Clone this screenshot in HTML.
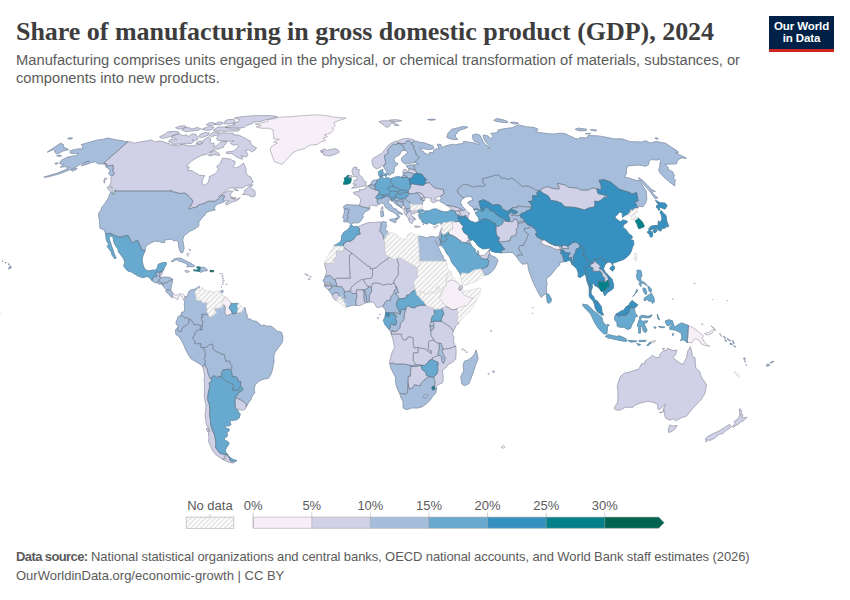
<!DOCTYPE html>
<html><head><meta charset="utf-8">
<style>
html,body{margin:0;padding:0;background:#fff;}
body{width:850px;height:600px;overflow:hidden;position:relative;font-family:"Liberation Sans",sans-serif;}
#title{position:absolute;left:16px;top:15.6px;font-family:"Liberation Serif",serif;font-weight:bold;font-size:26px;color:#3d3d3d;white-space:nowrap;letter-spacing:-0.03px;line-height:32px;}
#sub{position:absolute;left:16px;top:52.3px;font-size:14.73px;line-height:17.8px;color:#5b5b5b;white-space:nowrap;}
#logo{position:absolute;left:769px;top:16px;width:65px;height:36px;background:#002147;border-bottom:3px solid #ce261e;box-sizing:border-box;color:#fff;font-weight:bold;font-size:11.5px;line-height:11.8px;text-align:center;padding-top:5.2px;letter-spacing:-0.09px}
#foot{position:absolute;left:16px;top:546.6px;font-size:13px;line-height:19.8px;color:#5b5b5b;white-space:nowrap;}#foot b{letter-spacing:-0.6px}#foot span{letter-spacing:-0.095px}
svg{position:absolute;left:0;top:0}
.lg{font-size:12.5px;fill:#5b5b5b;font-family:"Liberation Sans",sans-serif}
</style></head><body>
<svg width="850" height="600" viewBox="0 0 850 600">
<defs>
<pattern id="h" width="3.6" height="3.6" patternUnits="userSpaceOnUse" patternTransform="rotate(45)"><rect width="3.6" height="3.6" fill="#fff"/><line x1="1.8" y1="0" x2="1.8" y2="3.6" stroke="#e5e5e5" stroke-width="2"/></pattern>
<pattern id="h2" width="3.4" height="3.4" patternUnits="userSpaceOnUse" patternTransform="rotate(45)"><rect width="3.4" height="3.4" fill="#fff"/><line x1="1.7" y1="0" x2="1.7" y2="3.4" stroke="#dadada" stroke-width="1.1"/></pattern>
</defs>
<g fill="#d0d1e6" stroke="#d0d1e6" stroke-width="0.8" stroke-linejoin="round">
<path d="M127.9,141.8L131.0,142.0L134.4,143.3L139.3,142.0L145.4,141.1L151.6,140.0L154.6,141.8L158.4,141.3L161.7,141.3L166.6,143.1L169.7,143.3L169.8,144.9L176.0,145.5L178.8,146.2L180.4,144.4L185.1,144.9L189.4,145.8L194.5,145.8L197.7,144.0L200.3,144.9L203.1,142.0L203.8,139.8L209.0,136.8L210.6,138.7L210.3,140.9L209.9,142.4L211.5,143.5L213.7,142.9L214.1,144.6L213.4,146.7L216.5,146.0L220.0,142.4L223.3,141.3L226.6,141.3L226.2,143.5L223.8,145.3L223.7,147.1L218.5,149.1L215.2,148.9L210.7,151.6L207.3,154.0L201.9,155.3L196.5,157.9L191.8,160.8L188.4,163.8L186.4,166.7L189.3,167.2L187.8,170.6L191.8,170.6L195.2,172.8L199.5,175.3L204.6,175.5L201.9,181.0L202.5,183.5L203.5,185.5L205.9,184.5L208.4,182.2L209.4,178.5L209.0,176.8L214.5,174.3L217.8,171.1L218.3,168.2L216.6,166.7L220.1,163.8L222.5,158.2L225.9,158.4L230.1,159.1L232.1,160.3L235.1,161.5L234.7,163.8L233.2,166.7L235.6,167.9L239.0,166.7L243.5,163.1L244.4,165.0L245.8,168.2L245.9,172.3L247.5,175.5L250.8,177.0L251.8,179.5L253.3,182.0L250.4,184.7L246.3,185.7L243.0,187.8L237.0,187.8L229.9,188.0L226.0,190.5L221.8,193.6L218.3,196.1L219.8,196.4L224.0,193.1L228.9,190.8L233.2,191.3L230.6,193.6L230.5,196.1L230.9,198.2L234.3,199.2L237.5,199.0L240.1,197.7L238.3,199.7L236.5,200.8L231.3,202.3L226.3,205.1L225.4,203.3L229.1,200.8L225.6,200.8L224.0,201.0L223.3,199.5L224.5,195.9L221.9,195.1L219.5,197.4L218.3,199.0L215.0,201.3L208.4,201.3L204.4,203.3L199.2,204.9L197.7,205.6L197.4,206.9L192.9,207.7L189.0,209.3L188.2,208.5L190.5,206.4L192.9,201.3L191.3,198.7L189.5,197.4L187.8,194.9L184.0,192.8L181.0,193.6L178.4,193.1L174.8,192.1L171.7,191.6L171.5,190.0L171.0,191.0L141.0,191.0L114.4,191.0L115.5,190.3L113.7,188.0L110.9,186.5L109.5,185.5L111.0,182.7L111.2,179.7L110.5,177.7L112.2,176.0L114.5,173.6L112.8,171.1L113.3,167.7L112.9,165.0L107.1,166.2L106.7,163.8L103.7,163.1ZM113.0,192.6L110.4,191.6L108.6,189.8L107.0,187.2L109.0,186.5L111.9,188.0L113.1,190.5ZM104.3,183.2L103.8,181.0L104.7,178.2L107.0,178.5L105.1,180.5ZM242.3,194.4L245.0,192.3L244.3,190.5L247.7,188.0L250.2,185.2L252.8,184.7L250.6,187.8L251.5,188.8L253.3,189.5L254.9,190.8L255.1,193.1L255.2,195.6L253.8,196.9L252.1,196.4L250.1,196.4L249.3,194.9L246.3,194.6ZM231.5,196.9L233.7,197.7L235.8,197.7L234.4,198.7L231.9,198.2ZM233.8,189.0L236.9,189.3L238.4,190.8L235.5,190.3ZM210.5,151.9L214.8,150.7L216.0,151.6L218.6,153.0L219.7,155.3L217.1,155.3L215.0,154.4L210.4,156.0L208.3,155.1L211.2,154.0ZM220.5,133.0L225.5,132.8L228.1,133.4L233.2,133.0L233.9,135.1L238.0,134.9L240.4,135.9L242.8,137.2L245.3,138.3L247.6,139.8L250.2,140.9L250.5,143.1L252.4,145.8L256.4,147.8L255.4,149.8L251.6,152.1L250.2,150.7L248.4,149.8L245.5,150.5L247.8,154.4L246.6,156.7L243.9,156.7L241.2,155.1L242.7,159.1L240.3,158.6L235.9,156.7L234.2,154.9L231.5,153.5L226.9,153.7L226.2,152.1L233.9,151.0L236.1,148.7L239.2,146.4L236.9,144.6L232.5,144.9L230.4,143.1L233.9,140.5L229.1,141.3L223.6,140.9L217.5,140.2L216.7,138.3L218.2,135.5ZM168.4,141.3L172.0,142.6L172.2,144.2L180.8,144.0L186.5,143.3L191.4,143.5L194.0,141.5L192.1,140.0L195.8,140.5L198.3,138.7L197.1,136.6L196.0,134.5L192.5,134.0L188.2,136.6L186.8,134.9L182.6,135.7L179.7,134.0L172.4,135.5L171.4,137.9L174.6,137.9L176.9,139.6L170.0,139.8ZM159.6,136.8L161.9,138.3L166.7,137.6L173.2,135.5L178.9,133.4L178.5,131.8L173.6,131.3L167.3,132.0L165.4,134.0ZM198.7,136.6L201.7,137.6L207.8,135.5L209.4,133.0L205.1,132.6L200.0,134.5ZM209.4,135.5L211.6,136.6L218.4,134.5L219.5,132.4L215.2,132.0L211.8,133.0ZM195.9,143.1L199.2,144.2L202.7,143.1L201.9,141.1L198.1,141.5ZM181.7,129.9L185.8,131.6L191.3,130.9L198.2,130.3L200.9,128.7L197.1,127.5L192.0,129.1L189.2,127.7L184.4,127.9ZM201.8,129.3L206.0,130.3L211.1,129.9L214.1,127.3L209.5,126.7L205.0,127.9ZM213.0,130.3L216.8,131.1L220.9,130.9L225.2,131.3L232.6,130.9L237.9,131.1L240.3,129.3L237.0,128.7L232.0,129.1L227.6,127.5L223.4,127.1L218.1,127.1ZM225.0,127.1L229.1,127.5L233.4,127.7L239.3,127.9L244.3,127.5L246.0,125.7L252.9,123.2L253.4,121.9L260.5,121.4L266.4,119.6L273.6,118.0L277.5,116.7L271.6,115.7L260.8,115.6L250.9,115.9L241.7,116.7L234.3,118.1L239.6,119.5L239.2,121.0L232.9,124.0L234.6,125.1L229.5,125.7ZM225.1,120.9L224.3,123.8L228.5,124.0L234.8,123.0L235.2,121.4L233.9,119.5L228.3,119.5ZM175.5,127.7L178.9,129.1L186.8,127.3L184.5,125.7L178.8,126.5ZM206.3,125.1L211.5,125.7L215.5,123.8L212.8,122.5L208.1,123.2ZM214.5,124.5L219.9,124.9L223.5,123.2L220.8,121.9L216.7,122.8Z"/>
<path d="M160.2,271.9L161.6,271.9L162.2,270.3L162.6,270.9L162.0,274.3L160.0,277.1L159.4,277.1Z"/>
<path d="M184.7,270.9L186.8,270.3L189.4,271.4L188.2,272.2L185.9,272.2Z"/>
<path d="M202.9,366.7L203.8,371.0L204.6,376.2L204.1,380.1L204.6,385.4L204.5,390.6L204.3,395.8L205.1,401.0L206.1,405.0L205.8,410.2L205.0,415.4L205.8,420.6L206.8,425.8L209.1,427.9L209.7,431.5L208.4,433.0L209.0,438.2L208.5,441.3L210.1,445.1L212.4,450.2L215.8,454.7L219.3,457.2L223.0,458.9L224.9,458.7L224.1,456.4L226.3,455.2L228.2,454.7L223.9,454.2L220.0,453.4L218.1,450.9L215.6,447.6L215.9,443.8L215.3,438.7L214.6,434.9L212.2,429.7L210.6,424.5L210.4,419.3L209.4,414.1L209.9,410.7L209.4,405.0L207.7,399.7L207.8,395.8L208.6,391.4L209.6,387.4L209.2,382.7L211.5,381.4L211.3,378.3L209.8,378.3L208.7,374.9L207.7,371.8L207.5,369.4L206.2,367.8L204.7,364.4ZM224.6,455.9L228.3,455.7L230.6,461.1L234.1,462.1L233.6,463.1L229.5,462.4L224.7,460.4L222.2,459.2L225.4,458.9L226.4,457.7ZM206.5,428.1L208.2,428.1L209.2,431.8L207.4,431.5Z"/>
<path d="M235.4,397.6L239.2,399.2L240.1,399.5L244.1,402.1L246.2,404.2L246.2,406.8L245.6,408.6L243.5,410.2L240.6,409.9L236.9,408.9L235.3,407.3L234.9,402.3Z"/>
<path d="M320.2,151.0L324.1,148.9L327.3,150.3L331.0,149.4L335.4,148.7L337.8,149.8L339.3,152.1L336.5,153.7L330.9,155.8L326.5,155.6L323.1,154.6L324.2,153.3L320.9,152.3L323.7,151.4Z"/>
<path d="M351.6,188.3L356.0,187.8L360.0,186.7L365.6,185.7L366.1,181.7L363.4,181.0L362.6,177.7L359.9,175.5L358.8,173.6L359.2,169.6L356.4,169.4L357.0,167.2L353.7,167.2L352.1,169.9L352.3,172.8L353.4,175.3L353.5,176.5L356.4,176.3L357.2,179.0L357.1,180.2L354.2,180.2L354.5,182.2L352.7,184.0L356.5,185.0L354.4,186.0ZM351.0,178.2L352.4,177.2L351.3,175.5L349.1,175.8L348.9,176.0L347.3,177.2L348.8,178.2Z"/>
<path d="M359.2,205.4L360.3,202.5L360.7,199.5L358.5,196.1L353.9,193.8L353.5,192.3L356.9,191.6L359.8,191.8L359.4,189.3L360.8,190.0L363.4,189.3L366.2,188.0L366.2,186.2L368.0,185.7L369.0,186.5L371.4,188.5L372.6,188.5L374.7,189.8L375.9,189.8L379.5,191.0L378.5,194.6L377.3,195.1L375.5,197.7L377.0,198.7L377.4,199.0L377.1,200.8L377.6,203.3L378.6,204.4L376.6,206.2L373.4,205.4L371.4,205.1L369.5,206.2L369.7,208.0L366.8,208.0L364.5,207.2L362.0,206.9ZM381.1,208.0L382.7,206.4L383.0,209.0L382.4,210.6L381.1,209.3Z"/>
<path d="M403.9,209.3L405.2,207.4L406.4,209.3L406.3,210.8L407.5,212.1L406.8,213.9L405.6,215.0L404.2,213.1L404.2,210.3Z"/>
<path d="M405.6,215.0L406.8,213.9L407.5,212.1L409.3,211.3L411.5,210.7L414.7,210.3L418.0,209.8L419.2,210.8L418.1,212.1L413.9,212.1L414.9,213.9L412.5,213.4L411.0,212.9L411.9,215.5L412.6,216.8L414.5,218.9L414.6,220.2L412.7,219.6L413.0,221.2L412.3,223.3L411.5,223.3L409.9,222.5L408.4,219.6L410.2,218.6L408.5,218.6L407.5,217.3L406.1,215.5ZM414.1,226.4L416.2,225.9L420.2,226.7L416.4,227.5ZM412.9,217.0L415.2,218.9L415.9,219.4L413.5,217.3ZM418.5,216.0L419.9,216.8L418.8,216.8ZM423.0,224.1L424.0,223.6L423.3,224.9Z"/>
<path d="M416.9,192.8L419.3,192.6L422.1,193.8L424.8,197.7L422.3,197.7L421.2,200.0L420.5,196.4Z"/>
<path d="M408.0,192.6L408.4,190.8L411.0,186.2L409.8,184.7L412.4,183.7L417.5,184.7L423.5,185.2L425.7,183.2L429.6,182.7L433.9,187.5L439.2,188.8L443.4,189.5L443.9,193.8L441.0,195.9L437.8,196.9L434.9,198.2L435.6,200.0L438.6,200.2L436.3,201.3L433.6,202.8L432.3,202.3L430.1,200.2L432.1,198.4L428.7,197.9L426.2,197.4L424.3,200.5L421.2,200.0L422.3,197.7L424.8,197.7L422.1,193.8L419.3,192.6L416.9,192.8L412.8,193.8L409.5,193.6Z"/>
<path d="M403.1,173.3L402.9,171.6L403.7,169.6L405.6,169.4L407.0,171.1L409.0,170.6L408.7,168.9L410.5,168.7L414.7,169.9L415.5,170.4L416.9,173.3L414.0,174.3L410.4,172.6L406.4,172.6Z"/>
<path d="M383.6,166.0L382.5,165.5L380.7,167.0L378.0,168.4L376.1,168.7L373.4,166.7L372.2,163.1L372.1,159.6L374.1,157.7L377.8,155.6L381.5,153.5L384.7,149.8L387.7,146.0L390.0,144.0L394.3,141.5L398.6,140.7L401.6,139.2L405.2,138.5L409.2,138.7L414.2,140.0L413.8,141.5L411.6,142.9L409.5,140.9L406.2,141.3L405.1,143.7L401.7,143.5L397.5,142.9L396.8,144.4L393.4,144.2L390.8,146.4L388.1,149.6L387.9,153.7L384.4,155.3L385.2,160.8L386.0,161.5L384.8,164.3ZM378.9,121.6L383.0,124.4L385.8,127.1L388.7,126.9L390.9,123.4L394.5,122.8L389.6,121.0L386.0,120.7L381.7,121.0ZM389.5,120.3L394.9,121.9L401.7,120.7L397.1,119.8L391.5,119.8ZM394.4,125.3L399.0,125.7L397.0,124.0L394.0,124.0Z"/>
<path d="M358.2,227.0L360.8,225.4L363.2,224.6L366.2,223.3L369.5,222.5L373.8,222.5L378.1,222.0L381.6,222.3L380.8,224.6L381.1,228.0L379.4,230.3L382.8,234.8L384.0,239.5L385.0,242.9L384.9,249.2L385.5,254.4L389.8,257.3L380.0,264.1L376.2,267.7L372.5,268.8L370.5,269.0L370.3,266.9L367.1,265.6L352.2,253.4L343.6,247.3L343.6,246.3L343.6,243.7L347.2,241.3L350.3,241.3L351.9,240.3L354.8,237.9L354.8,237.1L356.6,235.1L360.4,234.0L359.3,231.7L359.3,228.5Z"/>
<path d="M461.8,285.5L462.6,287.6L461.5,288.6L462.4,288.6L461.3,290.2L459.0,289.9L458.9,288.1L460.2,286.0Z"/>
<path d="M459.0,323.1L455.8,325.8L454.3,329.4L453.4,331.0L450.0,326.8L449.8,326.5L441.5,321.3L441.5,318.7L442.7,315.8L443.8,314.3L442.4,309.6L441.4,307.7L445.8,306.7L448.1,307.2L450.9,309.3L454.1,309.8L457.6,308.5L457.6,311.4L457.7,321.1Z"/>
<path d="M453.4,331.0L452.4,334.4L454.0,337.0L453.4,340.4L454.5,344.8L455.8,346.1L450.2,348.2L445.6,349.0L443.1,349.0L442.5,347.5L441.2,343.5L438.9,343.3L436.6,342.5L434.3,341.2L433.9,340.1L431.2,335.7L430.6,330.5L432.2,330.2L434.1,327.3L433.4,325.0L434.1,324.7L433.4,321.3L441.5,321.3L449.8,326.5L450.0,326.8Z"/>
<path d="M431.3,322.4L433.4,321.3L434.1,324.7L433.4,325.0L432.0,326.0L429.9,325.8L430.4,323.1Z"/>
<path d="M324.5,263.0L325.5,268.0L326.6,271.7L325.3,276.6L329.9,275.3L332.6,278.2L335.1,280.0L336.0,278.2L338.6,278.4L341.8,278.2L350.4,278.2L350.0,275.6L349.4,263.8L349.5,255.4L352.2,253.4L343.6,247.3L343.5,250.7L336.1,250.7L336.0,257.3L333.7,258.6L333.6,263.0Z"/>
<path d="M335.1,280.0L336.0,278.2L338.6,278.4L341.8,278.2L350.4,278.2L350.0,275.6L349.4,263.8L349.5,255.4L352.2,253.4L367.1,265.6L370.3,266.9L370.5,269.0L372.5,268.8L372.6,275.6L371.0,278.4L366.0,278.7L363.5,279.8L361.4,279.5L358.4,281.6L355.0,283.9L352.9,285.8L351.1,287.9L350.4,291.5L348.8,291.0L344.6,292.0L343.9,289.9L341.7,286.5L338.2,286.8L336.9,286.3L336.9,285.0Z"/>
<path d="M324.7,286.3L328.6,285.8L331.6,285.8L331.6,288.1L328.3,289.9L326.3,287.9Z"/>
<path d="M332.4,295.2L334.3,292.8L337.3,292.6L338.6,294.4L339.3,296.5L336.5,300.7L334.2,299.4L332.6,297.0Z"/>
<path d="M350.4,291.5L352.2,293.3L356.6,293.6L356.3,289.9L362.8,289.7L365.1,289.9L366.2,288.9L368.5,287.6L368.0,286.3L365.3,283.7L363.5,279.8L361.4,279.5L358.4,281.6L355.0,283.9L352.9,285.8L351.1,287.9Z"/>
<path d="M356.5,305.4L355.6,300.9L356.8,297.8L356.6,293.6L356.3,289.9L362.8,289.7L364.1,292.6L363.9,296.5L364.4,300.9L365.8,302.8L363.0,304.1L359.5,305.6Z"/>
<path d="M363.5,279.8L365.3,283.7L368.0,286.3L369.4,286.3L371.3,288.1L371.5,286.0L372.6,283.4L376.7,282.9L380.9,283.9L383.6,285.2L387.5,283.9L391.2,284.5L394.1,282.9L393.9,281.1L398.3,274.5L398.2,266.4L399.0,265.4L396.8,258.6L395.1,259.6L389.8,257.3L380.0,264.1L376.2,267.7L372.5,268.8L372.6,275.6L371.0,278.4L366.0,278.7Z"/>
<path d="M369.2,302.0L369.4,295.2L371.7,291.3L371.3,288.1L371.5,286.0L372.6,283.4L376.7,282.9L380.9,283.9L383.6,285.2L387.5,283.9L391.2,284.5L394.1,282.9L395.6,286.0L396.5,288.6L394.7,289.9L393.4,293.9L391.1,296.7L390.2,300.4L387.4,300.4L385.6,301.7L382.8,306.2L379.1,307.2L376.8,307.5L375.4,305.1L373.4,302.2Z"/>
<path d="M394.1,282.9L393.9,281.1L398.3,274.5L398.2,266.4L399.0,265.4L396.8,258.6L399.1,257.3L417.5,267.7L417.8,277.7L415.3,277.9L414.5,281.6L413.4,283.2L414.6,285.8L415.6,290.2L412.8,291.0L409.0,294.9L406.7,295.2L406.3,297.8L402.1,298.6L398.7,299.1L398.0,296.5L395.2,293.3L398.6,292.6L397.4,289.9L396.5,286.8L395.6,286.0Z"/>
<path d="M391.1,333.9L391.8,332.3L393.0,330.7L393.9,331.5L396.2,331.5L398.1,329.9L399.9,327.8L400.4,323.9L403.6,320.0L404.1,317.9L404.8,312.4L405.9,309.6L405.9,307.5L408.0,305.6L410.5,307.2L414.7,308.0L415.8,306.4L419.3,305.6L421.8,305.1L426.2,305.4L430.3,307.2L432.7,307.5L434.3,309.3L434.1,312.4L435.3,313.2L432.0,316.9L431.3,320.0L431.3,322.4L430.4,323.1L429.9,325.8L430.4,327.3L430.6,330.5L431.2,335.7L433.9,340.1L429.5,340.9L428.3,343.0L428.7,346.1L428.2,349.5L429.7,351.1L431.3,350.6L431.3,353.7L428.1,351.4L425.4,349.0L421.3,348.2L419.0,348.2L418.1,347.2L414.2,348.0L413.1,343.5L413.4,340.4L413.2,337.8L409.8,337.0L407.9,337.0L406.7,339.6L403.5,339.9L401.9,337.5L401.3,334.1L395.3,334.1L393.2,334.1L391.3,334.4Z"/>
<path d="M391.3,334.4L393.2,334.1L395.3,334.1L401.3,334.1L401.9,337.5L403.5,339.9L406.7,339.6L407.9,337.0L409.8,337.0L413.2,337.8L413.4,340.4L413.1,343.5L414.2,348.0L418.1,347.2L418.0,352.7L413.4,352.7L413.2,361.0L416.3,364.7L411.7,365.7L405.1,364.2L394.9,364.2L393.1,362.9L389.8,363.8L389.9,360.5L391.6,353.7L394.5,347.5L393.8,343.0L392.7,338.3ZM390.7,331.8L391.6,330.7L393.0,330.7L391.8,332.3L391.1,333.9Z"/>
<path d="M418.1,347.2L419.0,348.2L421.3,348.2L425.4,349.0L428.1,351.4L431.3,353.7L431.3,350.6L429.7,351.1L428.2,349.5L428.7,346.1L428.3,343.0L429.5,340.9L433.9,340.1L434.3,341.2L436.6,342.5L438.9,343.3L439.5,346.9L438.7,351.4L437.9,354.2L439.0,355.3L432.0,357.9L432.4,359.5L429.2,360.3L428.7,361.8L424.5,365.5L420.6,365.2L420.4,365.2L416.3,364.7L413.2,361.0L413.4,352.7L418.0,352.7Z"/>
<path d="M455.8,346.1L456.1,351.4L455.9,356.6L455.7,359.2L453.1,361.8L448.4,364.4L445.5,367.8L442.2,370.7L443.2,376.2L443.0,380.1L442.6,382.7L438.2,384.8L436.5,386.4L436.6,388.8L434.8,388.8L434.5,386.1L435.0,382.7L433.7,377.3L436.5,374.4L437.9,370.5L437.6,367.1L438.2,363.1L438.0,362.4L433.8,360.5L432.4,359.5L432.0,357.9L439.0,355.3L441.9,356.9L441.5,360.5L443.4,363.4L444.7,360.5L445.1,357.6L443.2,354.0L442.1,351.4L443.1,349.0L445.6,349.0L450.2,348.2Z"/>
<path d="M420.6,365.2L422.5,369.9L425.8,372.3L426.3,375.2L429.4,376.7L426.9,378.0L423.8,380.4L421.2,383.3L420.2,385.9L414.6,384.8L412.2,388.2L409.3,389.0L408.0,383.5L408.2,376.2L410.5,376.2L410.8,366.5L416.2,366.5L418.8,365.7L420.4,365.2Z"/>
<path d="M539.9,190.5L543.1,188.0L547.3,186.5L553.4,188.5L558.7,189.0L559.4,188.5L557.4,183.2L565.9,185.2L567.7,187.2L577.1,188.0L581.3,190.0L588.4,190.0L592.1,188.0L597.0,188.8L597.4,191.6L598.2,193.6L602.1,194.4L607.9,196.1L608.6,196.9L603.9,197.4L602.0,199.5L598.6,201.5L594.6,201.3L595.1,203.8L594.6,206.9L588.8,208.0L584.6,210.0L574.9,207.4L566.3,206.9L564.9,206.9L561.6,203.3L556.5,201.3L551.0,200.5L548.4,196.1L542.4,192.8Z"/>
<path d="M495.9,225.6L498.4,226.4L500.1,225.1L502.6,223.8L502.8,221.7L504.5,220.7L506.3,221.2L509.2,221.5L512.5,221.7L513.7,220.4L514.3,218.9L516.7,219.6L517.7,222.5L521.4,221.0L524.5,221.5L522.9,222.5L517.9,223.6L518.0,227.2L516.0,229.8L517.0,231.7L515.6,235.3L510.9,236.9L510.0,240.3L509.8,240.8L501.8,241.9L498.1,240.8L499.5,237.7L497.1,236.4L495.9,232.2L495.9,229.0Z"/>
<path d="M561.8,248.4L564.3,248.6L568.7,248.4L567.4,246.0L563.6,245.0L561.7,246.8L561.6,247.3Z"/>
<path d="M589.9,265.6L590.3,265.4L592.0,263.0L593.2,263.3L593.6,260.1L595.7,262.0L598.5,264.1L600.9,266.4L599.1,268.0L602.2,270.1L606.0,274.5L608.2,277.4L608.8,280.3L606.6,280.8L605.6,282.4L603.7,281.3L604.4,281.1L604.2,277.9L602.1,275.8L601.7,273.2L599.5,270.9L596.7,271.9L595.3,271.1L592.9,272.2L592.7,267.7L591.1,267.7Z"/>
<path d="M479.1,255.2L481.7,258.8L487.6,259.4L488.6,255.4L489.7,253.6L489.3,251.8L488.7,250.7L486.5,252.8L484.5,255.4L481.2,255.4Z"/>
<path d="M440.0,232.2L441.0,231.7L442.9,229.3L442.4,228.3L441.5,228.3Z"/>
<path d="M446.6,205.4L449.7,205.6L454.1,206.7L457.4,207.4L461.0,209.3L460.9,211.1L458.1,210.8L455.0,211.3L453.4,210.3L450.6,210.3L450.7,208.5L448.8,206.4Z"/>
<path d="M455.0,211.3L458.1,210.8L459.4,212.1L461.0,215.0L462.5,217.0L461.6,217.0L459.0,215.7L458.5,215.0L455.9,213.9Z"/>
<path d="M458.1,210.8L460.9,211.1L461.0,209.3L463.4,210.8L465.2,209.3L468.0,212.6L469.8,213.1L468.3,216.0L467.9,218.3L465.7,217.0L466.1,215.7L463.4,216.3L461.6,217.0L462.5,217.0L461.0,215.0L459.4,212.1Z"/>
<path d="M621.2,375.7L624.6,373.1L628.1,372.5L632.9,371.0L638.9,369.1L641.7,363.7L644.4,363.9L645.1,361.0L648.6,358.7L652.5,355.3L655.7,357.4L659.1,357.6L660.3,354.0L662.9,351.1L667.2,350.1L667.4,348.2L672.6,350.6L676.8,350.1L675.5,354.8L672.8,357.6L675.8,360.0L679.8,363.1L683.2,364.4L686.5,357.9L687.7,351.4L690.3,346.7L691.9,352.2L692.0,356.1L695.1,357.9L695.3,363.1L695.8,368.4L699.7,371.5L700.9,376.2L703.0,379.6L706.5,384.8L704.9,393.5L701.0,399.7L695.8,405.0L691.2,410.2L686.3,416.2L681.1,417.8L675.7,420.9L673.5,418.8L670.2,420.1L665.8,418.3L664.7,415.4L664.8,411.8L663.1,411.8L664.7,409.7L662.7,410.7L666.0,403.9L662.7,406.8L659.1,409.7L657.9,408.9L657.6,404.4L653.6,402.3L647.4,401.3L640.1,403.1L635.0,405.0L633.0,407.3L625.4,407.3L619.8,410.2L615.7,409.7L614.0,408.4L617.7,402.3L617.9,397.1L618.0,390.6L617.2,386.7L618.3,382.7L619.9,377.8ZM669.8,425.0L673.0,426.1L677.1,425.5L674.9,428.9L671.5,431.5L668.7,432.5L668.1,429.7ZM662.1,348.5L664.8,348.5L663.6,349.5ZM659.4,412.3L662.4,412.3L660.6,412.8Z"/>
<path d="M739.8,408.6L741.9,411.0L740.6,414.9L742.9,414.6L741.8,417.0L743.9,417.8L747.1,417.2L743.7,420.6L741.0,421.4L739.1,423.7L732.9,427.4L732.2,426.6L735.0,423.7L734.1,421.4L736.7,420.1L739.6,416.2L739.9,413.3L739.3,410.7ZM729.6,424.5L731.0,426.3L730.6,427.6L725.2,431.0L723.3,433.3L719.0,434.3L714.7,438.2L710.4,440.2L707.9,440.2L705.0,439.2L707.7,436.6L713.3,433.6L718.9,431.0L724.1,427.9L727.7,425.3ZM706.0,440.7L707.0,441.0L705.6,441.8Z"/>
<path d="M461.9,349.3L462.6,348.5L463.3,349.3L462.6,350.1ZM464.3,350.6L464.9,349.9L465.4,350.6L464.8,351.2ZM466.0,352.2L466.6,351.5L467.2,352.2L466.6,352.8Z"/>
<path d="M490.4,330.9L491.0,330.2L491.6,330.9L491.0,331.5Z"/>
<path d="M377.5,318.0L378.2,317.3L378.9,318.0L378.2,318.8ZM379.6,314.5L380.1,314.0L380.5,314.5L380.1,315.0Z"/>
<path d="M308.3,279.2L309.1,278.3L309.9,279.2L309.0,280.1ZM306.9,275.3L307.6,274.5L308.3,275.3L307.6,276.1ZM309.9,276.6L310.5,276.0L311.1,276.6L310.5,277.3ZM305.1,274.3L305.8,273.5L306.5,274.3L305.8,275.0Z"/>
<path d="M221.9,276.4L222.6,275.6L223.2,276.4L222.5,277.1ZM222.3,278.4L222.9,277.9L223.3,278.4L222.8,279.0ZM222.9,280.4L223.5,279.7L224.1,280.4L223.4,281.1ZM222.9,282.4L223.4,281.8L223.8,282.4L223.3,282.9ZM222.4,284.2L222.8,283.7L223.2,284.2L222.8,284.7ZM226.1,284.3L226.6,283.8L227.0,284.3L226.5,284.9ZM221.1,287.1L221.5,286.6L221.9,287.1L221.4,287.5ZM221.7,274.0L222.2,273.5L222.6,274.0L222.1,274.5ZM219.8,273.5L220.2,273.1L220.5,273.5L220.1,273.9Z"/>
<path d="M-32.6,354.2L-31.9,353.3L-31.0,354.2L-31.6,355.2ZM-30.7,355.0L-30.2,354.2L-29.4,355.0L-29.9,355.8Z"/>
<path d="M-34.1,374.1L-33.7,373.5L-32.9,374.1L-33.3,374.8Z"/>
</g>
<g fill="#a6bddb" stroke="#a6bddb" stroke-width="0.8" stroke-linejoin="round">
<path d="M114.4,191.0L141.0,191.0L171.0,191.0L171.5,190.0L171.7,191.6L174.8,192.1L178.4,193.1L181.0,193.6L184.0,192.8L187.8,194.9L189.5,197.4L191.3,198.7L192.9,201.3L190.5,206.4L188.2,208.5L189.0,209.3L192.9,207.7L197.4,206.9L197.7,205.6L199.2,204.9L204.4,203.3L208.4,201.3L215.0,201.3L218.3,199.0L219.5,197.4L221.9,195.1L224.5,195.9L223.3,199.5L224.0,201.0L224.2,201.8L220.7,203.1L216.6,204.6L214.5,207.2L214.3,209.0L215.4,209.8L212.0,210.6L209.7,211.1L206.0,212.6L204.8,215.2L202.1,217.8L199.4,221.2L198.9,222.3L198.7,226.2L196.3,228.0L193.0,229.8L190.0,231.1L185.9,234.3L183.6,236.6L182.7,239.8L183.5,244.2L184.0,248.6L182.7,252.6L180.9,252.8L179.4,249.4L178.5,246.0L178.5,242.9L176.9,240.0L173.7,241.1L171.9,239.2L168.1,239.5L164.7,239.8L164.7,242.6L162.1,242.6L159.6,241.6L154.9,241.1L151.9,242.4L147.8,244.7L145.7,246.8L145.1,250.7L141.1,249.7L140.8,246.8L139.5,244.7L138.1,240.8L135.7,240.8L133.5,242.9L131.1,241.3L128.3,235.6L124.6,235.6L124.2,236.9L118.0,236.9L110.7,233.7L111.1,233.2L105.6,233.7L104.0,229.8L100.1,228.3L99.4,223.0L99.6,219.9L98.6,216.0L98.8,213.1L101.2,209.5L102.0,206.9L104.7,203.8L108.4,197.9L110.4,192.6L113.5,193.1L113.4,195.1L115.2,191.0ZM127.9,141.8L103.7,163.1L106.7,163.8L107.1,166.2L112.9,165.0L113.3,167.7L112.8,171.1L114.5,173.6L112.2,176.0L110.1,175.3L108.7,173.6L110.2,169.9L108.0,168.2L106.1,167.2L105.3,164.3L102.1,163.8L97.5,163.8L96.1,161.7L91.6,162.4L86.8,164.3L81.2,165.8L85.0,162.7L89.6,161.0L86.3,161.5L80.3,164.3L75.0,167.5L68.1,170.4L60.0,173.6L53.1,175.5L48.0,176.8L43.9,177.2L50.7,175.0L57.6,173.1L65.5,169.6L69.2,167.0L66.6,167.0L64.6,166.7L60.4,167.2L63.7,164.3L60.3,164.1L59.9,162.4L61.6,160.0L67.3,157.2L71.7,156.3L76.2,155.6L79.1,153.3L75.6,153.5L72.9,153.3L70.1,153.0L70.2,150.7L75.5,149.4L79.9,148.7L82.8,149.4L82.3,147.6L83.2,146.0L81.2,144.6L85.7,143.3L91.2,141.8L96.8,140.2L103.4,139.2L107.4,138.1L111.9,138.9L115.6,139.8L121.0,140.7ZM71.0,170.1L72.6,171.1L76.1,169.6L77.1,168.2L74.1,168.7ZM56.6,155.8L59.2,156.3L61.6,156.0L60.2,155.1ZM54.9,163.4L56.0,164.3L58.3,163.1L57.0,162.9ZM8.6,269.0L11.1,268.0L11.4,266.7L9.8,265.9L9.0,267.2ZM8.3,264.6L9.4,264.6L9.1,263.8L8.2,263.9ZM5.1,262.8L6.2,263.0L5.9,262.0ZM2.1,261.2L2.7,261.5L2.9,260.7Z"/>
<path d="M152.1,280.8L152.3,279.0L153.7,276.6L156.7,276.6L156.6,275.6L155.7,273.7L155.9,272.2L160.2,271.9L159.4,277.1L161.3,277.7L159.1,279.8L158.5,281.1L156.7,282.6L154.0,282.4Z"/>
<path d="M156.7,282.6L158.5,281.1L160.4,282.4L162.0,282.4L161.9,283.9L159.6,284.2Z"/>
<path d="M159.1,279.8L161.3,277.7L163.2,277.1L166.7,277.1L170.1,277.4L172.8,279.5L169.8,280.3L167.3,282.4L164.5,282.9L163.6,284.7L162.6,283.9L161.9,283.9L162.0,282.4L160.4,282.4L158.5,281.1Z"/>
<path d="M162.6,283.9L163.6,284.7L164.5,282.9L167.3,282.4L169.8,280.3L172.8,279.5L171.7,284.7L170.9,288.6L170.8,290.2L168.5,289.9L166.2,289.7L164.5,287.9L162.4,285.2Z"/>
<path d="M166.2,289.7L168.5,289.9L170.8,290.2L173.1,293.6L172.3,295.4L172.2,297.5L170.4,296.2L168.3,293.6L167.2,292.8L165.9,291.8Z"/>
<path d="M171.1,261.5L174.6,258.8L178.1,258.1L181.4,258.3L184.6,260.1L187.8,261.7L191.0,263.3L194.8,265.9L192.9,266.7L186.7,266.8L188.1,264.9L185.3,263.3L182.1,262.0L178.2,260.7L176.1,259.6L174.4,260.7L173.1,261.5Z"/>
<path d="M199.6,271.4L200.9,272.4L203.8,270.9L207.0,270.9L207.5,269.8L205.8,268.5L204.2,267.2L200.1,267.2Z"/>
<path d="M220.7,292.3L222.8,292.3L223.1,290.5L221.3,290.7Z"/>
<path d="M184.9,296.0L186.2,297.8L187.5,295.2L189.3,291.0L191.3,289.7L194.7,289.2L197.4,287.6L198.6,286.3L199.9,287.1L199.4,287.9L197.8,288.4L196.5,289.7L195.3,291.5L195.2,293.1L195.6,294.9L196.4,296.7L196.0,299.4L197.2,300.4L200.2,300.1L203.1,302.8L207.5,302.5L206.7,304.8L206.6,307.5L207.7,309.8L206.5,311.4L207.9,312.7L208.5,315.6L208.1,315.6L206.0,314.3L201.9,314.3L201.8,315.8L203.2,316.1L202.8,316.9L201.4,317.1L201.4,319.2L202.8,321.6L201.8,329.7L199.9,328.6L201.2,325.8L197.3,324.5L194.7,325.0L192.8,322.1L190.3,319.2L189.1,319.0L188.4,318.4L186.8,317.7L184.3,317.7L183.4,316.6L181.1,315.0L181.6,312.2L184.1,311.9L184.7,308.8L184.3,304.3L184.7,301.2L183.6,299.9L185.3,298.1Z"/>
<path d="M181.1,315.0L178.1,316.6L177.1,319.7L176.2,321.6L176.3,324.7L178.4,325.2L177.7,327.6L177.6,330.2L179.7,331.5L180.8,331.8L182.1,328.9L183.5,326.5L186.2,325.5L188.5,322.9L189.1,321.1L189.1,319.0L188.4,318.4L186.8,317.7L184.3,317.7L183.4,316.6Z"/>
<path d="M177.7,327.6L175.5,329.9L175.9,334.4L179.0,336.7L181.2,340.1L183.7,344.8L185.9,350.1L188.6,355.0L191.2,359.0L195.3,361.3L200.1,364.2L202.9,366.7L204.7,364.4L205.5,361.0L204.0,359.5L205.2,357.4L205.1,352.2L203.2,347.5L200.9,347.5L200.7,343.5L196.8,343.8L194.7,343.3L195.3,342.0L192.6,338.0L193.2,336.7L194.6,335.4L194.9,332.3L197.2,330.5L199.7,329.7L201.8,329.7L199.9,328.6L201.2,325.8L197.3,324.5L194.7,325.0L192.8,322.1L190.3,319.2L189.1,319.0L189.1,321.1L188.5,322.9L186.2,325.5L183.5,326.5L182.1,328.9L180.8,331.8L179.7,331.5L177.6,330.2Z"/>
<path d="M204.7,364.4L205.5,361.0L204.0,359.5L205.2,357.4L205.1,352.2L203.2,347.5L205.5,347.7L209.7,344.6L212.6,344.1L213.1,348.8L215.3,351.1L219.1,352.7L221.5,354.0L224.5,354.8L225.6,361.0L229.7,361.3L230.2,363.9L231.9,365.7L231.7,368.4L231.0,370.5L228.8,369.1L223.0,369.9L221.8,372.3L221.6,376.7L218.6,376.2L217.9,378.3L215.7,376.5L213.1,375.7L211.3,378.3L209.8,378.3L208.7,374.9L207.7,371.8L207.5,369.4L206.2,367.8Z"/>
<path d="M243.7,308.2L245.1,307.5L246.0,312.7L247.6,316.1L246.6,318.2L251.0,319.5L252.2,320.5L256.8,321.6L260.3,324.5L260.8,326.0L263.8,325.0L267.2,326.3L270.7,326.0L274.2,328.4L277.2,331.2L281.6,332.3L282.9,337.5L282.5,341.7L279.6,346.1L277.4,348.8L274.8,352.7L273.8,356.6L274.0,361.8L273.1,365.7L272.3,370.5L270.5,375.2L268.4,378.3L265.5,378.8L262.2,379.6L258.8,381.4L255.2,384.8L254.2,388.0L254.7,392.7L252.4,395.8L250.8,399.7L248.4,402.9L246.2,406.8L246.2,404.2L244.1,402.1L240.1,399.5L239.2,399.2L235.4,397.6L238.7,392.9L243.0,389.8L242.6,388.5L240.5,385.6L240.8,381.7L238.2,381.2L237.5,377.8L235.4,376.7L232.2,376.5L231.8,372.8L231.0,370.5L231.7,368.4L231.9,365.7L230.2,363.9L229.7,361.3L225.6,361.0L224.5,354.8L221.5,354.0L219.1,352.7L215.3,351.1L213.1,348.8L212.6,344.1L209.7,344.6L205.5,347.7L203.2,347.5L200.9,347.5L200.7,343.5L196.8,343.8L194.7,343.3L195.3,342.0L192.6,338.0L193.2,336.7L194.6,335.4L194.9,332.3L197.2,330.5L199.7,329.7L201.8,329.7L202.8,321.6L201.4,319.2L201.4,317.1L202.8,316.9L203.2,316.1L201.8,315.8L201.9,314.3L206.0,314.3L208.1,315.6L208.5,315.6L209.9,316.9L211.8,316.6L215.3,313.7L216.7,312.4L214.0,309.6L215.4,308.0L218.4,308.2L222.3,306.9L223.1,305.1L224.7,305.6L225.5,308.5L224.8,311.6L225.2,314.0L227.2,315.6L231.4,313.7L232.6,313.7L234.0,313.7L237.0,312.7L241.6,312.4Z"/>
<path d="M344.3,209.3L345.7,208.7L349.1,209.3L349.7,210.0L348.4,211.6L348.3,213.7L347.0,215.2L348.0,216.8L347.3,218.9L346.8,221.5L343.8,222.0L344.1,218.1L342.7,217.6L344.1,213.7L344.4,211.1Z"/>
<path d="M344.3,209.3L343.5,206.4L346.3,204.6L350.9,204.9L355.7,205.1L359.2,205.4L362.0,206.9L364.5,207.2L366.8,208.0L369.7,208.0L369.7,209.3L367.6,210.6L364.7,212.1L362.6,215.5L363.4,217.3L361.7,219.4L361.3,220.4L358.5,222.8L353.5,222.8L351.3,224.3L349.4,223.0L346.8,221.5L347.3,218.9L348.0,216.8L347.0,215.2L348.3,213.7L348.4,211.6L349.7,210.0L349.1,209.3L345.7,208.7Z"/>
<path d="M368.0,185.7L369.7,185.0L371.5,185.0L372.9,184.7L374.5,185.7L374.4,186.5L375.0,186.5L375.4,187.0L375.2,188.3L374.7,189.8L372.6,188.5L371.4,188.5L369.0,186.5Z"/>
<path d="M369.7,185.0L370.9,183.5L372.2,181.0L373.8,180.2L376.7,180.0L377.1,180.5L376.8,182.2L376.2,183.5L374.9,184.0L375.3,185.0L375.0,186.5L374.4,186.5L374.5,185.7L372.9,184.7L371.5,185.0Z"/>
<path d="M378.6,204.4L377.6,203.3L377.1,200.8L377.4,199.0L379.3,199.0L380.2,197.9L381.5,199.0L382.1,197.7L384.3,197.4L384.3,196.4L387.7,196.1L388.4,196.9L391.1,197.4L391.0,199.5L388.6,200.2L388.6,203.3L391.4,205.1L392.8,208.0L396.7,209.3L396.6,210.3L402.3,213.7L402.2,214.7L399.1,212.9L398.4,215.0L399.8,216.8L398.4,218.6L396.7,219.6L396.8,217.6L397.6,216.5L396.2,214.2L393.8,212.6L389.6,210.6L386.3,208.0L385.0,206.4L384.2,204.1L381.5,202.8L379.7,204.1ZM389.6,219.4L396.5,218.6L395.6,222.8L389.9,220.4ZM380.4,211.3L383.3,211.3L383.7,216.0L381.2,217.0L380.8,212.9Z"/>
<path d="M391.1,200.0L394.6,200.0L395.3,198.2L396.8,197.4L399.0,199.0L401.7,199.0L403.1,200.8L402.3,201.5L397.9,200.8L395.7,200.8L395.8,202.0L396.7,203.3L399.8,206.4L401.9,208.0L399.2,206.2L396.2,204.6L394.4,203.1L393.0,200.8L392.0,201.5L391.1,201.0Z"/>
<path d="M395.7,200.8L397.9,200.8L402.3,201.5L403.2,201.5L402.7,203.1L403.8,204.1L402.1,205.9L401.8,207.4L399.8,206.4L396.7,203.3L395.8,202.0Z"/>
<path d="M401.7,199.0L404.7,198.4L407.4,200.8L410.1,202.5L409.6,203.8L411.1,205.9L410.1,208.2L408.4,208.5L406.4,209.3L405.2,207.4L403.1,205.1L403.8,204.1L402.7,203.1L403.2,201.5L402.3,201.5L403.1,200.8Z"/>
<path d="M406.4,209.3L408.4,208.5L410.1,208.2L411.5,210.7L409.3,211.3L407.5,212.1L406.3,210.8Z"/>
<path d="M404.7,198.4L406.6,197.2L409.5,193.6L412.8,193.8L416.9,192.8L420.5,196.4L421.2,200.0L424.3,200.5L422.5,202.0L422.6,204.6L418.2,204.4L414.1,204.9L410.3,203.8L409.6,203.8L410.1,202.5L407.4,200.8Z"/>
<path d="M403.6,175.3L403.1,173.3L406.4,172.6L410.4,172.6L414.0,174.3L412.8,176.3L412.4,177.7L408.7,178.7L407.2,177.5L406.8,176.3Z"/>
<path d="M408.7,168.9L406.9,167.0L406.5,165.8L410.2,164.8L414.9,165.0L414.1,166.7L414.9,169.2L414.7,169.9L410.5,168.7Z"/>
<path d="M383.6,166.0L384.1,167.7L385.6,169.9L387.2,172.8L388.0,175.0L390.5,174.8L390.7,173.3L393.5,173.1L394.3,169.9L394.4,167.2L397.3,165.0L397.8,163.6L394.5,161.9L394.0,158.6L396.1,156.7L399.4,154.9L400.8,152.6L401.7,150.5L405.1,150.3L403.7,147.6L403.0,145.5L397.5,142.9L396.8,144.4L393.4,144.2L390.8,146.4L388.1,149.6L387.9,153.7L384.4,155.3L385.2,160.8L386.0,161.5L384.8,164.3Z"/>
<path d="M405.1,150.3L407.3,151.6L407.6,153.0L403.2,156.3L401.4,158.2L401.9,161.5L404.4,163.4L405.5,164.1L409.9,163.1L414.0,162.7L416.2,160.8L419.5,157.0L416.3,155.1L415.2,150.5L413.2,147.8L414.1,146.0L411.1,144.2L411.6,142.9L409.5,140.9L406.2,141.3L405.1,143.7L401.7,143.5L397.5,142.9L403.0,145.5L403.7,147.6Z"/>
<path d="M381.6,222.3L384.1,221.2L385.3,222.5L386.7,222.0L385.7,223.8L386.7,225.9L385.0,229.0L386.9,230.9L388.2,231.9L388.3,234.0L385.7,235.8L385.3,237.9L384.0,239.5L382.8,234.8L379.4,230.3L381.1,228.0L380.8,224.6Z"/>
<path d="M418.6,236.1L422.6,236.6L427.1,237.9L430.3,236.4L433.6,236.6L435.0,237.4L438.5,236.9L440.5,241.6L439.7,245.5L439.3,246.0L437.9,244.7L435.5,240.5L434.9,241.6L438.0,246.0L439.1,248.9L441.7,254.1L443.2,256.2L443.1,258.3L446.4,261.2L434.0,261.2L419.5,261.2L418.6,242.4L417.7,239.8Z"/>
<path d="M429.9,325.8L432.0,326.0L433.4,325.0L434.1,327.3L432.2,330.2L430.6,330.5L430.4,327.3Z"/>
<path d="M325.3,276.6L329.9,275.3L332.6,278.2L335.1,280.0L336.9,285.0L336.9,286.3L331.6,285.8L328.6,285.8L324.7,286.3L324.5,284.5L328.6,284.2L331.4,283.7L328.7,282.6L324.5,283.2L323.0,280.3L324.6,278.2Z"/>
<path d="M328.3,289.9L331.6,288.1L331.6,285.8L336.9,286.3L338.2,286.8L341.7,286.5L343.9,289.9L344.6,292.0L343.9,293.9L345.3,296.7L343.9,298.8L341.4,299.4L341.6,296.7L339.3,296.5L338.6,294.4L337.3,292.6L334.3,292.8L332.4,295.2L329.7,291.5Z"/>
<path d="M345.7,307.2L345.7,303.5L343.4,301.7L343.9,298.8L345.3,296.7L343.9,293.9L344.6,292.0L348.8,291.0L350.4,291.5L352.2,293.3L356.6,293.6L356.8,297.8L355.6,300.9L356.5,305.4L352.6,305.1L349.2,306.2Z"/>
<path d="M365.8,302.8L364.4,300.9L363.9,296.5L364.1,292.6L362.8,289.7L365.1,289.9L364.8,291.8L366.2,294.4L366.7,300.7L367.1,302.5Z"/>
<path d="M367.1,302.5L366.7,300.7L366.2,294.4L364.8,291.8L365.1,289.9L366.2,288.9L368.5,287.6L368.0,286.3L369.4,286.3L371.3,288.1L371.7,291.3L369.4,295.2L369.2,302.0Z"/>
<path d="M382.8,306.2L385.6,301.7L387.4,300.4L390.2,300.4L391.1,296.7L393.4,293.9L394.7,289.9L396.5,288.6L395.6,286.0L396.5,286.8L397.4,289.9L398.6,292.6L395.2,293.3L398.0,296.5L398.7,299.1L396.6,302.5L396.4,305.6L398.1,308.8L399.9,312.7L400.4,314.3L396.5,312.9L393.7,312.9L389.1,312.9L385.6,312.7L385.4,309.6L383.8,308.2Z"/>
<path d="M388.6,328.9L390.5,327.8L389.8,325.0L391.9,323.9L393.0,325.0L395.8,325.0L396.2,323.7L396.5,320.3L395.1,319.2L396.5,316.6L395.8,315.0L393.5,315.3L393.7,312.9L396.5,312.9L400.4,314.3L399.9,312.7L400.4,312.9L401.3,309.6L403.4,309.3L405.9,309.6L404.8,312.4L404.1,317.9L403.6,320.0L400.4,323.9L399.9,327.8L398.1,329.9L396.2,331.5L393.9,331.5L393.0,330.7L391.6,330.7L390.7,331.8Z"/>
<path d="M438.9,343.3L441.2,343.5L442.5,347.5L443.1,349.0L442.1,351.4L443.2,354.0L445.1,357.6L444.7,360.5L443.4,363.4L441.5,360.5L441.9,356.9L439.0,355.3L437.9,354.2L438.7,351.4L439.5,346.9Z"/>
<path d="M389.8,363.8L393.1,362.9L394.9,364.2L405.1,364.2L411.7,365.7L416.3,364.7L420.4,365.2L418.8,365.7L416.2,366.5L410.8,366.5L410.5,376.2L408.2,376.2L408.0,383.5L407.5,392.9L405.3,394.2L401.7,393.7L399.7,393.5L398.1,390.6L396.6,386.7L395.6,381.4L395.5,377.5L393.3,373.1L390.7,367.8Z"/>
<path d="M399.7,393.5L401.7,393.7L405.3,394.2L407.5,392.9L408.0,383.5L409.3,389.0L412.2,388.2L414.6,384.8L420.2,385.9L421.2,383.3L423.8,380.4L426.9,378.0L429.4,376.7L433.7,377.3L435.0,382.7L434.5,386.1L432.5,386.7L431.9,388.5L432.9,390.1L434.8,388.8L436.6,388.8L435.6,393.2L432.4,396.6L429.9,400.5L425.6,404.4L422.1,406.8L419.2,407.6L416.5,408.1L412.2,407.8L406.6,409.7L404.0,408.6L403.2,408.1L403.1,405.0L403.1,401.8L401.3,398.4Z"/>
<path d="M422.9,396.1L426.4,393.7L428.3,395.8L425.6,398.4L423.7,397.9Z"/>
<path d="M476.1,350.1L478.0,357.9L477.6,360.5L475.7,364.4L473.7,371.0L469.9,381.4L468.6,384.0L464.2,385.6L461.9,384.0L460.8,377.5L461.7,374.4L463.7,371.0L463.1,365.7L464.3,361.3L468.7,359.7L472.3,356.9L474.8,353.5Z"/>
<path d="M414.4,141.3L416.2,141.1L419.0,142.2L423.3,142.6L432.8,145.8L434.0,148.2L432.2,149.1L428.9,149.6L423.4,148.7L419.3,147.6L424.0,152.1L424.4,153.5L429.5,154.6L429.7,152.3L433.5,153.0L433.5,150.5L436.4,148.7L439.2,149.4L437.3,144.2L440.9,144.6L442.1,147.8L444.5,146.2L448.7,145.1L453.3,144.2L454.5,144.9L459.1,144.0L463.1,143.5L463.6,141.3L470.9,142.4L475.6,143.3L479.1,144.9L478.6,142.6L474.6,141.5L472.8,138.7L472.7,134.9L476.2,134.0L479.6,134.9L481.4,138.1L483.2,142.0L485.4,144.2L489.4,147.1L487.6,149.1L490.2,146.4L488.0,144.2L485.0,140.9L483.5,137.6L483.2,134.9L488.0,135.9L490.9,138.7L493.0,136.2L490.8,133.4L497.4,132.8L498.0,130.1L504.3,128.7L512.4,127.7L515.2,126.3L518.4,124.9L522.0,125.7L526.6,126.9L534.2,127.5L538.1,129.3L535.9,132.0L540.8,132.8L543.7,133.2L552.9,134.2L559.6,133.2L564.9,133.6L574.7,138.3L578.3,139.2L579.7,137.6L586.5,137.9L588.2,135.5L598.4,135.9L607.0,137.4L614.1,138.9L622.3,138.9L629.4,141.5L633.1,141.8L641.8,142.0L645.6,140.7L650.1,143.1L656.1,141.5L665.6,143.3L678.7,152.1L678.0,152.8L675.3,152.8L683.5,156.7L686.4,158.2L681.6,157.9L678.3,159.6L677.2,161.5L676.5,163.8L669.8,164.1L664.8,164.1L668.3,167.5L667.8,169.2L672.7,171.8L673.4,173.3L674.4,175.5L673.5,178.0L675.6,180.5L674.6,182.0L674.8,186.0L669.9,182.2L664.0,177.2L659.9,172.8L658.6,169.6L659.8,167.0L660.0,163.1L660.8,160.8L658.5,158.2L658.1,160.0L654.2,159.8L651.2,159.6L648.8,161.5L648.7,164.6L645.9,166.2L639.0,165.0L633.1,165.5L627.7,165.8L626.4,169.2L626.3,174.0L624.3,176.8L630.3,178.5L633.1,179.5L636.9,180.5L639.4,180.5L641.4,183.5L643.6,187.2L646.1,191.0L646.6,195.4L646.8,198.7L645.6,203.1L642.8,206.9L639.2,206.2L637.7,208.2L637.1,207.4L636.5,205.1L634.7,201.5L638.1,201.0L636.9,194.6L636.5,192.6L632.5,194.1L627.3,191.6L625.5,191.3L618.9,189.0L610.7,182.0L604.0,179.7L599.1,180.2L600.9,184.7L601.5,188.5L599.9,189.8L597.0,188.8L592.1,188.0L588.4,190.0L581.3,190.0L577.1,188.0L567.7,187.2L565.9,185.2L557.4,183.2L559.4,188.5L558.7,189.0L553.4,188.5L547.3,186.5L543.1,188.0L539.9,190.5L539.0,190.8L534.8,189.5L533.2,188.3L528.1,186.0L522.4,186.5L515.1,180.2L511.5,178.0L508.3,179.5L505.7,178.5L500.8,178.0L499.2,175.3L495.6,175.0L489.7,177.0L482.6,178.7L483.0,182.7L485.3,185.2L482.6,186.5L479.4,186.0L473.7,187.0L467.1,184.7L463.5,184.2L459.8,187.2L457.2,190.3L458.5,193.6L462.3,196.9L464.0,197.9L461.9,199.5L460.5,202.5L462.5,206.4L465.2,209.3L463.4,210.8L461.0,209.3L457.4,207.4L454.1,206.7L449.7,205.6L446.6,205.4L443.0,203.1L439.6,201.3L440.3,199.5L441.5,198.2L440.2,196.9L441.0,195.9L443.9,193.8L443.4,189.5L439.2,188.8L433.9,187.5L429.6,182.7L425.7,183.2L424.6,180.5L426.8,179.7L422.8,176.0L422.3,174.5L416.9,173.3L415.5,170.4L414.7,169.9L414.9,169.2L414.1,166.7L414.9,165.0L416.5,163.8L418.7,164.1L415.3,162.4L414.0,162.7L416.2,160.8L419.5,157.0L416.3,155.1L415.2,150.5L413.2,147.8L414.1,146.0L411.1,144.2L411.6,142.9L413.8,141.5ZM60.4,143.3L63.4,144.6L63.7,147.3L68.6,149.6L62.9,151.0L58.5,153.5L56.4,153.7L54.8,152.3L55.0,151.0L53.5,149.4L49.1,151.4L47.3,152.1ZM69.8,137.6L72.6,138.3L71.2,138.9L67.6,138.9ZM654.9,138.3L656.2,137.6L658.4,138.9L657.1,139.2ZM401.0,177.5L401.6,176.3L403.6,175.3L406.8,176.3L407.2,177.5ZM446.8,137.4L447.4,135.5L447.9,133.4L449.9,131.3L451.7,129.3L457.6,127.9L462.6,126.5L467.7,127.1L465.6,128.3L459.4,130.3L457.6,132.4L455.7,134.5L455.3,136.6L457.3,138.7L457.7,139.6L453.6,139.6L449.9,138.7ZM493.8,120.3L496.6,118.6L502.0,119.5L507.2,121.2L507.6,122.7L501.1,122.1L496.6,121.4ZM510.3,122.5L514.2,122.1L518.6,123.2L516.0,124.0L512.5,123.6ZM575.2,129.3L578.6,128.1L586.7,129.3L585.9,130.7L578.9,130.7ZM585.5,133.6L590.8,133.4L589.3,134.0ZM590.5,129.7L596.6,130.1L595.6,130.9ZM427.6,119.6L432.3,119.1L435.4,119.6L431.6,120.3ZM638.4,177.7L642.5,180.2L647.1,184.7L651.6,189.8L655.4,191.6L651.2,190.5L654.4,195.4L656.7,196.7L657.6,198.2L655.1,198.7L652.4,194.9L649.5,191.0L645.1,186.0L641.7,182.2Z"/>
<path d="M464.0,197.9L467.3,196.4L471.4,196.4L472.9,200.5L468.9,201.3L468.9,202.5L467.5,202.8L470.7,205.9L473.1,207.2L473.7,209.5L476.5,208.2L480.3,210.8L481.4,210.8L478.9,201.3L483.8,199.7L489.7,202.8L492.4,205.1L498.3,204.6L501.4,206.4L502.0,209.0L503.1,209.3L507.2,211.6L508.8,210.6L510.8,209.0L512.2,208.2L512.0,207.4L517.3,207.7L516.9,206.4L518.4,205.9L521.8,206.7L529.0,206.9L531.7,208.5L531.1,206.4L532.0,205.9L529.8,202.3L528.4,201.5L533.5,200.8L532.8,200.0L532.5,195.6L537.7,195.9L536.8,192.6L539.0,190.8L534.8,189.5L533.2,188.3L528.1,186.0L522.4,186.5L515.1,180.2L511.5,178.0L508.3,179.5L505.7,178.5L500.8,178.0L499.2,175.3L495.6,175.0L489.7,177.0L482.6,178.7L483.0,182.7L485.3,185.2L482.6,186.5L479.4,186.0L473.7,187.0L467.1,184.7L463.5,184.2L459.8,187.2L457.2,190.3L458.5,193.6L462.3,196.9Z"/>
<path d="M512.2,208.2L512.0,207.4L517.3,207.7L516.9,206.4L518.4,205.9L521.8,206.7L529.0,206.9L531.7,208.5L528.7,210.3L525.6,211.6L524.4,213.1L521.8,213.1L520.2,214.7L520.2,215.5L516.7,215.7L513.7,215.2L511.2,215.2L513.3,213.7L516.0,213.4L517.9,212.1L513.9,210.0L511.4,210.3Z"/>
<path d="M509.2,221.5L509.8,218.9L508.0,215.2L509.7,213.7L510.2,212.4L512.3,211.9L513.3,213.7L511.2,215.2L513.7,215.2L516.7,215.7L520.2,215.5L521.1,217.8L523.6,218.3L524.5,221.5L521.4,221.0L517.7,222.5L516.7,219.6L514.3,218.9L513.7,220.4L512.5,221.7Z"/>
<path d="M501.3,252.8L506.7,252.6L512.3,252.3L513.6,253.9L516.6,256.8L517.8,255.2L522.7,254.9L520.0,251.5L518.4,248.1L520.2,245.5L523.5,245.5L525.1,241.6L526.8,239.0L527.3,236.4L528.6,234.3L525.2,231.9L524.1,228.3L527.6,228.3L530.6,227.2L532.0,225.9L527.9,225.1L526.2,222.8L524.5,221.5L522.9,222.5L517.9,223.6L518.0,227.2L516.0,229.8L517.0,231.7L515.6,235.3L510.9,236.9L510.0,240.3L509.8,240.8L501.8,241.9L498.1,240.8L500.6,243.9L503.3,247.6L504.7,249.2L501.7,250.2Z"/>
<path d="M516.6,256.8L517.8,258.6L518.9,260.4L522.2,264.1L526.0,263.8L527.0,262.2L527.6,263.8L528.1,266.4L528.4,269.0L530.1,274.3L531.6,278.2L533.6,283.4L536.3,288.6L538.9,293.9L541.4,297.5L542.9,295.4L545.1,294.4L546.6,291.8L546.3,287.3L547.0,284.2L546.3,279.0L548.4,276.9L550.7,275.3L554.1,270.9L556.6,267.7L559.7,265.1L559.8,262.5L562.4,262.0L564.4,261.7L563.6,259.1L562.6,255.2L561.0,253.6L560.9,249.7L564.3,250.7L564.6,252.6L570.3,253.1L568.3,256.0L569.4,258.6L571.0,257.0L572.3,261.2L573.5,260.4L573.3,256.0L575.6,252.6L576.1,249.2L579.8,247.6L579.8,245.0L576.3,242.1L573.0,242.4L570.2,244.7L568.3,246.0L567.4,246.0L568.7,248.4L564.3,248.6L561.8,248.4L561.6,247.3L561.0,245.5L559.5,245.8L560.3,249.7L555.0,249.2L550.6,246.8L545.4,245.5L541.2,243.4L541.3,240.8L542.4,239.8L538.6,237.7L536.9,236.9L535.5,233.7L537.3,233.7L535.4,229.0L533.7,228.3L532.0,225.9L530.6,227.2L527.6,228.3L524.1,228.3L525.2,231.9L528.6,234.3L527.3,236.4L526.8,239.0L525.1,241.6L523.5,245.5L520.2,245.5L518.4,248.1L520.0,251.5L522.7,254.9L517.8,255.2Z"/>
<path d="M469.4,240.3L470.8,244.2L469.2,244.2L466.4,242.6L468.0,240.0Z"/>
<path d="M484.1,275.3L481.1,269.0L487.7,266.4L488.9,261.2L487.6,259.4L488.6,255.4L489.7,253.6L490.8,255.4L495.0,257.0L498.0,259.9L496.2,265.1L494.3,269.0L491.6,271.7L488.4,274.3ZM488.7,250.5L489.3,250.0L489.3,251.8Z"/>
<path d="M477.2,253.9L477.0,251.8L478.0,250.5L478.8,252.6L478.4,254.4Z"/>
<path d="M438.5,236.9L440.5,241.6L440.7,241.6L441.3,236.4L441.3,234.0L441.6,233.2L441.0,231.7L440.0,232.2L439.6,234.5Z"/>
<path d="M723.5,336.2L725.7,337.8L725.2,338.3L723.5,337.0ZM727.3,338.3L730.7,340.7L730.2,341.2L727.4,339.3ZM730.0,343.0L732.7,344.1L732.1,344.7L730.1,344.3ZM732.6,340.4L733.6,341.7L734.1,343.8L733.1,342.7ZM724.9,339.6L726.6,340.9L725.6,341.4ZM733.6,345.6L735.8,346.7L734.6,346.9Z"/>
<path d="M743.8,357.9L745.2,358.2L744.8,359.7L743.8,359.2ZM744.7,360.5L745.8,361.6L745.0,362.1ZM746.0,364.7L746.6,365.0L746.0,365.5Z"/>
<path d="M766.9,364.2L769.9,364.7L768.4,366.3L766.4,366.0ZM770.0,362.6L773.8,361.0L773.1,362.1L770.5,363.1Z"/>
<path d="M492.5,371.8L493.5,370.7L494.4,371.8L493.4,372.8Z"/>
</g>
<g fill="#f6eff7" stroke="#f6eff7" stroke-width="0.8" stroke-linejoin="round">
<path d="M255.1,124.0L261.2,125.5L256.2,126.9L261.9,128.3L269.6,128.3L273.1,129.9L273.1,132.4L273.7,135.5L273.7,138.7L279.2,139.2L273.7,142.0L277.4,143.1L271.6,146.4L270.1,149.8L271.3,153.3L273.0,157.9L274.4,161.5L280.0,163.8L282.7,164.1L285.8,160.3L289.6,156.7L292.7,152.6L297.8,150.3L304.3,148.7L309.5,145.3L317.4,144.4L320.4,142.0L325.8,140.5L323.0,138.1L327.4,136.6L324.5,134.9L330.5,133.0L333.5,130.3L332.5,127.9L335.3,125.3L333.7,122.8L337.9,120.7L346.2,118.1L339.3,117.6L332.6,117.0L324.9,115.4L314.4,114.9L303.1,115.6L291.3,116.7L279.9,117.2L274.4,118.6L267.7,119.8L267.5,121.6Z"/>
<path d="M172.2,297.5L172.3,295.4L173.1,293.6L175.5,295.4L177.9,294.7L180.2,293.6L182.5,294.1L184.9,296.0L185.3,298.1L183.6,299.9L182.5,297.5L180.1,295.2L178.2,297.0L177.8,299.6L176.0,298.8L174.3,297.3Z"/>
<path d="M186.7,254.4L188.0,256.5L188.4,254.9L187.8,252.8ZM188.9,248.9L190.5,250.0L190.1,251.0L189.9,249.7ZM188.9,253.4L189.3,253.4L189.1,253.1Z"/>
<path d="M225.4,297.0L228.3,299.6L230.5,302.2L231.2,303.3L230.9,304.8L229.5,306.7L229.2,308.5L230.8,310.1L232.6,313.7L231.4,313.7L227.2,315.6L225.2,314.0L224.8,311.6L225.5,308.5L224.7,305.6L223.1,305.1L221.5,303.3L222.2,301.2L223.2,299.1Z"/>
<path d="M374.7,189.8L375.2,188.3L376.0,189.0L375.9,189.8Z"/>
<path d="M401.9,208.0L401.8,207.4L402.1,205.9L403.1,205.1L405.2,207.4L403.9,209.3Z"/>
<path d="M433.3,227.2L434.7,226.4L438.1,225.4L436.8,227.2L434.9,228.3Z"/>
<path d="M446.5,281.3L449.0,281.6L449.6,279.8L452.2,280.3L454.5,280.8L456.8,281.8L460.2,286.0L458.9,288.1L459.0,289.9L461.3,290.2L463.0,293.9L464.2,295.2L471.2,297.8L473.5,297.8L466.8,305.6L463.3,306.2L459.9,307.7L457.6,308.5L454.1,309.8L450.9,309.3L448.1,307.2L445.8,306.7L444.4,304.6L441.3,300.7L439.0,298.3L441.4,293.9L441.8,291.0L443.2,290.5L443.5,287.9L445.8,285.5Z"/>
<path d="M324.5,284.5L328.6,284.2L331.4,283.7L328.7,282.6L324.5,283.2Z"/>
<path d="M541.2,243.4L545.4,245.5L550.6,246.8L555.0,249.2L560.3,249.7L559.5,245.8L554.8,245.5L549.8,243.2L544.6,239.8L542.4,239.8L541.3,240.8Z"/>
<path d="M650.3,342.2L652.7,340.9L655.7,340.7L654.0,342.2L650.7,343.3Z"/>
<path d="M454.5,221.7L459.6,221.5L461.6,224.6L463.5,226.7L462.2,228.5L463.9,232.4L468.3,235.6L468.4,237.7L470.5,240.3L469.4,240.3L468.0,240.0L466.4,242.6L462.3,242.4L455.8,237.4L452.0,235.3L449.3,234.8L448.0,231.4L452.5,228.8L452.3,223.3Z"/>
<path d="M688.4,325.5L692.9,327.6L697.4,330.7L699.6,333.1L702.9,335.2L703.5,336.5L702.0,338.0L704.6,342.2L707.7,345.6L709.4,346.1L705.4,345.6L701.6,344.1L699.0,340.4L695.7,338.8L693.3,340.4L691.9,342.7L687.3,342.5ZM704.8,333.3L708.8,332.3L712.4,329.9L714.3,329.9L712.2,333.1L708.7,334.9L705.2,334.4ZM710.8,325.8L714.8,328.6L715.8,330.7L713.7,328.4ZM719.6,333.1L721.9,336.5L720.6,335.4ZM701.4,323.9L703.2,324.2L702.3,324.7Z"/>
<path d="M487.8,373.9L488.7,372.9L489.4,373.9L488.6,374.8Z"/>
<path d="M501.8,446.4L503.7,445.6L505.1,446.9L504.0,448.1L501.7,447.9Z"/>
<path d="M532.1,307.7L532.5,307.2L533.0,307.7L532.5,308.2ZM532.0,313.5L532.4,312.9L532.9,313.5L532.4,314.0Z"/>
<path d="M-0.9,313.7L-0.3,313.1L0.2,313.7L-0.4,314.4Z"/>
<path d="M727.0,300.7L727.4,300.1L727.9,300.7L727.5,301.2ZM712.2,299.4L712.5,299.0L712.9,299.4L712.6,299.7ZM672.2,299.1L672.7,298.5L673.2,299.1L672.7,299.7ZM694.1,283.4L694.5,282.8L695.2,283.4L694.7,284.1Z"/>
<path d=""/>
</g>
<g fill="#67a9cf" stroke="#67a9cf" stroke-width="0.8" stroke-linejoin="round">
<path d="M105.6,233.7L111.1,233.2L110.7,233.7L118.0,236.9L124.2,236.9L124.6,235.6L128.3,235.6L131.1,241.3L133.5,242.9L135.7,240.8L138.1,240.8L139.5,244.7L140.8,246.8L141.1,249.7L145.1,250.7L142.8,256.0L142.1,260.4L142.9,264.3L144.3,268.3L145.9,269.8L148.0,271.1L152.7,270.1L155.0,270.3L157.1,268.3L158.3,264.3L162.8,262.5L166.2,262.5L166.4,264.3L164.4,267.7L163.3,270.9L162.2,270.3L161.6,271.9L160.2,271.9L155.9,272.2L155.7,273.7L156.6,275.6L156.7,276.6L153.7,276.6L152.3,279.0L152.1,280.8L149.5,277.7L147.3,276.4L142.6,277.7L138.3,276.1L135.1,274.3L131.3,271.9L127.6,270.9L124.7,267.7L123.7,265.4L124.8,262.5L123.8,259.1L121.1,255.2L118.4,252.0L118.0,248.9L116.3,246.8L114.7,244.2L113.5,240.8L113.1,237.1L110.1,235.6L109.2,239.0L110.6,242.9L111.7,246.6L113.2,250.2L114.2,253.9L116.1,258.1L114.8,258.8L112.1,255.2L111.2,252.0L109.0,248.9L107.2,246.6L108.7,244.2L106.6,240.8L106.0,237.7Z"/>
<path d="M231.2,303.3L234.2,303.5L238.5,303.3L237.3,305.9L238.4,309.3L237.0,312.7L234.0,313.7L232.6,313.7L230.8,310.1L229.2,308.5L229.5,306.7L230.9,304.8Z"/>
<path d="M211.3,378.3L213.1,375.7L215.7,376.5L217.9,378.3L218.6,376.2L221.6,376.7L225.6,380.9L229.1,382.5L233.7,385.1L232.1,389.8L236.8,390.3L238.4,390.3L240.5,385.6L242.6,388.5L243.0,389.8L238.7,392.9L235.4,397.6L234.9,402.3L235.3,407.3L235.5,408.4L238.6,411.0L238.6,412.8L240.3,413.8L239.2,418.0L236.6,419.8L232.6,420.6L229.6,420.1L231.0,424.8L228.6,426.1L225.4,425.8L225.9,428.4L228.7,428.7L229.5,430.5L226.9,432.3L227.5,436.1L224.3,438.4L224.6,440.0L228.3,441.8L229.1,443.6L227.0,446.9L225.2,450.2L226.1,452.9L228.2,454.7L223.9,454.2L220.0,453.4L218.1,450.9L215.6,447.6L215.9,443.8L215.3,438.7L214.6,434.9L212.2,429.7L210.6,424.5L210.4,419.3L209.4,414.1L209.9,410.7L209.4,405.0L207.7,399.7L207.8,395.8L208.6,391.4L209.6,387.4L209.2,382.7L211.5,381.4ZM228.3,455.7L229.7,457.2L233.0,459.4L237.0,460.6L234.9,461.6L230.6,461.1Z"/>
<path d="M221.6,376.7L221.8,372.3L223.0,369.9L228.8,369.1L231.0,370.5L231.8,372.8L232.2,376.5L235.4,376.7L237.5,377.8L238.2,381.2L240.8,381.7L240.5,385.6L238.4,390.3L236.8,390.3L232.1,389.8L233.7,385.1L229.1,382.5L225.6,380.9Z"/>
<path d="M376.7,180.0L378.6,179.2L379.7,178.7L380.1,177.5L379.6,176.3L382.1,176.5L382.4,177.5L384.4,178.5L387.2,177.5L390.6,178.7L391.1,180.2L390.7,181.5L392.0,183.2L392.8,185.2L392.5,186.2L389.9,186.7L387.6,187.8L388.1,189.0L390.9,191.6L389.4,192.8L389.5,194.9L387.4,194.6L384.4,195.1L382.6,194.9L380.3,194.4L378.5,194.6L379.5,191.0L375.9,189.8L376.0,189.0L375.2,188.3L375.4,187.0L375.0,186.5L375.3,185.0L374.9,184.0L376.2,183.5L376.8,182.2L377.1,180.5Z"/>
<path d="M379.6,176.3L378.6,174.8L378.4,172.1L379.3,170.9L382.8,169.4L382.6,172.1L383.8,172.6L382.5,174.0L381.8,175.3L382.1,176.5ZM384.1,174.3L385.9,173.3L387.2,174.3L386.5,175.5L385.8,176.8L384.4,175.5ZM381.8,175.0L383.5,174.8L383.6,175.8L382.3,175.8Z"/>
<path d="M375.5,197.7L377.3,195.1L378.5,194.6L380.3,194.4L382.6,194.9L382.4,195.9L384.3,196.4L384.3,197.4L382.1,197.7L381.5,199.0L380.2,197.9L379.3,199.0L377.4,199.0L377.0,198.7Z"/>
<path d="M382.6,194.9L384.4,195.1L387.4,194.6L389.5,194.9L389.4,192.8L390.9,191.6L393.3,191.0L397.2,191.8L397.7,193.6L396.4,195.1L395.9,196.4L393.0,197.7L391.1,197.4L388.4,196.9L387.7,196.1L384.3,196.4L382.4,195.9Z"/>
<path d="M387.6,187.8L389.9,186.7L392.5,186.2L395.3,187.2L396.8,187.8L400.8,189.8L399.3,191.0L397.2,191.8L393.3,191.0L390.9,191.6L388.1,189.0Z"/>
<path d="M397.2,191.8L399.3,191.0L400.8,189.8L403.3,190.3L408.4,190.8L408.0,192.6L404.5,192.3L401.2,194.1L397.7,193.6Z"/>
<path d="M390.6,178.7L394.9,177.2L398.7,176.5L401.0,177.5L407.2,177.5L408.7,178.7L409.9,181.7L409.6,183.2L409.8,184.7L411.0,186.2L408.4,190.8L403.3,190.3L400.8,189.8L396.8,187.8L395.3,187.2L392.5,186.2L392.8,185.2L392.0,183.2L390.7,181.5L391.1,180.2Z"/>
<path d="M395.9,196.4L396.4,195.1L397.7,193.6L401.2,194.1L404.5,192.3L408.0,192.6L409.5,193.6L406.6,197.2L404.7,198.4L401.7,199.0L399.0,199.0L396.8,197.4Z"/>
<path d="M391.1,197.4L393.0,197.7L395.9,196.4L396.8,197.4L395.3,198.2L394.6,200.0L391.1,200.0L391.0,199.5Z"/>
<path d="M418.1,212.4L419.2,210.8L418.0,209.8L419.8,209.0L422.0,209.0L424.5,211.1L421.2,211.6L419.7,213.1ZM418.8,214.2L421.0,213.1L424.6,212.9L424.8,211.1L429.4,210.8L433.1,209.0L436.7,209.0L440.1,210.8L444.5,211.9L447.7,211.6L450.6,210.3L453.4,210.3L455.0,211.3L455.9,213.9L458.5,215.0L458.0,218.3L459.6,221.5L454.5,221.7L450.8,221.7L446.9,222.8L443.0,222.8L442.5,224.1L441.1,224.9L441.3,223.0L438.6,222.8L436.6,223.8L434.1,224.6L429.1,222.5L427.1,224.1L423.9,222.8L421.9,222.0L421.5,219.6L419.4,218.6L420.3,216.8L418.7,215.5Z"/>
<path d="M333.5,246.3L334.2,245.6L337.4,243.7L340.3,241.9L341.5,239.0L341.4,236.4L342.8,233.5L344.4,231.7L347.9,229.6L350.0,226.7L350.2,225.1L351.5,224.9L353.6,226.7L356.5,226.4L358.2,227.0L359.3,228.5L359.3,231.7L360.4,234.0L356.6,235.1L354.8,237.1L354.8,237.9L351.9,240.3L350.3,241.3L347.2,241.3L343.6,243.7L343.6,246.3Z"/>
<path d="M441.4,307.7L441.2,308.8L437.7,309.0L434.3,309.3L434.1,312.4L435.3,313.2L432.0,316.9L431.3,320.0L431.3,322.4L433.4,321.3L441.5,321.3L441.5,318.7L442.7,315.8L443.8,314.3L442.4,309.6Z"/>
<path d="M398.7,299.1L402.1,298.6L406.3,297.8L406.7,295.2L409.0,294.9L412.8,291.0L415.6,290.2L417.3,295.4L418.7,296.0L421.3,299.6L423.8,301.4L426.2,305.4L421.8,305.1L419.3,305.6L415.8,306.4L414.7,308.0L410.5,307.2L408.0,305.6L405.9,307.5L405.9,309.6L403.4,309.3L401.3,309.6L400.4,312.9L399.9,312.7L398.1,308.8L396.4,305.6L396.6,302.5Z"/>
<path d="M385.2,316.1L389.1,316.1L389.1,312.9L393.7,312.9L393.5,315.3L395.8,315.0L396.5,316.6L395.1,319.2L396.5,320.3L396.2,323.7L395.8,325.0L393.0,325.0L391.9,323.9L389.8,325.0L390.5,327.8L388.6,328.9L385.2,325.0L383.3,320.5L384.5,317.9Z"/>
<path d="M420.6,365.2L424.5,365.5L428.7,361.8L429.2,360.3L432.4,359.5L433.8,360.5L438.0,362.4L438.2,363.1L437.6,367.1L437.9,370.5L436.5,374.4L433.7,377.3L429.4,376.7L426.3,375.2L425.8,372.3L422.5,369.9Z"/>
<path d="M473.7,209.5L476.5,208.2L480.3,210.8L481.4,210.8L483.5,210.8L484.8,207.7L485.7,207.2L489.2,208.5L490.0,210.6L494.0,211.3L496.0,214.2L499.9,216.8L503.5,218.6L505.9,219.4L506.3,221.2L504.5,220.7L502.8,221.7L502.6,223.8L500.1,225.1L498.4,226.4L495.9,225.6L495.1,223.0L493.4,223.0L490.7,220.7L486.0,218.9L484.0,219.4L482.0,219.1L481.1,221.0L479.2,221.2L478.3,217.0L476.8,215.7L476.6,214.2L475.5,213.7L475.3,211.9L477.9,212.1L478.3,210.3L475.6,209.5L474.8,210.8Z"/>
<path d="M546.5,293.3L548.8,294.4L551.4,299.1L551.0,301.7L548.8,303.3L547.3,302.2L546.7,297.8Z"/>
<path d="M582.7,304.1L587.8,305.1L593.8,310.9L597.3,313.5L602.0,317.4L602.7,321.3L604.2,323.4L607.6,326.5L606.9,333.9L603.9,333.9L599.0,329.2L595.7,324.5L593.4,320.0L590.9,314.3L586.8,310.1L583.2,306.2ZM605.3,336.5L608.4,334.4L613.0,335.7L617.6,336.5L618.7,335.7L622.6,337.0L626.4,339.1L626.4,341.4L620.7,340.7L613.9,339.1L608.2,338.0ZM616.0,314.0L618.1,316.3L622.0,315.0L625.3,315.3L627.8,314.0L629.1,310.9L630.1,307.5L634.3,307.7L634.8,310.9L635.4,313.5L637.8,316.1L634.8,317.4L634.3,320.8L631.9,324.7L630.6,328.4L627.6,329.4L623.7,327.3L620.3,327.3L617.3,326.3L616.9,322.6L614.7,320.0L614.7,316.6ZM639.6,316.6L641.9,315.3L648.1,316.3L652.0,314.8L650.5,317.4L647.0,317.9L642.4,317.4L640.1,318.7L642.4,321.3L647.7,320.8L647.0,322.4L643.9,323.7L645.7,327.1L647.1,330.5L645.4,332.8L643.2,331.0L642.2,326.0L640.6,326.5L640.5,333.1L638.5,333.1L638.7,327.8L637.2,326.0L638.4,322.1L639.6,318.7ZM665.5,320.8L668.9,319.7L672.4,320.8L674.5,327.3L678.1,324.5L681.6,322.9L688.4,325.5L687.3,342.5L683.0,339.6L680.6,340.7L682.0,337.0L681.1,333.1L675.5,330.2L669.8,329.2L669.4,327.3L672.3,325.2L671.2,324.5L667.6,326.0L665.4,322.4ZM627.7,340.4L632.2,340.7L636.8,340.9L636.8,341.4L631.0,342.2ZM639.2,340.4L646.1,340.4L645.5,341.4L639.1,341.7ZM646.8,345.6L649.3,342.7L650.5,342.2L650.7,343.3L648.9,345.1ZM636.6,343.5L640.7,344.6L638.7,345.6ZM657.3,314.0L658.5,317.4L659.7,320.0L657.9,318.7ZM658.4,326.5L664.8,327.1L661.8,327.8ZM653.7,327.1L656.1,327.1L655.3,328.6ZM607.7,323.9L609.3,325.5L607.2,325.8ZM672.3,333.9L673.5,333.3L672.9,335.7Z"/>
<path d="M626.4,306.7L628.6,305.6L628.2,307.2Z"/>
<path d="M637.0,270.3L640.8,270.3L642.0,275.6L640.5,278.2L641.5,281.6L644.6,282.4L647.3,285.8L645.5,284.7L643.5,283.2L640.5,283.2L639.0,281.6L639.5,280.3L637.6,280.0L636.3,276.1L637.2,273.0ZM644.0,300.4L644.3,298.1L647.1,296.0L651.5,293.3L654.0,297.8L654.5,301.7L652.3,303.5L651.6,300.9L648.7,301.2L648.5,299.4L644.7,300.4ZM648.2,286.0L651.6,289.2L650.8,292.6L649.3,291.3L648.3,288.6ZM642.9,287.9L645.5,288.6L646.8,292.6L645.9,294.7L644.4,293.1L643.3,291.0ZM632.9,296.5L637.5,291.0L636.9,289.4L635.4,293.3ZM638.8,283.7L641.1,283.9L640.9,286.5Z"/>
<path d="M440.8,242.1L443.0,242.4L446.1,240.3L447.1,239.0L444.6,236.4L449.3,234.8L452.0,235.3L455.8,237.4L462.3,242.4L466.4,242.6L469.2,244.2L470.8,244.2L472.4,246.8L475.4,249.4L475.2,252.0L477.2,253.9L478.4,254.4L479.1,255.2L481.7,258.8L487.6,259.4L488.9,261.2L487.7,266.4L481.1,269.0L474.4,270.1L472.6,271.1L468.7,273.7L463.2,273.2L461.6,273.0L460.6,275.8L459.8,273.0L456.1,267.7L451.7,262.5L449.8,257.3L446.6,253.4L444.7,249.4L441.5,245.5L440.1,245.2Z"/>
<path d="M440.8,242.1L443.0,242.4L446.1,240.3L447.1,239.0L444.6,236.4L449.3,234.8L448.0,231.4L443.9,234.3L441.6,233.2L441.3,234.0L441.3,236.4L440.7,241.6Z"/>
</g>
<g fill="#02818a" stroke="#02818a" stroke-width="0.8" stroke-linejoin="round">
<path d="M193.6,270.6L196.9,271.1L199.6,271.4L200.1,267.2L197.9,266.7L196.4,267.2L197.9,268.3L198.4,270.1L195.9,270.1L193.7,269.8Z"/>
<path d="M343.4,184.2L347.2,184.2L350.4,183.0L351.1,180.2L351.0,178.2L348.8,178.2L347.3,177.2L348.9,176.0L348.8,175.3L347.0,175.8L346.4,177.2L344.2,178.0L344.8,180.2L343.7,182.5Z"/>
<path d="M432.5,386.7L434.5,386.1L434.8,388.8L432.9,390.1L431.9,388.5Z"/>
<path d="M635.5,219.9L638.1,217.8L642.2,221.7L644.3,225.9L643.7,227.0L640.9,228.0L638.8,228.8L637.6,225.9L636.8,223.3L635.4,222.0Z"/>
<path d="M599.1,288.1L597.8,286.0L597.7,283.2L598.7,281.3L603.7,281.3L605.6,282.4L606.6,280.8L608.8,280.3L609.2,283.4L609.8,286.5L607.2,288.1L606.2,289.9L603.1,291.5L601.2,291.3Z"/>
</g>
<g fill="#016450" stroke="#016450" stroke-width="0.8" stroke-linejoin="round">
<path d="M210.1,271.7L213.5,271.7L213.8,270.6L210.2,270.3Z"/>
</g>
<g fill="#fff" stroke="#fff" stroke-width="0.8" stroke-linejoin="round">
<path d="M199.4,287.9L198.6,290.2L199.9,290.2L201.9,288.6L202.7,286.8L203.0,288.6L205.7,289.9L206.3,291.0L210.9,291.0L213.6,292.3L215.3,291.5L218.3,290.7L220.8,290.7L218.9,291.8L219.8,292.8L222.7,293.9L223.1,296.2L224.9,296.5L225.4,297.0L223.2,299.1L222.2,301.2L221.5,303.3L223.1,305.1L222.3,306.9L218.4,308.2L215.4,308.0L214.0,309.6L216.7,312.4L215.3,313.7L211.8,316.6L209.9,316.9L208.5,315.6L207.9,312.7L206.5,311.4L207.7,309.8L206.6,307.5L206.7,304.8L207.5,302.5L203.1,302.8L200.2,300.1L197.2,300.4L196.0,299.4L196.4,296.7L195.6,294.9L195.2,293.1L195.3,291.5L196.5,289.7L197.8,288.4Z"/>
<path d="M238.5,303.3L241.0,305.1L243.7,307.7L243.7,308.2L241.6,312.4L237.0,312.7L238.4,309.3L237.3,305.9Z"/>
<path d="M409.6,203.8L410.3,203.8L414.1,204.9L418.2,204.4L422.6,204.6L422.0,209.0L419.8,209.0L418.0,209.8L414.7,210.3L411.5,210.7L410.1,208.2L411.1,205.9Z"/>
<path d="M333.5,246.3L343.6,246.3L343.6,247.3L343.5,250.7L336.1,250.7L336.0,257.3L333.7,258.6L333.6,263.0L324.5,263.0L324.6,261.5L326.5,258.3L327.2,256.5L329.5,253.4L330.5,250.2L332.6,248.9Z"/>
<path d="M388.2,231.9L391.5,232.7L396.4,234.3L397.9,236.6L402.8,239.0L406.8,239.2L407.3,235.1L410.2,232.7L414.0,234.3L418.6,236.1L417.7,239.8L418.6,242.4L419.5,261.2L419.7,266.4L417.4,266.4L417.5,267.7L399.1,257.3L396.8,258.6L395.1,259.6L389.8,257.3L385.5,254.4L384.9,249.2L385.0,242.9L384.0,239.5L385.3,237.9L385.7,235.8L388.3,234.0Z"/>
<path d="M417.5,267.7L417.4,266.4L419.7,266.4L419.5,261.2L446.4,261.2L447.2,263.8L447.4,267.5L448.2,269.8L450.8,271.7L449.3,273.2L447.3,274.3L446.2,279.2L446.5,281.3L445.8,285.5L443.5,287.9L443.2,290.5L441.8,291.0L441.4,293.9L440.9,292.0L439.3,290.7L438.9,286.8L438.0,286.8L436.4,287.3L437.4,289.7L435.2,293.1L433.8,293.1L431.7,291.8L429.4,293.6L427.1,293.6L424.4,293.9L422.3,291.5L420.4,291.8L419.6,295.4L418.7,296.0L417.3,295.4L415.6,290.2L414.6,285.8L413.4,283.2L414.5,281.6L415.3,277.9L417.8,277.7Z"/>
<path d="M441.4,293.9L439.0,298.3L441.3,300.7L444.4,304.6L445.8,306.7L441.4,307.7L441.2,308.8L437.7,309.0L434.3,309.3L432.7,307.5L430.3,307.2L426.2,305.4L423.8,301.4L421.3,299.6L418.7,296.0L419.6,295.4L420.4,291.8L422.3,291.5L424.4,293.9L427.1,293.6L429.4,293.6L431.7,291.8L433.8,293.1L435.2,293.1L437.4,289.7L436.4,287.3L438.0,286.8L438.9,286.8L439.3,290.7L440.9,292.0Z"/>
<path d="M450.8,271.7L452.7,277.1L454.9,279.5L458.5,282.9L461.8,285.5L460.2,286.0L456.8,281.8L454.5,280.8L452.2,280.3L449.6,279.8L449.0,281.6L446.5,281.3L446.2,279.2L447.3,274.3L449.3,273.2Z"/>
<path d="M462.4,288.6L464.6,291.5L468.6,290.5L473.2,289.4L477.8,288.6L480.5,287.6L480.4,291.5L479.8,294.1L477.6,297.8L474.8,304.3L469.2,312.4L465.7,314.8L461.1,320.0L459.0,323.1L457.7,321.1L457.6,311.4L457.6,308.5L459.9,307.7L463.3,306.2L466.8,305.6L473.5,297.8L471.2,297.8L464.2,295.2L463.0,293.9L461.3,290.2Z"/>
<path d="M336.5,300.7L339.3,296.5L341.6,296.7L341.4,299.4L343.9,298.8L343.4,301.7L345.7,303.5L345.7,307.2L342.2,305.6L338.8,302.5Z"/>
<path d="M633.9,258.6L634.8,253.4L636.9,253.4L636.8,258.1L636.1,261.5Z"/>
<path d="M627.7,214.2L629.9,211.9L630.5,209.5L633.2,210.3L633.1,209.3L635.5,208.0L637.4,208.0L637.7,208.2L636.8,210.3L637.9,212.1L634.7,215.0L635.2,216.3L638.1,217.8L635.5,219.9L632.6,220.2L630.8,219.1L631.3,217.6L629.7,215.2Z"/>
<path d="M460.6,275.8L461.6,273.0L463.2,273.2L468.7,273.7L472.6,271.1L474.4,270.1L481.1,269.0L484.1,275.3L482.2,277.9L475.1,281.6L470.7,283.7L466.1,285.2L462.7,285.5L462.0,283.9L460.9,280.0Z"/>
<path d="M441.1,224.9L442.5,224.1L443.0,222.8L446.9,222.8L450.8,221.7L454.5,221.7L452.3,223.3L452.5,228.8L448.0,231.4L443.9,234.3L441.6,233.2L441.0,231.7L442.9,229.3L442.4,228.3L441.5,228.3L441.0,226.2Z"/>
<path d="M734.9,371.2L737.7,373.6L740.2,377.0L739.1,377.0L736.2,374.9L734.6,372.3Z"/>
</g>
<g fill="#3690c0" stroke="#3690c0" stroke-width="0.8" stroke-linejoin="round">
<path d="M408.7,178.7L409.9,181.7L409.6,183.2L409.8,184.7L412.4,183.7L417.5,184.7L423.5,185.2L425.7,183.2L424.6,180.5L426.8,179.7L422.8,176.0L422.3,174.5L416.9,173.3L414.0,174.3L412.8,176.3L412.4,177.7Z"/>
<path d="M385.6,312.7L389.1,312.9L389.1,316.1L385.2,316.1Z"/>
<path d="M478.9,201.3L483.8,199.7L489.7,202.8L492.4,205.1L498.3,204.6L501.4,206.4L502.0,209.0L503.1,209.3L507.2,211.6L508.8,210.6L510.8,209.0L512.2,208.2L511.4,210.3L513.9,210.0L517.9,212.1L516.0,213.4L513.3,213.7L512.3,211.9L510.2,212.4L509.7,213.7L508.0,215.2L509.8,218.9L509.2,221.5L506.3,221.2L505.9,219.4L503.5,218.6L499.9,216.8L496.0,214.2L494.0,211.3L490.0,210.6L489.2,208.5L485.7,207.2L484.8,207.7L483.5,210.8L481.4,210.8Z"/>
<path d="M539.0,190.8L539.9,190.5L542.4,192.8L548.4,196.1L551.0,200.5L556.5,201.3L561.6,203.3L564.9,206.9L566.3,206.9L574.9,207.4L584.6,210.0L588.8,208.0L594.6,206.9L595.1,203.8L594.6,201.3L598.6,201.5L602.0,199.5L603.9,197.4L608.6,196.9L607.9,196.1L602.1,194.4L598.2,193.6L597.4,191.6L597.0,188.8L599.9,189.8L601.5,188.5L600.9,184.7L599.1,180.2L604.0,179.7L610.7,182.0L618.9,189.0L625.5,191.3L627.3,191.6L632.5,194.1L636.5,192.6L636.9,194.6L638.1,201.0L634.7,201.5L636.5,205.1L637.1,207.4L637.4,208.0L635.5,208.0L633.1,209.3L633.2,210.3L630.5,209.5L629.9,211.9L627.7,214.2L625.3,215.2L622.6,217.3L622.3,214.4L622.4,212.9L619.3,211.9L617.5,214.7L615.1,216.3L615.3,218.1L618.8,220.7L620.8,221.7L622.8,219.9L626.9,221.0L627.3,222.3L624.1,224.3L622.7,227.2L625.4,229.0L628.6,233.5L631.7,235.8L632.4,237.9L629.8,239.5L633.5,240.5L633.8,244.2L632.3,247.6L631.2,251.3L629.5,254.4L626.7,257.3L623.7,259.4L621.0,260.4L618.4,261.2L615.2,262.5L612.8,263.0L612.8,265.6L611.1,262.5L608.3,262.0L607.3,262.5L604.8,261.2L603.6,259.1L600.4,257.8L597.7,259.4L594.4,259.4L593.6,260.1L593.2,263.3L592.0,263.0L591.6,261.7L589.2,262.5L587.2,260.9L587.2,258.6L585.5,256.0L582.7,256.0L584.1,251.3L583.4,246.8L580.2,244.7L579.8,245.0L576.3,242.1L573.0,242.4L570.2,244.7L568.3,246.0L567.4,246.0L563.6,245.0L561.7,246.8L561.6,247.3L561.0,245.5L559.5,245.8L554.8,245.5L549.8,243.2L544.6,239.8L542.4,239.8L538.6,237.7L536.9,236.9L535.5,233.7L537.3,233.7L535.4,229.0L533.7,228.3L532.0,225.9L527.9,225.1L526.2,222.8L524.5,221.5L523.6,218.3L521.1,217.8L520.2,215.5L520.2,214.7L521.8,213.1L524.4,213.1L525.6,211.6L528.7,210.3L531.7,208.5L531.1,206.4L532.0,205.9L529.8,202.3L528.4,201.5L533.5,200.8L532.8,200.0L532.5,195.6L537.7,195.9L536.8,192.6ZM609.9,268.5L611.3,266.4L614.5,266.4L614.1,269.6L612.1,271.1Z"/>
<path d="M649.1,229.8L648.8,228.8L650.9,226.2L654.0,225.6L658.2,225.4L658.2,222.3L658.7,220.7L658.9,222.5L661.4,221.0L662.0,218.1L661.2,214.7L660.0,212.6L661.3,210.6L663.3,212.9L665.9,215.5L666.6,218.6L666.6,220.7L668.0,224.6L668.8,225.4L667.7,227.2L666.8,226.2L665.4,227.0L665.3,228.0L664.3,228.3L661.7,228.3L661.8,229.0L660.8,231.1L658.4,230.1L657.3,228.3L655.3,228.5L652.3,229.3L649.4,230.1ZM658.6,210.3L657.9,208.2L656.4,207.4L656.5,205.6L658.8,205.6L655.5,200.2L660.0,202.8L664.9,203.1L667.1,205.6L665.1,209.0L664.5,209.0L660.6,207.4L659.1,207.7L660.0,209.8ZM647.3,231.9L649.4,230.1L652.6,232.4L652.7,235.6L652.1,236.9L650.5,237.1L649.4,234.3L647.9,233.2ZM652.8,231.4L653.7,229.8L656.7,229.3L657.1,231.1L655.0,233.0Z"/>
<path d="M564.4,261.7L563.6,259.1L562.6,255.2L561.0,253.6L560.9,249.7L564.3,250.7L564.6,252.6L570.3,253.1L568.3,256.0L569.4,258.6L571.0,257.0L572.3,261.2L572.5,263.0L572.1,264.6L571.1,262.5L570.4,260.4L567.7,260.7L566.4,261.5Z"/>
<path d="M572.1,264.6L572.5,263.0L572.3,261.2L573.5,260.4L573.3,256.0L575.6,252.6L576.1,249.2L579.8,247.6L579.8,245.0L580.2,244.7L583.4,246.8L584.1,251.3L582.7,256.0L585.5,256.0L587.2,258.6L587.2,260.9L589.2,262.5L591.6,261.7L592.0,263.0L590.3,265.4L589.9,265.6L588.6,265.9L585.8,267.2L585.1,270.3L584.5,270.9L587.9,275.6L587.4,279.0L590.3,284.2L590.6,287.9L589.8,291.5L589.4,292.6L589.2,287.3L587.4,282.6L586.1,277.4L585.9,275.6L584.6,274.5L582.0,276.1L580.8,277.4L578.3,276.9L578.2,273.0L577.1,269.6L575.1,266.9L573.4,265.6Z"/>
<path d="M589.4,292.6L589.8,291.5L590.6,287.9L590.3,284.2L587.4,279.0L587.9,275.6L584.5,270.9L585.1,270.3L585.8,267.2L588.6,265.9L589.9,265.6L591.1,267.7L592.7,267.7L592.9,272.2L595.3,271.1L596.7,271.9L599.5,270.9L601.7,273.2L602.1,275.8L604.2,277.9L604.4,281.1L603.7,281.3L598.7,281.3L597.7,283.2L597.8,286.0L599.1,288.1L597.4,286.8L594.5,285.5L594.1,283.4L592.0,283.7L592.4,287.3L590.9,291.3L591.4,294.4L593.8,296.7L594.4,299.6L597.3,300.9L598.3,302.5L596.0,303.8L593.9,301.7L593.6,301.7L592.6,300.4L589.7,297.3L589.1,295.2Z"/>
<path d="M607.3,262.5L604.8,261.2L603.6,259.1L600.4,257.8L597.7,259.4L594.4,259.4L593.6,260.1L595.7,262.0L598.5,264.1L600.9,266.4L599.1,268.0L602.2,270.1L606.0,274.5L608.2,277.4L608.8,280.3L609.2,283.4L609.8,286.5L607.2,288.1L606.2,289.9L603.1,291.5L604.6,296.0L608.2,291.8L609.5,291.3L613.2,288.6L613.7,284.7L611.9,279.0L608.1,275.0L605.4,272.2L603.4,269.0L604.8,265.1L606.9,262.8Z"/>
<path d="M593.6,301.7L596.0,303.8L598.3,302.5L601.5,306.7L601.9,311.4L603.6,315.0L601.7,315.0L597.0,311.4L595.3,308.2L594.4,304.3ZM616.0,314.0L619.7,312.2L620.1,311.4L623.7,310.3L625.9,306.9L628.6,305.6L630.3,302.5L632.0,300.4L634.2,302.2L637.8,304.8L635.6,307.5L634.3,307.7L630.1,307.5L629.1,310.9L627.8,314.0L625.3,315.3L622.0,315.0L618.1,316.3Z"/>
<path d="M458.5,215.0L458.0,218.3L459.6,221.5L461.6,224.6L463.5,226.7L462.2,228.5L463.9,232.4L468.3,235.6L468.4,237.7L470.5,240.3L472.7,239.8L475.9,242.9L478.1,246.0L482.7,248.9L487.1,248.6L489.1,247.9L491.2,251.0L495.0,252.3L501.3,252.8L501.7,250.2L504.7,249.2L503.3,247.6L500.6,243.9L498.1,240.8L499.5,237.7L497.1,236.4L495.9,232.2L495.9,229.0L495.9,225.6L495.1,223.0L493.4,223.0L490.7,220.7L486.0,218.9L484.0,219.4L482.0,219.1L481.1,221.0L479.2,221.2L475.4,222.8L471.9,221.5L469.6,220.7L467.9,218.3L465.7,217.0L466.1,215.7L463.4,216.3L461.6,217.0L459.0,215.7Z"/>
</g>
<g fill="none" stroke="#6b6f7a" stroke-width="0.4" stroke-linejoin="round">
<path d="M127.9,141.8L131.0,142.0L134.4,143.3L139.3,142.0L145.4,141.1L151.6,140.0L154.6,141.8L158.4,141.3L161.7,141.3L166.6,143.1L169.7,143.3L169.8,144.9L176.0,145.5L178.8,146.2L180.4,144.4L185.1,144.9L189.4,145.8L194.5,145.8L197.7,144.0L200.3,144.9L203.1,142.0L203.8,139.8L209.0,136.8L210.6,138.7L210.3,140.9L209.9,142.4L211.5,143.5L213.7,142.9L214.1,144.6L213.4,146.7L216.5,146.0L220.0,142.4L223.3,141.3L226.6,141.3L226.2,143.5L223.8,145.3L223.7,147.1L218.5,149.1L215.2,148.9L210.7,151.6L207.3,154.0L201.9,155.3L196.5,157.9L191.8,160.8L188.4,163.8L186.4,166.7L189.3,167.2L187.8,170.6L191.8,170.6L195.2,172.8L199.5,175.3L204.6,175.5L201.9,181.0L202.5,183.5L203.5,185.5L205.9,184.5L208.4,182.2L209.4,178.5L209.0,176.8L214.5,174.3L217.8,171.1L218.3,168.2L216.6,166.7L220.1,163.8L222.5,158.2L225.9,158.4L230.1,159.1L232.1,160.3L235.1,161.5L234.7,163.8L233.2,166.7L235.6,167.9L239.0,166.7L243.5,163.1L244.4,165.0L245.8,168.2L245.9,172.3L247.5,175.5L250.8,177.0L251.8,179.5L253.3,182.0L250.4,184.7L246.3,185.7L243.0,187.8L237.0,187.8L229.9,188.0L226.0,190.5L221.8,193.6L218.3,196.1L219.8,196.4L224.0,193.1L228.9,190.8L233.2,191.3L230.6,193.6L230.5,196.1L230.9,198.2L234.3,199.2L237.5,199.0L240.1,197.7L238.3,199.7L236.5,200.8L231.3,202.3L226.3,205.1L225.4,203.3L229.1,200.8L225.6,200.8L224.0,201.0L223.3,199.5L224.5,195.9L221.9,195.1L219.5,197.4L218.3,199.0L215.0,201.3L208.4,201.3L204.4,203.3L199.2,204.9L197.7,205.6L197.4,206.9L192.9,207.7L189.0,209.3L188.2,208.5L190.5,206.4L192.9,201.3L191.3,198.7L189.5,197.4L187.8,194.9L184.0,192.8L181.0,193.6L178.4,193.1L174.8,192.1L171.7,191.6L171.5,190.0L171.0,191.0L141.0,191.0L114.4,191.0L115.5,190.3L113.7,188.0L110.9,186.5L109.5,185.5L111.0,182.7L111.2,179.7L110.5,177.7L112.2,176.0L114.5,173.6L112.8,171.1L113.3,167.7L112.9,165.0L107.1,166.2L106.7,163.8L103.7,163.1ZM113.0,192.6L110.4,191.6L108.6,189.8L107.0,187.2L109.0,186.5L111.9,188.0L113.1,190.5ZM104.3,183.2L103.8,181.0L104.7,178.2L107.0,178.5L105.1,180.5ZM242.3,194.4L245.0,192.3L244.3,190.5L247.7,188.0L250.2,185.2L252.8,184.7L250.6,187.8L251.5,188.8L253.3,189.5L254.9,190.8L255.1,193.1L255.2,195.6L253.8,196.9L252.1,196.4L250.1,196.4L249.3,194.9L246.3,194.6ZM231.5,196.9L233.7,197.7L235.8,197.7L234.4,198.7L231.9,198.2ZM233.8,189.0L236.9,189.3L238.4,190.8L235.5,190.3ZM210.5,151.9L214.8,150.7L216.0,151.6L218.6,153.0L219.7,155.3L217.1,155.3L215.0,154.4L210.4,156.0L208.3,155.1L211.2,154.0ZM220.5,133.0L225.5,132.8L228.1,133.4L233.2,133.0L233.9,135.1L238.0,134.9L240.4,135.9L242.8,137.2L245.3,138.3L247.6,139.8L250.2,140.9L250.5,143.1L252.4,145.8L256.4,147.8L255.4,149.8L251.6,152.1L250.2,150.7L248.4,149.8L245.5,150.5L247.8,154.4L246.6,156.7L243.9,156.7L241.2,155.1L242.7,159.1L240.3,158.6L235.9,156.7L234.2,154.9L231.5,153.5L226.9,153.7L226.2,152.1L233.9,151.0L236.1,148.7L239.2,146.4L236.9,144.6L232.5,144.9L230.4,143.1L233.9,140.5L229.1,141.3L223.6,140.9L217.5,140.2L216.7,138.3L218.2,135.5ZM168.4,141.3L172.0,142.6L172.2,144.2L180.8,144.0L186.5,143.3L191.4,143.5L194.0,141.5L192.1,140.0L195.8,140.5L198.3,138.7L197.1,136.6L196.0,134.5L192.5,134.0L188.2,136.6L186.8,134.9L182.6,135.7L179.7,134.0L172.4,135.5L171.4,137.9L174.6,137.9L176.9,139.6L170.0,139.8ZM159.6,136.8L161.9,138.3L166.7,137.6L173.2,135.5L178.9,133.4L178.5,131.8L173.6,131.3L167.3,132.0L165.4,134.0ZM198.7,136.6L201.7,137.6L207.8,135.5L209.4,133.0L205.1,132.6L200.0,134.5ZM209.4,135.5L211.6,136.6L218.4,134.5L219.5,132.4L215.2,132.0L211.8,133.0ZM195.9,143.1L199.2,144.2L202.7,143.1L201.9,141.1L198.1,141.5ZM181.7,129.9L185.8,131.6L191.3,130.9L198.2,130.3L200.9,128.7L197.1,127.5L192.0,129.1L189.2,127.7L184.4,127.9ZM201.8,129.3L206.0,130.3L211.1,129.9L214.1,127.3L209.5,126.7L205.0,127.9ZM213.0,130.3L216.8,131.1L220.9,130.9L225.2,131.3L232.6,130.9L237.9,131.1L240.3,129.3L237.0,128.7L232.0,129.1L227.6,127.5L223.4,127.1L218.1,127.1ZM225.0,127.1L229.1,127.5L233.4,127.7L239.3,127.9L244.3,127.5L246.0,125.7L252.9,123.2L253.4,121.9L260.5,121.4L266.4,119.6L273.6,118.0L277.5,116.7L271.6,115.7L260.8,115.6L250.9,115.9L241.7,116.7L234.3,118.1L239.6,119.5L239.2,121.0L232.9,124.0L234.6,125.1L229.5,125.7ZM225.1,120.9L224.3,123.8L228.5,124.0L234.8,123.0L235.2,121.4L233.9,119.5L228.3,119.5ZM175.5,127.7L178.9,129.1L186.8,127.3L184.5,125.7L178.8,126.5ZM206.3,125.1L211.5,125.7L215.5,123.8L212.8,122.5L208.1,123.2ZM214.5,124.5L219.9,124.9L223.5,123.2L220.8,121.9L216.7,122.8Z"/>
<path d="M160.2,271.9L161.6,271.9L162.2,270.3L162.6,270.9L162.0,274.3L160.0,277.1L159.4,277.1Z"/>
<path d="M184.7,270.9L186.8,270.3L189.4,271.4L188.2,272.2L185.9,272.2Z"/>
<path d="M202.9,366.7L203.8,371.0L204.6,376.2L204.1,380.1L204.6,385.4L204.5,390.6L204.3,395.8L205.1,401.0L206.1,405.0L205.8,410.2L205.0,415.4L205.8,420.6L206.8,425.8L209.1,427.9L209.7,431.5L208.4,433.0L209.0,438.2L208.5,441.3L210.1,445.1L212.4,450.2L215.8,454.7L219.3,457.2L223.0,458.9L224.9,458.7L224.1,456.4L226.3,455.2L228.2,454.7L223.9,454.2L220.0,453.4L218.1,450.9L215.6,447.6L215.9,443.8L215.3,438.7L214.6,434.9L212.2,429.7L210.6,424.5L210.4,419.3L209.4,414.1L209.9,410.7L209.4,405.0L207.7,399.7L207.8,395.8L208.6,391.4L209.6,387.4L209.2,382.7L211.5,381.4L211.3,378.3L209.8,378.3L208.7,374.9L207.7,371.8L207.5,369.4L206.2,367.8L204.7,364.4ZM224.6,455.9L228.3,455.7L230.6,461.1L234.1,462.1L233.6,463.1L229.5,462.4L224.7,460.4L222.2,459.2L225.4,458.9L226.4,457.7ZM206.5,428.1L208.2,428.1L209.2,431.8L207.4,431.5Z"/>
<path d="M235.4,397.6L239.2,399.2L240.1,399.5L244.1,402.1L246.2,404.2L246.2,406.8L245.6,408.6L243.5,410.2L240.6,409.9L236.9,408.9L235.3,407.3L234.9,402.3Z"/>
<path d="M320.2,151.0L324.1,148.9L327.3,150.3L331.0,149.4L335.4,148.7L337.8,149.8L339.3,152.1L336.5,153.7L330.9,155.8L326.5,155.6L323.1,154.6L324.2,153.3L320.9,152.3L323.7,151.4Z"/>
<path d="M351.6,188.3L356.0,187.8L360.0,186.7L365.6,185.7L366.1,181.7L363.4,181.0L362.6,177.7L359.9,175.5L358.8,173.6L359.2,169.6L356.4,169.4L357.0,167.2L353.7,167.2L352.1,169.9L352.3,172.8L353.4,175.3L353.5,176.5L356.4,176.3L357.2,179.0L357.1,180.2L354.2,180.2L354.5,182.2L352.7,184.0L356.5,185.0L354.4,186.0ZM351.0,178.2L352.4,177.2L351.3,175.5L349.1,175.8L348.9,176.0L347.3,177.2L348.8,178.2Z"/>
<path d="M359.2,205.4L360.3,202.5L360.7,199.5L358.5,196.1L353.9,193.8L353.5,192.3L356.9,191.6L359.8,191.8L359.4,189.3L360.8,190.0L363.4,189.3L366.2,188.0L366.2,186.2L368.0,185.7L369.0,186.5L371.4,188.5L372.6,188.5L374.7,189.8L375.9,189.8L379.5,191.0L378.5,194.6L377.3,195.1L375.5,197.7L377.0,198.7L377.4,199.0L377.1,200.8L377.6,203.3L378.6,204.4L376.6,206.2L373.4,205.4L371.4,205.1L369.5,206.2L369.7,208.0L366.8,208.0L364.5,207.2L362.0,206.9ZM381.1,208.0L382.7,206.4L383.0,209.0L382.4,210.6L381.1,209.3Z"/>
<path d="M403.9,209.3L405.2,207.4L406.4,209.3L406.3,210.8L407.5,212.1L406.8,213.9L405.6,215.0L404.2,213.1L404.2,210.3Z"/>
<path d="M405.6,215.0L406.8,213.9L407.5,212.1L409.3,211.3L411.5,210.7L414.7,210.3L418.0,209.8L419.2,210.8L418.1,212.1L413.9,212.1L414.9,213.9L412.5,213.4L411.0,212.9L411.9,215.5L412.6,216.8L414.5,218.9L414.6,220.2L412.7,219.6L413.0,221.2L412.3,223.3L411.5,223.3L409.9,222.5L408.4,219.6L410.2,218.6L408.5,218.6L407.5,217.3L406.1,215.5ZM414.1,226.4L416.2,225.9L420.2,226.7L416.4,227.5ZM412.9,217.0L415.2,218.9L415.9,219.4L413.5,217.3ZM418.5,216.0L419.9,216.8L418.8,216.8ZM423.0,224.1L424.0,223.6L423.3,224.9Z"/>
<path d="M416.9,192.8L419.3,192.6L422.1,193.8L424.8,197.7L422.3,197.7L421.2,200.0L420.5,196.4Z"/>
<path d="M408.0,192.6L408.4,190.8L411.0,186.2L409.8,184.7L412.4,183.7L417.5,184.7L423.5,185.2L425.7,183.2L429.6,182.7L433.9,187.5L439.2,188.8L443.4,189.5L443.9,193.8L441.0,195.9L437.8,196.9L434.9,198.2L435.6,200.0L438.6,200.2L436.3,201.3L433.6,202.8L432.3,202.3L430.1,200.2L432.1,198.4L428.7,197.9L426.2,197.4L424.3,200.5L421.2,200.0L422.3,197.7L424.8,197.7L422.1,193.8L419.3,192.6L416.9,192.8L412.8,193.8L409.5,193.6Z"/>
<path d="M403.1,173.3L402.9,171.6L403.7,169.6L405.6,169.4L407.0,171.1L409.0,170.6L408.7,168.9L410.5,168.7L414.7,169.9L415.5,170.4L416.9,173.3L414.0,174.3L410.4,172.6L406.4,172.6Z"/>
<path d="M383.6,166.0L382.5,165.5L380.7,167.0L378.0,168.4L376.1,168.7L373.4,166.7L372.2,163.1L372.1,159.6L374.1,157.7L377.8,155.6L381.5,153.5L384.7,149.8L387.7,146.0L390.0,144.0L394.3,141.5L398.6,140.7L401.6,139.2L405.2,138.5L409.2,138.7L414.2,140.0L413.8,141.5L411.6,142.9L409.5,140.9L406.2,141.3L405.1,143.7L401.7,143.5L397.5,142.9L396.8,144.4L393.4,144.2L390.8,146.4L388.1,149.6L387.9,153.7L384.4,155.3L385.2,160.8L386.0,161.5L384.8,164.3ZM378.9,121.6L383.0,124.4L385.8,127.1L388.7,126.9L390.9,123.4L394.5,122.8L389.6,121.0L386.0,120.7L381.7,121.0ZM389.5,120.3L394.9,121.9L401.7,120.7L397.1,119.8L391.5,119.8ZM394.4,125.3L399.0,125.7L397.0,124.0L394.0,124.0Z"/>
<path d="M358.2,227.0L360.8,225.4L363.2,224.6L366.2,223.3L369.5,222.5L373.8,222.5L378.1,222.0L381.6,222.3L380.8,224.6L381.1,228.0L379.4,230.3L382.8,234.8L384.0,239.5L385.0,242.9L384.9,249.2L385.5,254.4L389.8,257.3L380.0,264.1L376.2,267.7L372.5,268.8L370.5,269.0L370.3,266.9L367.1,265.6L352.2,253.4L343.6,247.3L343.6,246.3L343.6,243.7L347.2,241.3L350.3,241.3L351.9,240.3L354.8,237.9L354.8,237.1L356.6,235.1L360.4,234.0L359.3,231.7L359.3,228.5Z"/>
<path d="M461.8,285.5L462.6,287.6L461.5,288.6L462.4,288.6L461.3,290.2L459.0,289.9L458.9,288.1L460.2,286.0Z"/>
<path d="M459.0,323.1L455.8,325.8L454.3,329.4L453.4,331.0L450.0,326.8L449.8,326.5L441.5,321.3L441.5,318.7L442.7,315.8L443.8,314.3L442.4,309.6L441.4,307.7L445.8,306.7L448.1,307.2L450.9,309.3L454.1,309.8L457.6,308.5L457.6,311.4L457.7,321.1Z"/>
<path d="M453.4,331.0L452.4,334.4L454.0,337.0L453.4,340.4L454.5,344.8L455.8,346.1L450.2,348.2L445.6,349.0L443.1,349.0L442.5,347.5L441.2,343.5L438.9,343.3L436.6,342.5L434.3,341.2L433.9,340.1L431.2,335.7L430.6,330.5L432.2,330.2L434.1,327.3L433.4,325.0L434.1,324.7L433.4,321.3L441.5,321.3L449.8,326.5L450.0,326.8Z"/>
<path d="M431.3,322.4L433.4,321.3L434.1,324.7L433.4,325.0L432.0,326.0L429.9,325.8L430.4,323.1Z"/>
<path d="M324.5,263.0L325.5,268.0L326.6,271.7L325.3,276.6L329.9,275.3L332.6,278.2L335.1,280.0L336.0,278.2L338.6,278.4L341.8,278.2L350.4,278.2L350.0,275.6L349.4,263.8L349.5,255.4L352.2,253.4L343.6,247.3L343.5,250.7L336.1,250.7L336.0,257.3L333.7,258.6L333.6,263.0Z"/>
<path d="M335.1,280.0L336.0,278.2L338.6,278.4L341.8,278.2L350.4,278.2L350.0,275.6L349.4,263.8L349.5,255.4L352.2,253.4L367.1,265.6L370.3,266.9L370.5,269.0L372.5,268.8L372.6,275.6L371.0,278.4L366.0,278.7L363.5,279.8L361.4,279.5L358.4,281.6L355.0,283.9L352.9,285.8L351.1,287.9L350.4,291.5L348.8,291.0L344.6,292.0L343.9,289.9L341.7,286.5L338.2,286.8L336.9,286.3L336.9,285.0Z"/>
<path d="M324.7,286.3L328.6,285.8L331.6,285.8L331.6,288.1L328.3,289.9L326.3,287.9Z"/>
<path d="M332.4,295.2L334.3,292.8L337.3,292.6L338.6,294.4L339.3,296.5L336.5,300.7L334.2,299.4L332.6,297.0Z"/>
<path d="M350.4,291.5L352.2,293.3L356.6,293.6L356.3,289.9L362.8,289.7L365.1,289.9L366.2,288.9L368.5,287.6L368.0,286.3L365.3,283.7L363.5,279.8L361.4,279.5L358.4,281.6L355.0,283.9L352.9,285.8L351.1,287.9Z"/>
<path d="M356.5,305.4L355.6,300.9L356.8,297.8L356.6,293.6L356.3,289.9L362.8,289.7L364.1,292.6L363.9,296.5L364.4,300.9L365.8,302.8L363.0,304.1L359.5,305.6Z"/>
<path d="M363.5,279.8L365.3,283.7L368.0,286.3L369.4,286.3L371.3,288.1L371.5,286.0L372.6,283.4L376.7,282.9L380.9,283.9L383.6,285.2L387.5,283.9L391.2,284.5L394.1,282.9L393.9,281.1L398.3,274.5L398.2,266.4L399.0,265.4L396.8,258.6L395.1,259.6L389.8,257.3L380.0,264.1L376.2,267.7L372.5,268.8L372.6,275.6L371.0,278.4L366.0,278.7Z"/>
<path d="M369.2,302.0L369.4,295.2L371.7,291.3L371.3,288.1L371.5,286.0L372.6,283.4L376.7,282.9L380.9,283.9L383.6,285.2L387.5,283.9L391.2,284.5L394.1,282.9L395.6,286.0L396.5,288.6L394.7,289.9L393.4,293.9L391.1,296.7L390.2,300.4L387.4,300.4L385.6,301.7L382.8,306.2L379.1,307.2L376.8,307.5L375.4,305.1L373.4,302.2Z"/>
<path d="M394.1,282.9L393.9,281.1L398.3,274.5L398.2,266.4L399.0,265.4L396.8,258.6L399.1,257.3L417.5,267.7L417.8,277.7L415.3,277.9L414.5,281.6L413.4,283.2L414.6,285.8L415.6,290.2L412.8,291.0L409.0,294.9L406.7,295.2L406.3,297.8L402.1,298.6L398.7,299.1L398.0,296.5L395.2,293.3L398.6,292.6L397.4,289.9L396.5,286.8L395.6,286.0Z"/>
<path d="M391.1,333.9L391.8,332.3L393.0,330.7L393.9,331.5L396.2,331.5L398.1,329.9L399.9,327.8L400.4,323.9L403.6,320.0L404.1,317.9L404.8,312.4L405.9,309.6L405.9,307.5L408.0,305.6L410.5,307.2L414.7,308.0L415.8,306.4L419.3,305.6L421.8,305.1L426.2,305.4L430.3,307.2L432.7,307.5L434.3,309.3L434.1,312.4L435.3,313.2L432.0,316.9L431.3,320.0L431.3,322.4L430.4,323.1L429.9,325.8L430.4,327.3L430.6,330.5L431.2,335.7L433.9,340.1L429.5,340.9L428.3,343.0L428.7,346.1L428.2,349.5L429.7,351.1L431.3,350.6L431.3,353.7L428.1,351.4L425.4,349.0L421.3,348.2L419.0,348.2L418.1,347.2L414.2,348.0L413.1,343.5L413.4,340.4L413.2,337.8L409.8,337.0L407.9,337.0L406.7,339.6L403.5,339.9L401.9,337.5L401.3,334.1L395.3,334.1L393.2,334.1L391.3,334.4Z"/>
<path d="M391.3,334.4L393.2,334.1L395.3,334.1L401.3,334.1L401.9,337.5L403.5,339.9L406.7,339.6L407.9,337.0L409.8,337.0L413.2,337.8L413.4,340.4L413.1,343.5L414.2,348.0L418.1,347.2L418.0,352.7L413.4,352.7L413.2,361.0L416.3,364.7L411.7,365.7L405.1,364.2L394.9,364.2L393.1,362.9L389.8,363.8L389.9,360.5L391.6,353.7L394.5,347.5L393.8,343.0L392.7,338.3ZM390.7,331.8L391.6,330.7L393.0,330.7L391.8,332.3L391.1,333.9Z"/>
<path d="M418.1,347.2L419.0,348.2L421.3,348.2L425.4,349.0L428.1,351.4L431.3,353.7L431.3,350.6L429.7,351.1L428.2,349.5L428.7,346.1L428.3,343.0L429.5,340.9L433.9,340.1L434.3,341.2L436.6,342.5L438.9,343.3L439.5,346.9L438.7,351.4L437.9,354.2L439.0,355.3L432.0,357.9L432.4,359.5L429.2,360.3L428.7,361.8L424.5,365.5L420.6,365.2L420.4,365.2L416.3,364.7L413.2,361.0L413.4,352.7L418.0,352.7Z"/>
<path d="M455.8,346.1L456.1,351.4L455.9,356.6L455.7,359.2L453.1,361.8L448.4,364.4L445.5,367.8L442.2,370.7L443.2,376.2L443.0,380.1L442.6,382.7L438.2,384.8L436.5,386.4L436.6,388.8L434.8,388.8L434.5,386.1L435.0,382.7L433.7,377.3L436.5,374.4L437.9,370.5L437.6,367.1L438.2,363.1L438.0,362.4L433.8,360.5L432.4,359.5L432.0,357.9L439.0,355.3L441.9,356.9L441.5,360.5L443.4,363.4L444.7,360.5L445.1,357.6L443.2,354.0L442.1,351.4L443.1,349.0L445.6,349.0L450.2,348.2Z"/>
<path d="M420.6,365.2L422.5,369.9L425.8,372.3L426.3,375.2L429.4,376.7L426.9,378.0L423.8,380.4L421.2,383.3L420.2,385.9L414.6,384.8L412.2,388.2L409.3,389.0L408.0,383.5L408.2,376.2L410.5,376.2L410.8,366.5L416.2,366.5L418.8,365.7L420.4,365.2Z"/>
<path d="M539.9,190.5L543.1,188.0L547.3,186.5L553.4,188.5L558.7,189.0L559.4,188.5L557.4,183.2L565.9,185.2L567.7,187.2L577.1,188.0L581.3,190.0L588.4,190.0L592.1,188.0L597.0,188.8L597.4,191.6L598.2,193.6L602.1,194.4L607.9,196.1L608.6,196.9L603.9,197.4L602.0,199.5L598.6,201.5L594.6,201.3L595.1,203.8L594.6,206.9L588.8,208.0L584.6,210.0L574.9,207.4L566.3,206.9L564.9,206.9L561.6,203.3L556.5,201.3L551.0,200.5L548.4,196.1L542.4,192.8Z"/>
<path d="M495.9,225.6L498.4,226.4L500.1,225.1L502.6,223.8L502.8,221.7L504.5,220.7L506.3,221.2L509.2,221.5L512.5,221.7L513.7,220.4L514.3,218.9L516.7,219.6L517.7,222.5L521.4,221.0L524.5,221.5L522.9,222.5L517.9,223.6L518.0,227.2L516.0,229.8L517.0,231.7L515.6,235.3L510.9,236.9L510.0,240.3L509.8,240.8L501.8,241.9L498.1,240.8L499.5,237.7L497.1,236.4L495.9,232.2L495.9,229.0Z"/>
<path d="M561.8,248.4L564.3,248.6L568.7,248.4L567.4,246.0L563.6,245.0L561.7,246.8L561.6,247.3Z"/>
<path d="M589.9,265.6L590.3,265.4L592.0,263.0L593.2,263.3L593.6,260.1L595.7,262.0L598.5,264.1L600.9,266.4L599.1,268.0L602.2,270.1L606.0,274.5L608.2,277.4L608.8,280.3L606.6,280.8L605.6,282.4L603.7,281.3L604.4,281.1L604.2,277.9L602.1,275.8L601.7,273.2L599.5,270.9L596.7,271.9L595.3,271.1L592.9,272.2L592.7,267.7L591.1,267.7Z"/>
<path d="M479.1,255.2L481.7,258.8L487.6,259.4L488.6,255.4L489.7,253.6L489.3,251.8L488.7,250.7L486.5,252.8L484.5,255.4L481.2,255.4Z"/>
<path d="M440.0,232.2L441.0,231.7L442.9,229.3L442.4,228.3L441.5,228.3Z"/>
<path d="M446.6,205.4L449.7,205.6L454.1,206.7L457.4,207.4L461.0,209.3L460.9,211.1L458.1,210.8L455.0,211.3L453.4,210.3L450.6,210.3L450.7,208.5L448.8,206.4Z"/>
<path d="M455.0,211.3L458.1,210.8L459.4,212.1L461.0,215.0L462.5,217.0L461.6,217.0L459.0,215.7L458.5,215.0L455.9,213.9Z"/>
<path d="M458.1,210.8L460.9,211.1L461.0,209.3L463.4,210.8L465.2,209.3L468.0,212.6L469.8,213.1L468.3,216.0L467.9,218.3L465.7,217.0L466.1,215.7L463.4,216.3L461.6,217.0L462.5,217.0L461.0,215.0L459.4,212.1Z"/>
<path d="M621.2,375.7L624.6,373.1L628.1,372.5L632.9,371.0L638.9,369.1L641.7,363.7L644.4,363.9L645.1,361.0L648.6,358.7L652.5,355.3L655.7,357.4L659.1,357.6L660.3,354.0L662.9,351.1L667.2,350.1L667.4,348.2L672.6,350.6L676.8,350.1L675.5,354.8L672.8,357.6L675.8,360.0L679.8,363.1L683.2,364.4L686.5,357.9L687.7,351.4L690.3,346.7L691.9,352.2L692.0,356.1L695.1,357.9L695.3,363.1L695.8,368.4L699.7,371.5L700.9,376.2L703.0,379.6L706.5,384.8L704.9,393.5L701.0,399.7L695.8,405.0L691.2,410.2L686.3,416.2L681.1,417.8L675.7,420.9L673.5,418.8L670.2,420.1L665.8,418.3L664.7,415.4L664.8,411.8L663.1,411.8L664.7,409.7L662.7,410.7L666.0,403.9L662.7,406.8L659.1,409.7L657.9,408.9L657.6,404.4L653.6,402.3L647.4,401.3L640.1,403.1L635.0,405.0L633.0,407.3L625.4,407.3L619.8,410.2L615.7,409.7L614.0,408.4L617.7,402.3L617.9,397.1L618.0,390.6L617.2,386.7L618.3,382.7L619.9,377.8ZM669.8,425.0L673.0,426.1L677.1,425.5L674.9,428.9L671.5,431.5L668.7,432.5L668.1,429.7ZM662.1,348.5L664.8,348.5L663.6,349.5ZM659.4,412.3L662.4,412.3L660.6,412.8Z"/>
<path d="M739.8,408.6L741.9,411.0L740.6,414.9L742.9,414.6L741.8,417.0L743.9,417.8L747.1,417.2L743.7,420.6L741.0,421.4L739.1,423.7L732.9,427.4L732.2,426.6L735.0,423.7L734.1,421.4L736.7,420.1L739.6,416.2L739.9,413.3L739.3,410.7ZM729.6,424.5L731.0,426.3L730.6,427.6L725.2,431.0L723.3,433.3L719.0,434.3L714.7,438.2L710.4,440.2L707.9,440.2L705.0,439.2L707.7,436.6L713.3,433.6L718.9,431.0L724.1,427.9L727.7,425.3ZM706.0,440.7L707.0,441.0L705.6,441.8Z"/>
<path d="M461.9,349.3L462.6,348.5L463.3,349.3L462.6,350.1ZM464.3,350.6L464.9,349.9L465.4,350.6L464.8,351.2ZM466.0,352.2L466.6,351.5L467.2,352.2L466.6,352.8Z"/>
<path d="M490.4,330.9L491.0,330.2L491.6,330.9L491.0,331.5Z"/>
<path d="M377.5,318.0L378.2,317.3L378.9,318.0L378.2,318.8ZM379.6,314.5L380.1,314.0L380.5,314.5L380.1,315.0Z"/>
<path d="M308.3,279.2L309.1,278.3L309.9,279.2L309.0,280.1ZM306.9,275.3L307.6,274.5L308.3,275.3L307.6,276.1ZM309.9,276.6L310.5,276.0L311.1,276.6L310.5,277.3ZM305.1,274.3L305.8,273.5L306.5,274.3L305.8,275.0Z"/>
<path d="M221.9,276.4L222.6,275.6L223.2,276.4L222.5,277.1ZM222.3,278.4L222.9,277.9L223.3,278.4L222.8,279.0ZM222.9,280.4L223.5,279.7L224.1,280.4L223.4,281.1ZM222.9,282.4L223.4,281.8L223.8,282.4L223.3,282.9ZM222.4,284.2L222.8,283.7L223.2,284.2L222.8,284.7ZM226.1,284.3L226.6,283.8L227.0,284.3L226.5,284.9ZM221.1,287.1L221.5,286.6L221.9,287.1L221.4,287.5ZM221.7,274.0L222.2,273.5L222.6,274.0L222.1,274.5ZM219.8,273.5L220.2,273.1L220.5,273.5L220.1,273.9Z"/>
<path d="M-32.6,354.2L-31.9,353.3L-31.0,354.2L-31.6,355.2ZM-30.7,355.0L-30.2,354.2L-29.4,355.0L-29.9,355.8Z"/>
<path d="M-34.1,374.1L-33.7,373.5L-32.9,374.1L-33.3,374.8Z"/>
</g>
<g fill="none" stroke="#6b6f7a" stroke-width="0.4" stroke-linejoin="round">
<path d="M114.4,191.0L141.0,191.0L171.0,191.0L171.5,190.0L171.7,191.6L174.8,192.1L178.4,193.1L181.0,193.6L184.0,192.8L187.8,194.9L189.5,197.4L191.3,198.7L192.9,201.3L190.5,206.4L188.2,208.5L189.0,209.3L192.9,207.7L197.4,206.9L197.7,205.6L199.2,204.9L204.4,203.3L208.4,201.3L215.0,201.3L218.3,199.0L219.5,197.4L221.9,195.1L224.5,195.9L223.3,199.5L224.0,201.0L224.2,201.8L220.7,203.1L216.6,204.6L214.5,207.2L214.3,209.0L215.4,209.8L212.0,210.6L209.7,211.1L206.0,212.6L204.8,215.2L202.1,217.8L199.4,221.2L198.9,222.3L198.7,226.2L196.3,228.0L193.0,229.8L190.0,231.1L185.9,234.3L183.6,236.6L182.7,239.8L183.5,244.2L184.0,248.6L182.7,252.6L180.9,252.8L179.4,249.4L178.5,246.0L178.5,242.9L176.9,240.0L173.7,241.1L171.9,239.2L168.1,239.5L164.7,239.8L164.7,242.6L162.1,242.6L159.6,241.6L154.9,241.1L151.9,242.4L147.8,244.7L145.7,246.8L145.1,250.7L141.1,249.7L140.8,246.8L139.5,244.7L138.1,240.8L135.7,240.8L133.5,242.9L131.1,241.3L128.3,235.6L124.6,235.6L124.2,236.9L118.0,236.9L110.7,233.7L111.1,233.2L105.6,233.7L104.0,229.8L100.1,228.3L99.4,223.0L99.6,219.9L98.6,216.0L98.8,213.1L101.2,209.5L102.0,206.9L104.7,203.8L108.4,197.9L110.4,192.6L113.5,193.1L113.4,195.1L115.2,191.0ZM127.9,141.8L103.7,163.1L106.7,163.8L107.1,166.2L112.9,165.0L113.3,167.7L112.8,171.1L114.5,173.6L112.2,176.0L110.1,175.3L108.7,173.6L110.2,169.9L108.0,168.2L106.1,167.2L105.3,164.3L102.1,163.8L97.5,163.8L96.1,161.7L91.6,162.4L86.8,164.3L81.2,165.8L85.0,162.7L89.6,161.0L86.3,161.5L80.3,164.3L75.0,167.5L68.1,170.4L60.0,173.6L53.1,175.5L48.0,176.8L43.9,177.2L50.7,175.0L57.6,173.1L65.5,169.6L69.2,167.0L66.6,167.0L64.6,166.7L60.4,167.2L63.7,164.3L60.3,164.1L59.9,162.4L61.6,160.0L67.3,157.2L71.7,156.3L76.2,155.6L79.1,153.3L75.6,153.5L72.9,153.3L70.1,153.0L70.2,150.7L75.5,149.4L79.9,148.7L82.8,149.4L82.3,147.6L83.2,146.0L81.2,144.6L85.7,143.3L91.2,141.8L96.8,140.2L103.4,139.2L107.4,138.1L111.9,138.9L115.6,139.8L121.0,140.7ZM71.0,170.1L72.6,171.1L76.1,169.6L77.1,168.2L74.1,168.7ZM56.6,155.8L59.2,156.3L61.6,156.0L60.2,155.1ZM54.9,163.4L56.0,164.3L58.3,163.1L57.0,162.9ZM8.6,269.0L11.1,268.0L11.4,266.7L9.8,265.9L9.0,267.2ZM8.3,264.6L9.4,264.6L9.1,263.8L8.2,263.9ZM5.1,262.8L6.2,263.0L5.9,262.0ZM2.1,261.2L2.7,261.5L2.9,260.7Z"/>
<path d="M152.1,280.8L152.3,279.0L153.7,276.6L156.7,276.6L156.6,275.6L155.7,273.7L155.9,272.2L160.2,271.9L159.4,277.1L161.3,277.7L159.1,279.8L158.5,281.1L156.7,282.6L154.0,282.4Z"/>
<path d="M156.7,282.6L158.5,281.1L160.4,282.4L162.0,282.4L161.9,283.9L159.6,284.2Z"/>
<path d="M159.1,279.8L161.3,277.7L163.2,277.1L166.7,277.1L170.1,277.4L172.8,279.5L169.8,280.3L167.3,282.4L164.5,282.9L163.6,284.7L162.6,283.9L161.9,283.9L162.0,282.4L160.4,282.4L158.5,281.1Z"/>
<path d="M162.6,283.9L163.6,284.7L164.5,282.9L167.3,282.4L169.8,280.3L172.8,279.5L171.7,284.7L170.9,288.6L170.8,290.2L168.5,289.9L166.2,289.7L164.5,287.9L162.4,285.2Z"/>
<path d="M166.2,289.7L168.5,289.9L170.8,290.2L173.1,293.6L172.3,295.4L172.2,297.5L170.4,296.2L168.3,293.6L167.2,292.8L165.9,291.8Z"/>
<path d="M171.1,261.5L174.6,258.8L178.1,258.1L181.4,258.3L184.6,260.1L187.8,261.7L191.0,263.3L194.8,265.9L192.9,266.7L186.7,266.8L188.1,264.9L185.3,263.3L182.1,262.0L178.2,260.7L176.1,259.6L174.4,260.7L173.1,261.5Z"/>
<path d="M199.6,271.4L200.9,272.4L203.8,270.9L207.0,270.9L207.5,269.8L205.8,268.5L204.2,267.2L200.1,267.2Z"/>
<path d="M220.7,292.3L222.8,292.3L223.1,290.5L221.3,290.7Z"/>
<path d="M184.9,296.0L186.2,297.8L187.5,295.2L189.3,291.0L191.3,289.7L194.7,289.2L197.4,287.6L198.6,286.3L199.9,287.1L199.4,287.9L197.8,288.4L196.5,289.7L195.3,291.5L195.2,293.1L195.6,294.9L196.4,296.7L196.0,299.4L197.2,300.4L200.2,300.1L203.1,302.8L207.5,302.5L206.7,304.8L206.6,307.5L207.7,309.8L206.5,311.4L207.9,312.7L208.5,315.6L208.1,315.6L206.0,314.3L201.9,314.3L201.8,315.8L203.2,316.1L202.8,316.9L201.4,317.1L201.4,319.2L202.8,321.6L201.8,329.7L199.9,328.6L201.2,325.8L197.3,324.5L194.7,325.0L192.8,322.1L190.3,319.2L189.1,319.0L188.4,318.4L186.8,317.7L184.3,317.7L183.4,316.6L181.1,315.0L181.6,312.2L184.1,311.9L184.7,308.8L184.3,304.3L184.7,301.2L183.6,299.9L185.3,298.1Z"/>
<path d="M181.1,315.0L178.1,316.6L177.1,319.7L176.2,321.6L176.3,324.7L178.4,325.2L177.7,327.6L177.6,330.2L179.7,331.5L180.8,331.8L182.1,328.9L183.5,326.5L186.2,325.5L188.5,322.9L189.1,321.1L189.1,319.0L188.4,318.4L186.8,317.7L184.3,317.7L183.4,316.6Z"/>
<path d="M177.7,327.6L175.5,329.9L175.9,334.4L179.0,336.7L181.2,340.1L183.7,344.8L185.9,350.1L188.6,355.0L191.2,359.0L195.3,361.3L200.1,364.2L202.9,366.7L204.7,364.4L205.5,361.0L204.0,359.5L205.2,357.4L205.1,352.2L203.2,347.5L200.9,347.5L200.7,343.5L196.8,343.8L194.7,343.3L195.3,342.0L192.6,338.0L193.2,336.7L194.6,335.4L194.9,332.3L197.2,330.5L199.7,329.7L201.8,329.7L199.9,328.6L201.2,325.8L197.3,324.5L194.7,325.0L192.8,322.1L190.3,319.2L189.1,319.0L189.1,321.1L188.5,322.9L186.2,325.5L183.5,326.5L182.1,328.9L180.8,331.8L179.7,331.5L177.6,330.2Z"/>
<path d="M204.7,364.4L205.5,361.0L204.0,359.5L205.2,357.4L205.1,352.2L203.2,347.5L205.5,347.7L209.7,344.6L212.6,344.1L213.1,348.8L215.3,351.1L219.1,352.7L221.5,354.0L224.5,354.8L225.6,361.0L229.7,361.3L230.2,363.9L231.9,365.7L231.7,368.4L231.0,370.5L228.8,369.1L223.0,369.9L221.8,372.3L221.6,376.7L218.6,376.2L217.9,378.3L215.7,376.5L213.1,375.7L211.3,378.3L209.8,378.3L208.7,374.9L207.7,371.8L207.5,369.4L206.2,367.8Z"/>
<path d="M243.7,308.2L245.1,307.5L246.0,312.7L247.6,316.1L246.6,318.2L251.0,319.5L252.2,320.5L256.8,321.6L260.3,324.5L260.8,326.0L263.8,325.0L267.2,326.3L270.7,326.0L274.2,328.4L277.2,331.2L281.6,332.3L282.9,337.5L282.5,341.7L279.6,346.1L277.4,348.8L274.8,352.7L273.8,356.6L274.0,361.8L273.1,365.7L272.3,370.5L270.5,375.2L268.4,378.3L265.5,378.8L262.2,379.6L258.8,381.4L255.2,384.8L254.2,388.0L254.7,392.7L252.4,395.8L250.8,399.7L248.4,402.9L246.2,406.8L246.2,404.2L244.1,402.1L240.1,399.5L239.2,399.2L235.4,397.6L238.7,392.9L243.0,389.8L242.6,388.5L240.5,385.6L240.8,381.7L238.2,381.2L237.5,377.8L235.4,376.7L232.2,376.5L231.8,372.8L231.0,370.5L231.7,368.4L231.9,365.7L230.2,363.9L229.7,361.3L225.6,361.0L224.5,354.8L221.5,354.0L219.1,352.7L215.3,351.1L213.1,348.8L212.6,344.1L209.7,344.6L205.5,347.7L203.2,347.5L200.9,347.5L200.7,343.5L196.8,343.8L194.7,343.3L195.3,342.0L192.6,338.0L193.2,336.7L194.6,335.4L194.9,332.3L197.2,330.5L199.7,329.7L201.8,329.7L202.8,321.6L201.4,319.2L201.4,317.1L202.8,316.9L203.2,316.1L201.8,315.8L201.9,314.3L206.0,314.3L208.1,315.6L208.5,315.6L209.9,316.9L211.8,316.6L215.3,313.7L216.7,312.4L214.0,309.6L215.4,308.0L218.4,308.2L222.3,306.9L223.1,305.1L224.7,305.6L225.5,308.5L224.8,311.6L225.2,314.0L227.2,315.6L231.4,313.7L232.6,313.7L234.0,313.7L237.0,312.7L241.6,312.4Z"/>
<path d="M344.3,209.3L345.7,208.7L349.1,209.3L349.7,210.0L348.4,211.6L348.3,213.7L347.0,215.2L348.0,216.8L347.3,218.9L346.8,221.5L343.8,222.0L344.1,218.1L342.7,217.6L344.1,213.7L344.4,211.1Z"/>
<path d="M344.3,209.3L343.5,206.4L346.3,204.6L350.9,204.9L355.7,205.1L359.2,205.4L362.0,206.9L364.5,207.2L366.8,208.0L369.7,208.0L369.7,209.3L367.6,210.6L364.7,212.1L362.6,215.5L363.4,217.3L361.7,219.4L361.3,220.4L358.5,222.8L353.5,222.8L351.3,224.3L349.4,223.0L346.8,221.5L347.3,218.9L348.0,216.8L347.0,215.2L348.3,213.7L348.4,211.6L349.7,210.0L349.1,209.3L345.7,208.7Z"/>
<path d="M368.0,185.7L369.7,185.0L371.5,185.0L372.9,184.7L374.5,185.7L374.4,186.5L375.0,186.5L375.4,187.0L375.2,188.3L374.7,189.8L372.6,188.5L371.4,188.5L369.0,186.5Z"/>
<path d="M369.7,185.0L370.9,183.5L372.2,181.0L373.8,180.2L376.7,180.0L377.1,180.5L376.8,182.2L376.2,183.5L374.9,184.0L375.3,185.0L375.0,186.5L374.4,186.5L374.5,185.7L372.9,184.7L371.5,185.0Z"/>
<path d="M378.6,204.4L377.6,203.3L377.1,200.8L377.4,199.0L379.3,199.0L380.2,197.9L381.5,199.0L382.1,197.7L384.3,197.4L384.3,196.4L387.7,196.1L388.4,196.9L391.1,197.4L391.0,199.5L388.6,200.2L388.6,203.3L391.4,205.1L392.8,208.0L396.7,209.3L396.6,210.3L402.3,213.7L402.2,214.7L399.1,212.9L398.4,215.0L399.8,216.8L398.4,218.6L396.7,219.6L396.8,217.6L397.6,216.5L396.2,214.2L393.8,212.6L389.6,210.6L386.3,208.0L385.0,206.4L384.2,204.1L381.5,202.8L379.7,204.1ZM389.6,219.4L396.5,218.6L395.6,222.8L389.9,220.4ZM380.4,211.3L383.3,211.3L383.7,216.0L381.2,217.0L380.8,212.9Z"/>
<path d="M391.1,200.0L394.6,200.0L395.3,198.2L396.8,197.4L399.0,199.0L401.7,199.0L403.1,200.8L402.3,201.5L397.9,200.8L395.7,200.8L395.8,202.0L396.7,203.3L399.8,206.4L401.9,208.0L399.2,206.2L396.2,204.6L394.4,203.1L393.0,200.8L392.0,201.5L391.1,201.0Z"/>
<path d="M395.7,200.8L397.9,200.8L402.3,201.5L403.2,201.5L402.7,203.1L403.8,204.1L402.1,205.9L401.8,207.4L399.8,206.4L396.7,203.3L395.8,202.0Z"/>
<path d="M401.7,199.0L404.7,198.4L407.4,200.8L410.1,202.5L409.6,203.8L411.1,205.9L410.1,208.2L408.4,208.5L406.4,209.3L405.2,207.4L403.1,205.1L403.8,204.1L402.7,203.1L403.2,201.5L402.3,201.5L403.1,200.8Z"/>
<path d="M406.4,209.3L408.4,208.5L410.1,208.2L411.5,210.7L409.3,211.3L407.5,212.1L406.3,210.8Z"/>
<path d="M404.7,198.4L406.6,197.2L409.5,193.6L412.8,193.8L416.9,192.8L420.5,196.4L421.2,200.0L424.3,200.5L422.5,202.0L422.6,204.6L418.2,204.4L414.1,204.9L410.3,203.8L409.6,203.8L410.1,202.5L407.4,200.8Z"/>
<path d="M403.6,175.3L403.1,173.3L406.4,172.6L410.4,172.6L414.0,174.3L412.8,176.3L412.4,177.7L408.7,178.7L407.2,177.5L406.8,176.3Z"/>
<path d="M408.7,168.9L406.9,167.0L406.5,165.8L410.2,164.8L414.9,165.0L414.1,166.7L414.9,169.2L414.7,169.9L410.5,168.7Z"/>
<path d="M383.6,166.0L384.1,167.7L385.6,169.9L387.2,172.8L388.0,175.0L390.5,174.8L390.7,173.3L393.5,173.1L394.3,169.9L394.4,167.2L397.3,165.0L397.8,163.6L394.5,161.9L394.0,158.6L396.1,156.7L399.4,154.9L400.8,152.6L401.7,150.5L405.1,150.3L403.7,147.6L403.0,145.5L397.5,142.9L396.8,144.4L393.4,144.2L390.8,146.4L388.1,149.6L387.9,153.7L384.4,155.3L385.2,160.8L386.0,161.5L384.8,164.3Z"/>
<path d="M405.1,150.3L407.3,151.6L407.6,153.0L403.2,156.3L401.4,158.2L401.9,161.5L404.4,163.4L405.5,164.1L409.9,163.1L414.0,162.7L416.2,160.8L419.5,157.0L416.3,155.1L415.2,150.5L413.2,147.8L414.1,146.0L411.1,144.2L411.6,142.9L409.5,140.9L406.2,141.3L405.1,143.7L401.7,143.5L397.5,142.9L403.0,145.5L403.7,147.6Z"/>
<path d="M381.6,222.3L384.1,221.2L385.3,222.5L386.7,222.0L385.7,223.8L386.7,225.9L385.0,229.0L386.9,230.9L388.2,231.9L388.3,234.0L385.7,235.8L385.3,237.9L384.0,239.5L382.8,234.8L379.4,230.3L381.1,228.0L380.8,224.6Z"/>
<path d="M418.6,236.1L422.6,236.6L427.1,237.9L430.3,236.4L433.6,236.6L435.0,237.4L438.5,236.9L440.5,241.6L439.7,245.5L439.3,246.0L437.9,244.7L435.5,240.5L434.9,241.6L438.0,246.0L439.1,248.9L441.7,254.1L443.2,256.2L443.1,258.3L446.4,261.2L434.0,261.2L419.5,261.2L418.6,242.4L417.7,239.8Z"/>
<path d="M429.9,325.8L432.0,326.0L433.4,325.0L434.1,327.3L432.2,330.2L430.6,330.5L430.4,327.3Z"/>
<path d="M325.3,276.6L329.9,275.3L332.6,278.2L335.1,280.0L336.9,285.0L336.9,286.3L331.6,285.8L328.6,285.8L324.7,286.3L324.5,284.5L328.6,284.2L331.4,283.7L328.7,282.6L324.5,283.2L323.0,280.3L324.6,278.2Z"/>
<path d="M328.3,289.9L331.6,288.1L331.6,285.8L336.9,286.3L338.2,286.8L341.7,286.5L343.9,289.9L344.6,292.0L343.9,293.9L345.3,296.7L343.9,298.8L341.4,299.4L341.6,296.7L339.3,296.5L338.6,294.4L337.3,292.6L334.3,292.8L332.4,295.2L329.7,291.5Z"/>
<path d="M345.7,307.2L345.7,303.5L343.4,301.7L343.9,298.8L345.3,296.7L343.9,293.9L344.6,292.0L348.8,291.0L350.4,291.5L352.2,293.3L356.6,293.6L356.8,297.8L355.6,300.9L356.5,305.4L352.6,305.1L349.2,306.2Z"/>
<path d="M365.8,302.8L364.4,300.9L363.9,296.5L364.1,292.6L362.8,289.7L365.1,289.9L364.8,291.8L366.2,294.4L366.7,300.7L367.1,302.5Z"/>
<path d="M367.1,302.5L366.7,300.7L366.2,294.4L364.8,291.8L365.1,289.9L366.2,288.9L368.5,287.6L368.0,286.3L369.4,286.3L371.3,288.1L371.7,291.3L369.4,295.2L369.2,302.0Z"/>
<path d="M382.8,306.2L385.6,301.7L387.4,300.4L390.2,300.4L391.1,296.7L393.4,293.9L394.7,289.9L396.5,288.6L395.6,286.0L396.5,286.8L397.4,289.9L398.6,292.6L395.2,293.3L398.0,296.5L398.7,299.1L396.6,302.5L396.4,305.6L398.1,308.8L399.9,312.7L400.4,314.3L396.5,312.9L393.7,312.9L389.1,312.9L385.6,312.7L385.4,309.6L383.8,308.2Z"/>
<path d="M388.6,328.9L390.5,327.8L389.8,325.0L391.9,323.9L393.0,325.0L395.8,325.0L396.2,323.7L396.5,320.3L395.1,319.2L396.5,316.6L395.8,315.0L393.5,315.3L393.7,312.9L396.5,312.9L400.4,314.3L399.9,312.7L400.4,312.9L401.3,309.6L403.4,309.3L405.9,309.6L404.8,312.4L404.1,317.9L403.6,320.0L400.4,323.9L399.9,327.8L398.1,329.9L396.2,331.5L393.9,331.5L393.0,330.7L391.6,330.7L390.7,331.8Z"/>
<path d="M438.9,343.3L441.2,343.5L442.5,347.5L443.1,349.0L442.1,351.4L443.2,354.0L445.1,357.6L444.7,360.5L443.4,363.4L441.5,360.5L441.9,356.9L439.0,355.3L437.9,354.2L438.7,351.4L439.5,346.9Z"/>
<path d="M389.8,363.8L393.1,362.9L394.9,364.2L405.1,364.2L411.7,365.7L416.3,364.7L420.4,365.2L418.8,365.7L416.2,366.5L410.8,366.5L410.5,376.2L408.2,376.2L408.0,383.5L407.5,392.9L405.3,394.2L401.7,393.7L399.7,393.5L398.1,390.6L396.6,386.7L395.6,381.4L395.5,377.5L393.3,373.1L390.7,367.8Z"/>
<path d="M399.7,393.5L401.7,393.7L405.3,394.2L407.5,392.9L408.0,383.5L409.3,389.0L412.2,388.2L414.6,384.8L420.2,385.9L421.2,383.3L423.8,380.4L426.9,378.0L429.4,376.7L433.7,377.3L435.0,382.7L434.5,386.1L432.5,386.7L431.9,388.5L432.9,390.1L434.8,388.8L436.6,388.8L435.6,393.2L432.4,396.6L429.9,400.5L425.6,404.4L422.1,406.8L419.2,407.6L416.5,408.1L412.2,407.8L406.6,409.7L404.0,408.6L403.2,408.1L403.1,405.0L403.1,401.8L401.3,398.4Z"/>
<path d="M422.9,396.1L426.4,393.7L428.3,395.8L425.6,398.4L423.7,397.9Z"/>
<path d="M476.1,350.1L478.0,357.9L477.6,360.5L475.7,364.4L473.7,371.0L469.9,381.4L468.6,384.0L464.2,385.6L461.9,384.0L460.8,377.5L461.7,374.4L463.7,371.0L463.1,365.7L464.3,361.3L468.7,359.7L472.3,356.9L474.8,353.5Z"/>
<path d="M414.4,141.3L416.2,141.1L419.0,142.2L423.3,142.6L432.8,145.8L434.0,148.2L432.2,149.1L428.9,149.6L423.4,148.7L419.3,147.6L424.0,152.1L424.4,153.5L429.5,154.6L429.7,152.3L433.5,153.0L433.5,150.5L436.4,148.7L439.2,149.4L437.3,144.2L440.9,144.6L442.1,147.8L444.5,146.2L448.7,145.1L453.3,144.2L454.5,144.9L459.1,144.0L463.1,143.5L463.6,141.3L470.9,142.4L475.6,143.3L479.1,144.9L478.6,142.6L474.6,141.5L472.8,138.7L472.7,134.9L476.2,134.0L479.6,134.9L481.4,138.1L483.2,142.0L485.4,144.2L489.4,147.1L487.6,149.1L490.2,146.4L488.0,144.2L485.0,140.9L483.5,137.6L483.2,134.9L488.0,135.9L490.9,138.7L493.0,136.2L490.8,133.4L497.4,132.8L498.0,130.1L504.3,128.7L512.4,127.7L515.2,126.3L518.4,124.9L522.0,125.7L526.6,126.9L534.2,127.5L538.1,129.3L535.9,132.0L540.8,132.8L543.7,133.2L552.9,134.2L559.6,133.2L564.9,133.6L574.7,138.3L578.3,139.2L579.7,137.6L586.5,137.9L588.2,135.5L598.4,135.9L607.0,137.4L614.1,138.9L622.3,138.9L629.4,141.5L633.1,141.8L641.8,142.0L645.6,140.7L650.1,143.1L656.1,141.5L665.6,143.3L678.7,152.1L678.0,152.8L675.3,152.8L683.5,156.7L686.4,158.2L681.6,157.9L678.3,159.6L677.2,161.5L676.5,163.8L669.8,164.1L664.8,164.1L668.3,167.5L667.8,169.2L672.7,171.8L673.4,173.3L674.4,175.5L673.5,178.0L675.6,180.5L674.6,182.0L674.8,186.0L669.9,182.2L664.0,177.2L659.9,172.8L658.6,169.6L659.8,167.0L660.0,163.1L660.8,160.8L658.5,158.2L658.1,160.0L654.2,159.8L651.2,159.6L648.8,161.5L648.7,164.6L645.9,166.2L639.0,165.0L633.1,165.5L627.7,165.8L626.4,169.2L626.3,174.0L624.3,176.8L630.3,178.5L633.1,179.5L636.9,180.5L639.4,180.5L641.4,183.5L643.6,187.2L646.1,191.0L646.6,195.4L646.8,198.7L645.6,203.1L642.8,206.9L639.2,206.2L637.7,208.2L637.1,207.4L636.5,205.1L634.7,201.5L638.1,201.0L636.9,194.6L636.5,192.6L632.5,194.1L627.3,191.6L625.5,191.3L618.9,189.0L610.7,182.0L604.0,179.7L599.1,180.2L600.9,184.7L601.5,188.5L599.9,189.8L597.0,188.8L592.1,188.0L588.4,190.0L581.3,190.0L577.1,188.0L567.7,187.2L565.9,185.2L557.4,183.2L559.4,188.5L558.7,189.0L553.4,188.5L547.3,186.5L543.1,188.0L539.9,190.5L539.0,190.8L534.8,189.5L533.2,188.3L528.1,186.0L522.4,186.5L515.1,180.2L511.5,178.0L508.3,179.5L505.7,178.5L500.8,178.0L499.2,175.3L495.6,175.0L489.7,177.0L482.6,178.7L483.0,182.7L485.3,185.2L482.6,186.5L479.4,186.0L473.7,187.0L467.1,184.7L463.5,184.2L459.8,187.2L457.2,190.3L458.5,193.6L462.3,196.9L464.0,197.9L461.9,199.5L460.5,202.5L462.5,206.4L465.2,209.3L463.4,210.8L461.0,209.3L457.4,207.4L454.1,206.7L449.7,205.6L446.6,205.4L443.0,203.1L439.6,201.3L440.3,199.5L441.5,198.2L440.2,196.9L441.0,195.9L443.9,193.8L443.4,189.5L439.2,188.8L433.9,187.5L429.6,182.7L425.7,183.2L424.6,180.5L426.8,179.7L422.8,176.0L422.3,174.5L416.9,173.3L415.5,170.4L414.7,169.9L414.9,169.2L414.1,166.7L414.9,165.0L416.5,163.8L418.7,164.1L415.3,162.4L414.0,162.7L416.2,160.8L419.5,157.0L416.3,155.1L415.2,150.5L413.2,147.8L414.1,146.0L411.1,144.2L411.6,142.9L413.8,141.5ZM60.4,143.3L63.4,144.6L63.7,147.3L68.6,149.6L62.9,151.0L58.5,153.5L56.4,153.7L54.8,152.3L55.0,151.0L53.5,149.4L49.1,151.4L47.3,152.1ZM69.8,137.6L72.6,138.3L71.2,138.9L67.6,138.9ZM654.9,138.3L656.2,137.6L658.4,138.9L657.1,139.2ZM401.0,177.5L401.6,176.3L403.6,175.3L406.8,176.3L407.2,177.5ZM446.8,137.4L447.4,135.5L447.9,133.4L449.9,131.3L451.7,129.3L457.6,127.9L462.6,126.5L467.7,127.1L465.6,128.3L459.4,130.3L457.6,132.4L455.7,134.5L455.3,136.6L457.3,138.7L457.7,139.6L453.6,139.6L449.9,138.7ZM493.8,120.3L496.6,118.6L502.0,119.5L507.2,121.2L507.6,122.7L501.1,122.1L496.6,121.4ZM510.3,122.5L514.2,122.1L518.6,123.2L516.0,124.0L512.5,123.6ZM575.2,129.3L578.6,128.1L586.7,129.3L585.9,130.7L578.9,130.7ZM585.5,133.6L590.8,133.4L589.3,134.0ZM590.5,129.7L596.6,130.1L595.6,130.9ZM427.6,119.6L432.3,119.1L435.4,119.6L431.6,120.3ZM638.4,177.7L642.5,180.2L647.1,184.7L651.6,189.8L655.4,191.6L651.2,190.5L654.4,195.4L656.7,196.7L657.6,198.2L655.1,198.7L652.4,194.9L649.5,191.0L645.1,186.0L641.7,182.2Z"/>
<path d="M464.0,197.9L467.3,196.4L471.4,196.4L472.9,200.5L468.9,201.3L468.9,202.5L467.5,202.8L470.7,205.9L473.1,207.2L473.7,209.5L476.5,208.2L480.3,210.8L481.4,210.8L478.9,201.3L483.8,199.7L489.7,202.8L492.4,205.1L498.3,204.6L501.4,206.4L502.0,209.0L503.1,209.3L507.2,211.6L508.8,210.6L510.8,209.0L512.2,208.2L512.0,207.4L517.3,207.7L516.9,206.4L518.4,205.9L521.8,206.7L529.0,206.9L531.7,208.5L531.1,206.4L532.0,205.9L529.8,202.3L528.4,201.5L533.5,200.8L532.8,200.0L532.5,195.6L537.7,195.9L536.8,192.6L539.0,190.8L534.8,189.5L533.2,188.3L528.1,186.0L522.4,186.5L515.1,180.2L511.5,178.0L508.3,179.5L505.7,178.5L500.8,178.0L499.2,175.3L495.6,175.0L489.7,177.0L482.6,178.7L483.0,182.7L485.3,185.2L482.6,186.5L479.4,186.0L473.7,187.0L467.1,184.7L463.5,184.2L459.8,187.2L457.2,190.3L458.5,193.6L462.3,196.9Z"/>
<path d="M512.2,208.2L512.0,207.4L517.3,207.7L516.9,206.4L518.4,205.9L521.8,206.7L529.0,206.9L531.7,208.5L528.7,210.3L525.6,211.6L524.4,213.1L521.8,213.1L520.2,214.7L520.2,215.5L516.7,215.7L513.7,215.2L511.2,215.2L513.3,213.7L516.0,213.4L517.9,212.1L513.9,210.0L511.4,210.3Z"/>
<path d="M509.2,221.5L509.8,218.9L508.0,215.2L509.7,213.7L510.2,212.4L512.3,211.9L513.3,213.7L511.2,215.2L513.7,215.2L516.7,215.7L520.2,215.5L521.1,217.8L523.6,218.3L524.5,221.5L521.4,221.0L517.7,222.5L516.7,219.6L514.3,218.9L513.7,220.4L512.5,221.7Z"/>
<path d="M501.3,252.8L506.7,252.6L512.3,252.3L513.6,253.9L516.6,256.8L517.8,255.2L522.7,254.9L520.0,251.5L518.4,248.1L520.2,245.5L523.5,245.5L525.1,241.6L526.8,239.0L527.3,236.4L528.6,234.3L525.2,231.9L524.1,228.3L527.6,228.3L530.6,227.2L532.0,225.9L527.9,225.1L526.2,222.8L524.5,221.5L522.9,222.5L517.9,223.6L518.0,227.2L516.0,229.8L517.0,231.7L515.6,235.3L510.9,236.9L510.0,240.3L509.8,240.8L501.8,241.9L498.1,240.8L500.6,243.9L503.3,247.6L504.7,249.2L501.7,250.2Z"/>
<path d="M516.6,256.8L517.8,258.6L518.9,260.4L522.2,264.1L526.0,263.8L527.0,262.2L527.6,263.8L528.1,266.4L528.4,269.0L530.1,274.3L531.6,278.2L533.6,283.4L536.3,288.6L538.9,293.9L541.4,297.5L542.9,295.4L545.1,294.4L546.6,291.8L546.3,287.3L547.0,284.2L546.3,279.0L548.4,276.9L550.7,275.3L554.1,270.9L556.6,267.7L559.7,265.1L559.8,262.5L562.4,262.0L564.4,261.7L563.6,259.1L562.6,255.2L561.0,253.6L560.9,249.7L564.3,250.7L564.6,252.6L570.3,253.1L568.3,256.0L569.4,258.6L571.0,257.0L572.3,261.2L573.5,260.4L573.3,256.0L575.6,252.6L576.1,249.2L579.8,247.6L579.8,245.0L576.3,242.1L573.0,242.4L570.2,244.7L568.3,246.0L567.4,246.0L568.7,248.4L564.3,248.6L561.8,248.4L561.6,247.3L561.0,245.5L559.5,245.8L560.3,249.7L555.0,249.2L550.6,246.8L545.4,245.5L541.2,243.4L541.3,240.8L542.4,239.8L538.6,237.7L536.9,236.9L535.5,233.7L537.3,233.7L535.4,229.0L533.7,228.3L532.0,225.9L530.6,227.2L527.6,228.3L524.1,228.3L525.2,231.9L528.6,234.3L527.3,236.4L526.8,239.0L525.1,241.6L523.5,245.5L520.2,245.5L518.4,248.1L520.0,251.5L522.7,254.9L517.8,255.2Z"/>
<path d="M469.4,240.3L470.8,244.2L469.2,244.2L466.4,242.6L468.0,240.0Z"/>
<path d="M484.1,275.3L481.1,269.0L487.7,266.4L488.9,261.2L487.6,259.4L488.6,255.4L489.7,253.6L490.8,255.4L495.0,257.0L498.0,259.9L496.2,265.1L494.3,269.0L491.6,271.7L488.4,274.3ZM488.7,250.5L489.3,250.0L489.3,251.8Z"/>
<path d="M477.2,253.9L477.0,251.8L478.0,250.5L478.8,252.6L478.4,254.4Z"/>
<path d="M438.5,236.9L440.5,241.6L440.7,241.6L441.3,236.4L441.3,234.0L441.6,233.2L441.0,231.7L440.0,232.2L439.6,234.5Z"/>
<path d="M723.5,336.2L725.7,337.8L725.2,338.3L723.5,337.0ZM727.3,338.3L730.7,340.7L730.2,341.2L727.4,339.3ZM730.0,343.0L732.7,344.1L732.1,344.7L730.1,344.3ZM732.6,340.4L733.6,341.7L734.1,343.8L733.1,342.7ZM724.9,339.6L726.6,340.9L725.6,341.4ZM733.6,345.6L735.8,346.7L734.6,346.9Z"/>
<path d="M743.8,357.9L745.2,358.2L744.8,359.7L743.8,359.2ZM744.7,360.5L745.8,361.6L745.0,362.1ZM746.0,364.7L746.6,365.0L746.0,365.5Z"/>
<path d="M766.9,364.2L769.9,364.7L768.4,366.3L766.4,366.0ZM770.0,362.6L773.8,361.0L773.1,362.1L770.5,363.1Z"/>
<path d="M492.5,371.8L493.5,370.7L494.4,371.8L493.4,372.8Z"/>
</g>
<g fill="none" stroke="#6b6f7a" stroke-width="0.4" stroke-linejoin="round">
<path d="M255.1,124.0L261.2,125.5L256.2,126.9L261.9,128.3L269.6,128.3L273.1,129.9L273.1,132.4L273.7,135.5L273.7,138.7L279.2,139.2L273.7,142.0L277.4,143.1L271.6,146.4L270.1,149.8L271.3,153.3L273.0,157.9L274.4,161.5L280.0,163.8L282.7,164.1L285.8,160.3L289.6,156.7L292.7,152.6L297.8,150.3L304.3,148.7L309.5,145.3L317.4,144.4L320.4,142.0L325.8,140.5L323.0,138.1L327.4,136.6L324.5,134.9L330.5,133.0L333.5,130.3L332.5,127.9L335.3,125.3L333.7,122.8L337.9,120.7L346.2,118.1L339.3,117.6L332.6,117.0L324.9,115.4L314.4,114.9L303.1,115.6L291.3,116.7L279.9,117.2L274.4,118.6L267.7,119.8L267.5,121.6Z"/>
<path d="M172.2,297.5L172.3,295.4L173.1,293.6L175.5,295.4L177.9,294.7L180.2,293.6L182.5,294.1L184.9,296.0L185.3,298.1L183.6,299.9L182.5,297.5L180.1,295.2L178.2,297.0L177.8,299.6L176.0,298.8L174.3,297.3Z"/>
<path d="M186.7,254.4L188.0,256.5L188.4,254.9L187.8,252.8ZM188.9,248.9L190.5,250.0L190.1,251.0L189.9,249.7ZM188.9,253.4L189.3,253.4L189.1,253.1Z"/>
<path d="M225.4,297.0L228.3,299.6L230.5,302.2L231.2,303.3L230.9,304.8L229.5,306.7L229.2,308.5L230.8,310.1L232.6,313.7L231.4,313.7L227.2,315.6L225.2,314.0L224.8,311.6L225.5,308.5L224.7,305.6L223.1,305.1L221.5,303.3L222.2,301.2L223.2,299.1Z"/>
<path d="M374.7,189.8L375.2,188.3L376.0,189.0L375.9,189.8Z"/>
<path d="M401.9,208.0L401.8,207.4L402.1,205.9L403.1,205.1L405.2,207.4L403.9,209.3Z"/>
<path d="M433.3,227.2L434.7,226.4L438.1,225.4L436.8,227.2L434.9,228.3Z"/>
<path d="M446.5,281.3L449.0,281.6L449.6,279.8L452.2,280.3L454.5,280.8L456.8,281.8L460.2,286.0L458.9,288.1L459.0,289.9L461.3,290.2L463.0,293.9L464.2,295.2L471.2,297.8L473.5,297.8L466.8,305.6L463.3,306.2L459.9,307.7L457.6,308.5L454.1,309.8L450.9,309.3L448.1,307.2L445.8,306.7L444.4,304.6L441.3,300.7L439.0,298.3L441.4,293.9L441.8,291.0L443.2,290.5L443.5,287.9L445.8,285.5Z"/>
<path d="M324.5,284.5L328.6,284.2L331.4,283.7L328.7,282.6L324.5,283.2Z"/>
<path d="M541.2,243.4L545.4,245.5L550.6,246.8L555.0,249.2L560.3,249.7L559.5,245.8L554.8,245.5L549.8,243.2L544.6,239.8L542.4,239.8L541.3,240.8Z"/>
<path d="M650.3,342.2L652.7,340.9L655.7,340.7L654.0,342.2L650.7,343.3Z"/>
<path d="M454.5,221.7L459.6,221.5L461.6,224.6L463.5,226.7L462.2,228.5L463.9,232.4L468.3,235.6L468.4,237.7L470.5,240.3L469.4,240.3L468.0,240.0L466.4,242.6L462.3,242.4L455.8,237.4L452.0,235.3L449.3,234.8L448.0,231.4L452.5,228.8L452.3,223.3Z"/>
<path d="M688.4,325.5L692.9,327.6L697.4,330.7L699.6,333.1L702.9,335.2L703.5,336.5L702.0,338.0L704.6,342.2L707.7,345.6L709.4,346.1L705.4,345.6L701.6,344.1L699.0,340.4L695.7,338.8L693.3,340.4L691.9,342.7L687.3,342.5ZM704.8,333.3L708.8,332.3L712.4,329.9L714.3,329.9L712.2,333.1L708.7,334.9L705.2,334.4ZM710.8,325.8L714.8,328.6L715.8,330.7L713.7,328.4ZM719.6,333.1L721.9,336.5L720.6,335.4ZM701.4,323.9L703.2,324.2L702.3,324.7Z"/>
<path d="M487.8,373.9L488.7,372.9L489.4,373.9L488.6,374.8Z"/>
<path d="M501.8,446.4L503.7,445.6L505.1,446.9L504.0,448.1L501.7,447.9Z"/>
<path d="M532.1,307.7L532.5,307.2L533.0,307.7L532.5,308.2ZM532.0,313.5L532.4,312.9L532.9,313.5L532.4,314.0Z"/>
<path d="M-0.9,313.7L-0.3,313.1L0.2,313.7L-0.4,314.4Z"/>
<path d="M727.0,300.7L727.4,300.1L727.9,300.7L727.5,301.2ZM712.2,299.4L712.5,299.0L712.9,299.4L712.6,299.7ZM672.2,299.1L672.7,298.5L673.2,299.1L672.7,299.7ZM694.1,283.4L694.5,282.8L695.2,283.4L694.7,284.1Z"/>
<path d=""/>
</g>
<g fill="none" stroke="#6b6f7a" stroke-width="0.4" stroke-linejoin="round">
<path d="M105.6,233.7L111.1,233.2L110.7,233.7L118.0,236.9L124.2,236.9L124.6,235.6L128.3,235.6L131.1,241.3L133.5,242.9L135.7,240.8L138.1,240.8L139.5,244.7L140.8,246.8L141.1,249.7L145.1,250.7L142.8,256.0L142.1,260.4L142.9,264.3L144.3,268.3L145.9,269.8L148.0,271.1L152.7,270.1L155.0,270.3L157.1,268.3L158.3,264.3L162.8,262.5L166.2,262.5L166.4,264.3L164.4,267.7L163.3,270.9L162.2,270.3L161.6,271.9L160.2,271.9L155.9,272.2L155.7,273.7L156.6,275.6L156.7,276.6L153.7,276.6L152.3,279.0L152.1,280.8L149.5,277.7L147.3,276.4L142.6,277.7L138.3,276.1L135.1,274.3L131.3,271.9L127.6,270.9L124.7,267.7L123.7,265.4L124.8,262.5L123.8,259.1L121.1,255.2L118.4,252.0L118.0,248.9L116.3,246.8L114.7,244.2L113.5,240.8L113.1,237.1L110.1,235.6L109.2,239.0L110.6,242.9L111.7,246.6L113.2,250.2L114.2,253.9L116.1,258.1L114.8,258.8L112.1,255.2L111.2,252.0L109.0,248.9L107.2,246.6L108.7,244.2L106.6,240.8L106.0,237.7Z"/>
<path d="M231.2,303.3L234.2,303.5L238.5,303.3L237.3,305.9L238.4,309.3L237.0,312.7L234.0,313.7L232.6,313.7L230.8,310.1L229.2,308.5L229.5,306.7L230.9,304.8Z"/>
<path d="M211.3,378.3L213.1,375.7L215.7,376.5L217.9,378.3L218.6,376.2L221.6,376.7L225.6,380.9L229.1,382.5L233.7,385.1L232.1,389.8L236.8,390.3L238.4,390.3L240.5,385.6L242.6,388.5L243.0,389.8L238.7,392.9L235.4,397.6L234.9,402.3L235.3,407.3L235.5,408.4L238.6,411.0L238.6,412.8L240.3,413.8L239.2,418.0L236.6,419.8L232.6,420.6L229.6,420.1L231.0,424.8L228.6,426.1L225.4,425.8L225.9,428.4L228.7,428.7L229.5,430.5L226.9,432.3L227.5,436.1L224.3,438.4L224.6,440.0L228.3,441.8L229.1,443.6L227.0,446.9L225.2,450.2L226.1,452.9L228.2,454.7L223.9,454.2L220.0,453.4L218.1,450.9L215.6,447.6L215.9,443.8L215.3,438.7L214.6,434.9L212.2,429.7L210.6,424.5L210.4,419.3L209.4,414.1L209.9,410.7L209.4,405.0L207.7,399.7L207.8,395.8L208.6,391.4L209.6,387.4L209.2,382.7L211.5,381.4ZM228.3,455.7L229.7,457.2L233.0,459.4L237.0,460.6L234.9,461.6L230.6,461.1Z"/>
<path d="M221.6,376.7L221.8,372.3L223.0,369.9L228.8,369.1L231.0,370.5L231.8,372.8L232.2,376.5L235.4,376.7L237.5,377.8L238.2,381.2L240.8,381.7L240.5,385.6L238.4,390.3L236.8,390.3L232.1,389.8L233.7,385.1L229.1,382.5L225.6,380.9Z"/>
<path d="M376.7,180.0L378.6,179.2L379.7,178.7L380.1,177.5L379.6,176.3L382.1,176.5L382.4,177.5L384.4,178.5L387.2,177.5L390.6,178.7L391.1,180.2L390.7,181.5L392.0,183.2L392.8,185.2L392.5,186.2L389.9,186.7L387.6,187.8L388.1,189.0L390.9,191.6L389.4,192.8L389.5,194.9L387.4,194.6L384.4,195.1L382.6,194.9L380.3,194.4L378.5,194.6L379.5,191.0L375.9,189.8L376.0,189.0L375.2,188.3L375.4,187.0L375.0,186.5L375.3,185.0L374.9,184.0L376.2,183.5L376.8,182.2L377.1,180.5Z"/>
<path d="M379.6,176.3L378.6,174.8L378.4,172.1L379.3,170.9L382.8,169.4L382.6,172.1L383.8,172.6L382.5,174.0L381.8,175.3L382.1,176.5ZM384.1,174.3L385.9,173.3L387.2,174.3L386.5,175.5L385.8,176.8L384.4,175.5ZM381.8,175.0L383.5,174.8L383.6,175.8L382.3,175.8Z"/>
<path d="M375.5,197.7L377.3,195.1L378.5,194.6L380.3,194.4L382.6,194.9L382.4,195.9L384.3,196.4L384.3,197.4L382.1,197.7L381.5,199.0L380.2,197.9L379.3,199.0L377.4,199.0L377.0,198.7Z"/>
<path d="M382.6,194.9L384.4,195.1L387.4,194.6L389.5,194.9L389.4,192.8L390.9,191.6L393.3,191.0L397.2,191.8L397.7,193.6L396.4,195.1L395.9,196.4L393.0,197.7L391.1,197.4L388.4,196.9L387.7,196.1L384.3,196.4L382.4,195.9Z"/>
<path d="M387.6,187.8L389.9,186.7L392.5,186.2L395.3,187.2L396.8,187.8L400.8,189.8L399.3,191.0L397.2,191.8L393.3,191.0L390.9,191.6L388.1,189.0Z"/>
<path d="M397.2,191.8L399.3,191.0L400.8,189.8L403.3,190.3L408.4,190.8L408.0,192.6L404.5,192.3L401.2,194.1L397.7,193.6Z"/>
<path d="M390.6,178.7L394.9,177.2L398.7,176.5L401.0,177.5L407.2,177.5L408.7,178.7L409.9,181.7L409.6,183.2L409.8,184.7L411.0,186.2L408.4,190.8L403.3,190.3L400.8,189.8L396.8,187.8L395.3,187.2L392.5,186.2L392.8,185.2L392.0,183.2L390.7,181.5L391.1,180.2Z"/>
<path d="M395.9,196.4L396.4,195.1L397.7,193.6L401.2,194.1L404.5,192.3L408.0,192.6L409.5,193.6L406.6,197.2L404.7,198.4L401.7,199.0L399.0,199.0L396.8,197.4Z"/>
<path d="M391.1,197.4L393.0,197.7L395.9,196.4L396.8,197.4L395.3,198.2L394.6,200.0L391.1,200.0L391.0,199.5Z"/>
<path d="M418.1,212.4L419.2,210.8L418.0,209.8L419.8,209.0L422.0,209.0L424.5,211.1L421.2,211.6L419.7,213.1ZM418.8,214.2L421.0,213.1L424.6,212.9L424.8,211.1L429.4,210.8L433.1,209.0L436.7,209.0L440.1,210.8L444.5,211.9L447.7,211.6L450.6,210.3L453.4,210.3L455.0,211.3L455.9,213.9L458.5,215.0L458.0,218.3L459.6,221.5L454.5,221.7L450.8,221.7L446.9,222.8L443.0,222.8L442.5,224.1L441.1,224.9L441.3,223.0L438.6,222.8L436.6,223.8L434.1,224.6L429.1,222.5L427.1,224.1L423.9,222.8L421.9,222.0L421.5,219.6L419.4,218.6L420.3,216.8L418.7,215.5Z"/>
<path d="M333.5,246.3L334.2,245.6L337.4,243.7L340.3,241.9L341.5,239.0L341.4,236.4L342.8,233.5L344.4,231.7L347.9,229.6L350.0,226.7L350.2,225.1L351.5,224.9L353.6,226.7L356.5,226.4L358.2,227.0L359.3,228.5L359.3,231.7L360.4,234.0L356.6,235.1L354.8,237.1L354.8,237.9L351.9,240.3L350.3,241.3L347.2,241.3L343.6,243.7L343.6,246.3Z"/>
<path d="M441.4,307.7L441.2,308.8L437.7,309.0L434.3,309.3L434.1,312.4L435.3,313.2L432.0,316.9L431.3,320.0L431.3,322.4L433.4,321.3L441.5,321.3L441.5,318.7L442.7,315.8L443.8,314.3L442.4,309.6Z"/>
<path d="M398.7,299.1L402.1,298.6L406.3,297.8L406.7,295.2L409.0,294.9L412.8,291.0L415.6,290.2L417.3,295.4L418.7,296.0L421.3,299.6L423.8,301.4L426.2,305.4L421.8,305.1L419.3,305.6L415.8,306.4L414.7,308.0L410.5,307.2L408.0,305.6L405.9,307.5L405.9,309.6L403.4,309.3L401.3,309.6L400.4,312.9L399.9,312.7L398.1,308.8L396.4,305.6L396.6,302.5Z"/>
<path d="M385.2,316.1L389.1,316.1L389.1,312.9L393.7,312.9L393.5,315.3L395.8,315.0L396.5,316.6L395.1,319.2L396.5,320.3L396.2,323.7L395.8,325.0L393.0,325.0L391.9,323.9L389.8,325.0L390.5,327.8L388.6,328.9L385.2,325.0L383.3,320.5L384.5,317.9Z"/>
<path d="M420.6,365.2L424.5,365.5L428.7,361.8L429.2,360.3L432.4,359.5L433.8,360.5L438.0,362.4L438.2,363.1L437.6,367.1L437.9,370.5L436.5,374.4L433.7,377.3L429.4,376.7L426.3,375.2L425.8,372.3L422.5,369.9Z"/>
<path d="M473.7,209.5L476.5,208.2L480.3,210.8L481.4,210.8L483.5,210.8L484.8,207.7L485.7,207.2L489.2,208.5L490.0,210.6L494.0,211.3L496.0,214.2L499.9,216.8L503.5,218.6L505.9,219.4L506.3,221.2L504.5,220.7L502.8,221.7L502.6,223.8L500.1,225.1L498.4,226.4L495.9,225.6L495.1,223.0L493.4,223.0L490.7,220.7L486.0,218.9L484.0,219.4L482.0,219.1L481.1,221.0L479.2,221.2L478.3,217.0L476.8,215.7L476.6,214.2L475.5,213.7L475.3,211.9L477.9,212.1L478.3,210.3L475.6,209.5L474.8,210.8Z"/>
<path d="M546.5,293.3L548.8,294.4L551.4,299.1L551.0,301.7L548.8,303.3L547.3,302.2L546.7,297.8Z"/>
<path d="M582.7,304.1L587.8,305.1L593.8,310.9L597.3,313.5L602.0,317.4L602.7,321.3L604.2,323.4L607.6,326.5L606.9,333.9L603.9,333.9L599.0,329.2L595.7,324.5L593.4,320.0L590.9,314.3L586.8,310.1L583.2,306.2ZM605.3,336.5L608.4,334.4L613.0,335.7L617.6,336.5L618.7,335.7L622.6,337.0L626.4,339.1L626.4,341.4L620.7,340.7L613.9,339.1L608.2,338.0ZM616.0,314.0L618.1,316.3L622.0,315.0L625.3,315.3L627.8,314.0L629.1,310.9L630.1,307.5L634.3,307.7L634.8,310.9L635.4,313.5L637.8,316.1L634.8,317.4L634.3,320.8L631.9,324.7L630.6,328.4L627.6,329.4L623.7,327.3L620.3,327.3L617.3,326.3L616.9,322.6L614.7,320.0L614.7,316.6ZM639.6,316.6L641.9,315.3L648.1,316.3L652.0,314.8L650.5,317.4L647.0,317.9L642.4,317.4L640.1,318.7L642.4,321.3L647.7,320.8L647.0,322.4L643.9,323.7L645.7,327.1L647.1,330.5L645.4,332.8L643.2,331.0L642.2,326.0L640.6,326.5L640.5,333.1L638.5,333.1L638.7,327.8L637.2,326.0L638.4,322.1L639.6,318.7ZM665.5,320.8L668.9,319.7L672.4,320.8L674.5,327.3L678.1,324.5L681.6,322.9L688.4,325.5L687.3,342.5L683.0,339.6L680.6,340.7L682.0,337.0L681.1,333.1L675.5,330.2L669.8,329.2L669.4,327.3L672.3,325.2L671.2,324.5L667.6,326.0L665.4,322.4ZM627.7,340.4L632.2,340.7L636.8,340.9L636.8,341.4L631.0,342.2ZM639.2,340.4L646.1,340.4L645.5,341.4L639.1,341.7ZM646.8,345.6L649.3,342.7L650.5,342.2L650.7,343.3L648.9,345.1ZM636.6,343.5L640.7,344.6L638.7,345.6ZM657.3,314.0L658.5,317.4L659.7,320.0L657.9,318.7ZM658.4,326.5L664.8,327.1L661.8,327.8ZM653.7,327.1L656.1,327.1L655.3,328.6ZM607.7,323.9L609.3,325.5L607.2,325.8ZM672.3,333.9L673.5,333.3L672.9,335.7Z"/>
<path d="M626.4,306.7L628.6,305.6L628.2,307.2Z"/>
<path d="M637.0,270.3L640.8,270.3L642.0,275.6L640.5,278.2L641.5,281.6L644.6,282.4L647.3,285.8L645.5,284.7L643.5,283.2L640.5,283.2L639.0,281.6L639.5,280.3L637.6,280.0L636.3,276.1L637.2,273.0ZM644.0,300.4L644.3,298.1L647.1,296.0L651.5,293.3L654.0,297.8L654.5,301.7L652.3,303.5L651.6,300.9L648.7,301.2L648.5,299.4L644.7,300.4ZM648.2,286.0L651.6,289.2L650.8,292.6L649.3,291.3L648.3,288.6ZM642.9,287.9L645.5,288.6L646.8,292.6L645.9,294.7L644.4,293.1L643.3,291.0ZM632.9,296.5L637.5,291.0L636.9,289.4L635.4,293.3ZM638.8,283.7L641.1,283.9L640.9,286.5Z"/>
<path d="M440.8,242.1L443.0,242.4L446.1,240.3L447.1,239.0L444.6,236.4L449.3,234.8L452.0,235.3L455.8,237.4L462.3,242.4L466.4,242.6L469.2,244.2L470.8,244.2L472.4,246.8L475.4,249.4L475.2,252.0L477.2,253.9L478.4,254.4L479.1,255.2L481.7,258.8L487.6,259.4L488.9,261.2L487.7,266.4L481.1,269.0L474.4,270.1L472.6,271.1L468.7,273.7L463.2,273.2L461.6,273.0L460.6,275.8L459.8,273.0L456.1,267.7L451.7,262.5L449.8,257.3L446.6,253.4L444.7,249.4L441.5,245.5L440.1,245.2Z"/>
<path d="M440.8,242.1L443.0,242.4L446.1,240.3L447.1,239.0L444.6,236.4L449.3,234.8L448.0,231.4L443.9,234.3L441.6,233.2L441.3,234.0L441.3,236.4L440.7,241.6Z"/>
</g>
<g fill="none" stroke="#6b6f7a" stroke-width="0.4" stroke-linejoin="round">
<path d="M193.6,270.6L196.9,271.1L199.6,271.4L200.1,267.2L197.9,266.7L196.4,267.2L197.9,268.3L198.4,270.1L195.9,270.1L193.7,269.8Z"/>
<path d="M343.4,184.2L347.2,184.2L350.4,183.0L351.1,180.2L351.0,178.2L348.8,178.2L347.3,177.2L348.9,176.0L348.8,175.3L347.0,175.8L346.4,177.2L344.2,178.0L344.8,180.2L343.7,182.5Z"/>
<path d="M432.5,386.7L434.5,386.1L434.8,388.8L432.9,390.1L431.9,388.5Z"/>
<path d="M635.5,219.9L638.1,217.8L642.2,221.7L644.3,225.9L643.7,227.0L640.9,228.0L638.8,228.8L637.6,225.9L636.8,223.3L635.4,222.0Z"/>
<path d="M599.1,288.1L597.8,286.0L597.7,283.2L598.7,281.3L603.7,281.3L605.6,282.4L606.6,280.8L608.8,280.3L609.2,283.4L609.8,286.5L607.2,288.1L606.2,289.9L603.1,291.5L601.2,291.3Z"/>
</g>
<g fill="none" stroke="#6b6f7a" stroke-width="0.4" stroke-linejoin="round">
<path d="M210.1,271.7L213.5,271.7L213.8,270.6L210.2,270.3Z"/>
</g>
<g fill="url(#h)" stroke="#c4c4c4" stroke-width="0.4" stroke-linejoin="round">
<path d="M199.4,287.9L198.6,290.2L199.9,290.2L201.9,288.6L202.7,286.8L203.0,288.6L205.7,289.9L206.3,291.0L210.9,291.0L213.6,292.3L215.3,291.5L218.3,290.7L220.8,290.7L218.9,291.8L219.8,292.8L222.7,293.9L223.1,296.2L224.9,296.5L225.4,297.0L223.2,299.1L222.2,301.2L221.5,303.3L223.1,305.1L222.3,306.9L218.4,308.2L215.4,308.0L214.0,309.6L216.7,312.4L215.3,313.7L211.8,316.6L209.9,316.9L208.5,315.6L207.9,312.7L206.5,311.4L207.7,309.8L206.6,307.5L206.7,304.8L207.5,302.5L203.1,302.8L200.2,300.1L197.2,300.4L196.0,299.4L196.4,296.7L195.6,294.9L195.2,293.1L195.3,291.5L196.5,289.7L197.8,288.4Z"/>
<path d="M238.5,303.3L241.0,305.1L243.7,307.7L243.7,308.2L241.6,312.4L237.0,312.7L238.4,309.3L237.3,305.9Z"/>
<path d="M409.6,203.8L410.3,203.8L414.1,204.9L418.2,204.4L422.6,204.6L422.0,209.0L419.8,209.0L418.0,209.8L414.7,210.3L411.5,210.7L410.1,208.2L411.1,205.9Z"/>
<path d="M333.5,246.3L343.6,246.3L343.6,247.3L343.5,250.7L336.1,250.7L336.0,257.3L333.7,258.6L333.6,263.0L324.5,263.0L324.6,261.5L326.5,258.3L327.2,256.5L329.5,253.4L330.5,250.2L332.6,248.9Z"/>
<path d="M388.2,231.9L391.5,232.7L396.4,234.3L397.9,236.6L402.8,239.0L406.8,239.2L407.3,235.1L410.2,232.7L414.0,234.3L418.6,236.1L417.7,239.8L418.6,242.4L419.5,261.2L419.7,266.4L417.4,266.4L417.5,267.7L399.1,257.3L396.8,258.6L395.1,259.6L389.8,257.3L385.5,254.4L384.9,249.2L385.0,242.9L384.0,239.5L385.3,237.9L385.7,235.8L388.3,234.0Z"/>
<path d="M417.5,267.7L417.4,266.4L419.7,266.4L419.5,261.2L446.4,261.2L447.2,263.8L447.4,267.5L448.2,269.8L450.8,271.7L449.3,273.2L447.3,274.3L446.2,279.2L446.5,281.3L445.8,285.5L443.5,287.9L443.2,290.5L441.8,291.0L441.4,293.9L440.9,292.0L439.3,290.7L438.9,286.8L438.0,286.8L436.4,287.3L437.4,289.7L435.2,293.1L433.8,293.1L431.7,291.8L429.4,293.6L427.1,293.6L424.4,293.9L422.3,291.5L420.4,291.8L419.6,295.4L418.7,296.0L417.3,295.4L415.6,290.2L414.6,285.8L413.4,283.2L414.5,281.6L415.3,277.9L417.8,277.7Z"/>
<path d="M441.4,293.9L439.0,298.3L441.3,300.7L444.4,304.6L445.8,306.7L441.4,307.7L441.2,308.8L437.7,309.0L434.3,309.3L432.7,307.5L430.3,307.2L426.2,305.4L423.8,301.4L421.3,299.6L418.7,296.0L419.6,295.4L420.4,291.8L422.3,291.5L424.4,293.9L427.1,293.6L429.4,293.6L431.7,291.8L433.8,293.1L435.2,293.1L437.4,289.7L436.4,287.3L438.0,286.8L438.9,286.8L439.3,290.7L440.9,292.0Z"/>
<path d="M450.8,271.7L452.7,277.1L454.9,279.5L458.5,282.9L461.8,285.5L460.2,286.0L456.8,281.8L454.5,280.8L452.2,280.3L449.6,279.8L449.0,281.6L446.5,281.3L446.2,279.2L447.3,274.3L449.3,273.2Z"/>
<path d="M462.4,288.6L464.6,291.5L468.6,290.5L473.2,289.4L477.8,288.6L480.5,287.6L480.4,291.5L479.8,294.1L477.6,297.8L474.8,304.3L469.2,312.4L465.7,314.8L461.1,320.0L459.0,323.1L457.7,321.1L457.6,311.4L457.6,308.5L459.9,307.7L463.3,306.2L466.8,305.6L473.5,297.8L471.2,297.8L464.2,295.2L463.0,293.9L461.3,290.2Z"/>
<path d="M336.5,300.7L339.3,296.5L341.6,296.7L341.4,299.4L343.9,298.8L343.4,301.7L345.7,303.5L345.7,307.2L342.2,305.6L338.8,302.5Z"/>
<path d="M633.9,258.6L634.8,253.4L636.9,253.4L636.8,258.1L636.1,261.5Z"/>
<path d="M627.7,214.2L629.9,211.9L630.5,209.5L633.2,210.3L633.1,209.3L635.5,208.0L637.4,208.0L637.7,208.2L636.8,210.3L637.9,212.1L634.7,215.0L635.2,216.3L638.1,217.8L635.5,219.9L632.6,220.2L630.8,219.1L631.3,217.6L629.7,215.2Z"/>
<path d="M460.6,275.8L461.6,273.0L463.2,273.2L468.7,273.7L472.6,271.1L474.4,270.1L481.1,269.0L484.1,275.3L482.2,277.9L475.1,281.6L470.7,283.7L466.1,285.2L462.7,285.5L462.0,283.9L460.9,280.0Z"/>
<path d="M441.1,224.9L442.5,224.1L443.0,222.8L446.9,222.8L450.8,221.7L454.5,221.7L452.3,223.3L452.5,228.8L448.0,231.4L443.9,234.3L441.6,233.2L441.0,231.7L442.9,229.3L442.4,228.3L441.5,228.3L441.0,226.2Z"/>
<path d="M734.9,371.2L737.7,373.6L740.2,377.0L739.1,377.0L736.2,374.9L734.6,372.3Z"/>
</g>
<g fill="none" stroke="#6b6f7a" stroke-width="0.4" stroke-linejoin="round">
<path d="M408.7,178.7L409.9,181.7L409.6,183.2L409.8,184.7L412.4,183.7L417.5,184.7L423.5,185.2L425.7,183.2L424.6,180.5L426.8,179.7L422.8,176.0L422.3,174.5L416.9,173.3L414.0,174.3L412.8,176.3L412.4,177.7Z"/>
<path d="M385.6,312.7L389.1,312.9L389.1,316.1L385.2,316.1Z"/>
<path d="M478.9,201.3L483.8,199.7L489.7,202.8L492.4,205.1L498.3,204.6L501.4,206.4L502.0,209.0L503.1,209.3L507.2,211.6L508.8,210.6L510.8,209.0L512.2,208.2L511.4,210.3L513.9,210.0L517.9,212.1L516.0,213.4L513.3,213.7L512.3,211.9L510.2,212.4L509.7,213.7L508.0,215.2L509.8,218.9L509.2,221.5L506.3,221.2L505.9,219.4L503.5,218.6L499.9,216.8L496.0,214.2L494.0,211.3L490.0,210.6L489.2,208.5L485.7,207.2L484.8,207.7L483.5,210.8L481.4,210.8Z"/>
<path d="M539.0,190.8L539.9,190.5L542.4,192.8L548.4,196.1L551.0,200.5L556.5,201.3L561.6,203.3L564.9,206.9L566.3,206.9L574.9,207.4L584.6,210.0L588.8,208.0L594.6,206.9L595.1,203.8L594.6,201.3L598.6,201.5L602.0,199.5L603.9,197.4L608.6,196.9L607.9,196.1L602.1,194.4L598.2,193.6L597.4,191.6L597.0,188.8L599.9,189.8L601.5,188.5L600.9,184.7L599.1,180.2L604.0,179.7L610.7,182.0L618.9,189.0L625.5,191.3L627.3,191.6L632.5,194.1L636.5,192.6L636.9,194.6L638.1,201.0L634.7,201.5L636.5,205.1L637.1,207.4L637.4,208.0L635.5,208.0L633.1,209.3L633.2,210.3L630.5,209.5L629.9,211.9L627.7,214.2L625.3,215.2L622.6,217.3L622.3,214.4L622.4,212.9L619.3,211.9L617.5,214.7L615.1,216.3L615.3,218.1L618.8,220.7L620.8,221.7L622.8,219.9L626.9,221.0L627.3,222.3L624.1,224.3L622.7,227.2L625.4,229.0L628.6,233.5L631.7,235.8L632.4,237.9L629.8,239.5L633.5,240.5L633.8,244.2L632.3,247.6L631.2,251.3L629.5,254.4L626.7,257.3L623.7,259.4L621.0,260.4L618.4,261.2L615.2,262.5L612.8,263.0L612.8,265.6L611.1,262.5L608.3,262.0L607.3,262.5L604.8,261.2L603.6,259.1L600.4,257.8L597.7,259.4L594.4,259.4L593.6,260.1L593.2,263.3L592.0,263.0L591.6,261.7L589.2,262.5L587.2,260.9L587.2,258.6L585.5,256.0L582.7,256.0L584.1,251.3L583.4,246.8L580.2,244.7L579.8,245.0L576.3,242.1L573.0,242.4L570.2,244.7L568.3,246.0L567.4,246.0L563.6,245.0L561.7,246.8L561.6,247.3L561.0,245.5L559.5,245.8L554.8,245.5L549.8,243.2L544.6,239.8L542.4,239.8L538.6,237.7L536.9,236.9L535.5,233.7L537.3,233.7L535.4,229.0L533.7,228.3L532.0,225.9L527.9,225.1L526.2,222.8L524.5,221.5L523.6,218.3L521.1,217.8L520.2,215.5L520.2,214.7L521.8,213.1L524.4,213.1L525.6,211.6L528.7,210.3L531.7,208.5L531.1,206.4L532.0,205.9L529.8,202.3L528.4,201.5L533.5,200.8L532.8,200.0L532.5,195.6L537.7,195.9L536.8,192.6ZM609.9,268.5L611.3,266.4L614.5,266.4L614.1,269.6L612.1,271.1Z"/>
<path d="M649.1,229.8L648.8,228.8L650.9,226.2L654.0,225.6L658.2,225.4L658.2,222.3L658.7,220.7L658.9,222.5L661.4,221.0L662.0,218.1L661.2,214.7L660.0,212.6L661.3,210.6L663.3,212.9L665.9,215.5L666.6,218.6L666.6,220.7L668.0,224.6L668.8,225.4L667.7,227.2L666.8,226.2L665.4,227.0L665.3,228.0L664.3,228.3L661.7,228.3L661.8,229.0L660.8,231.1L658.4,230.1L657.3,228.3L655.3,228.5L652.3,229.3L649.4,230.1ZM658.6,210.3L657.9,208.2L656.4,207.4L656.5,205.6L658.8,205.6L655.5,200.2L660.0,202.8L664.9,203.1L667.1,205.6L665.1,209.0L664.5,209.0L660.6,207.4L659.1,207.7L660.0,209.8ZM647.3,231.9L649.4,230.1L652.6,232.4L652.7,235.6L652.1,236.9L650.5,237.1L649.4,234.3L647.9,233.2ZM652.8,231.4L653.7,229.8L656.7,229.3L657.1,231.1L655.0,233.0Z"/>
<path d="M564.4,261.7L563.6,259.1L562.6,255.2L561.0,253.6L560.9,249.7L564.3,250.7L564.6,252.6L570.3,253.1L568.3,256.0L569.4,258.6L571.0,257.0L572.3,261.2L572.5,263.0L572.1,264.6L571.1,262.5L570.4,260.4L567.7,260.7L566.4,261.5Z"/>
<path d="M572.1,264.6L572.5,263.0L572.3,261.2L573.5,260.4L573.3,256.0L575.6,252.6L576.1,249.2L579.8,247.6L579.8,245.0L580.2,244.7L583.4,246.8L584.1,251.3L582.7,256.0L585.5,256.0L587.2,258.6L587.2,260.9L589.2,262.5L591.6,261.7L592.0,263.0L590.3,265.4L589.9,265.6L588.6,265.9L585.8,267.2L585.1,270.3L584.5,270.9L587.9,275.6L587.4,279.0L590.3,284.2L590.6,287.9L589.8,291.5L589.4,292.6L589.2,287.3L587.4,282.6L586.1,277.4L585.9,275.6L584.6,274.5L582.0,276.1L580.8,277.4L578.3,276.9L578.2,273.0L577.1,269.6L575.1,266.9L573.4,265.6Z"/>
<path d="M589.4,292.6L589.8,291.5L590.6,287.9L590.3,284.2L587.4,279.0L587.9,275.6L584.5,270.9L585.1,270.3L585.8,267.2L588.6,265.9L589.9,265.6L591.1,267.7L592.7,267.7L592.9,272.2L595.3,271.1L596.7,271.9L599.5,270.9L601.7,273.2L602.1,275.8L604.2,277.9L604.4,281.1L603.7,281.3L598.7,281.3L597.7,283.2L597.8,286.0L599.1,288.1L597.4,286.8L594.5,285.5L594.1,283.4L592.0,283.7L592.4,287.3L590.9,291.3L591.4,294.4L593.8,296.7L594.4,299.6L597.3,300.9L598.3,302.5L596.0,303.8L593.9,301.7L593.6,301.7L592.6,300.4L589.7,297.3L589.1,295.2Z"/>
<path d="M607.3,262.5L604.8,261.2L603.6,259.1L600.4,257.8L597.7,259.4L594.4,259.4L593.6,260.1L595.7,262.0L598.5,264.1L600.9,266.4L599.1,268.0L602.2,270.1L606.0,274.5L608.2,277.4L608.8,280.3L609.2,283.4L609.8,286.5L607.2,288.1L606.2,289.9L603.1,291.5L604.6,296.0L608.2,291.8L609.5,291.3L613.2,288.6L613.7,284.7L611.9,279.0L608.1,275.0L605.4,272.2L603.4,269.0L604.8,265.1L606.9,262.8Z"/>
<path d="M593.6,301.7L596.0,303.8L598.3,302.5L601.5,306.7L601.9,311.4L603.6,315.0L601.7,315.0L597.0,311.4L595.3,308.2L594.4,304.3ZM616.0,314.0L619.7,312.2L620.1,311.4L623.7,310.3L625.9,306.9L628.6,305.6L630.3,302.5L632.0,300.4L634.2,302.2L637.8,304.8L635.6,307.5L634.3,307.7L630.1,307.5L629.1,310.9L627.8,314.0L625.3,315.3L622.0,315.0L618.1,316.3Z"/>
<path d="M458.5,215.0L458.0,218.3L459.6,221.5L461.6,224.6L463.5,226.7L462.2,228.5L463.9,232.4L468.3,235.6L468.4,237.7L470.5,240.3L472.7,239.8L475.9,242.9L478.1,246.0L482.7,248.9L487.1,248.6L489.1,247.9L491.2,251.0L495.0,252.3L501.3,252.8L501.7,250.2L504.7,249.2L503.3,247.6L500.6,243.9L498.1,240.8L499.5,237.7L497.1,236.4L495.9,232.2L495.9,229.0L495.9,225.6L495.1,223.0L493.4,223.0L490.7,220.7L486.0,218.9L484.0,219.4L482.0,219.1L481.1,221.0L479.2,221.2L475.4,222.8L471.9,221.5L469.6,220.7L467.9,218.3L465.7,217.0L466.1,215.7L463.4,216.3L461.6,217.0L459.0,215.7Z"/>
</g>
<g font-family="Liberation Sans, sans-serif" font-size="13" fill="#5b5b5b" text-anchor="middle">
<rect x="186.2" y="517.1" width="47.6" height="11.2" fill="url(#h2)" stroke="#b4b4b4" stroke-width="0.7"/>
<line x1="209.9" x2="209.9" y1="514" y2="517.1" stroke="#b4b4b4" stroke-width="0.7"/>
<text x="209.9" y="509.9">No data</text>
<rect x="253.2" y="517.1" width="58.6" height="11.2" fill="#f6eff7"/>
<rect x="311.8" y="517.1" width="58.6" height="11.2" fill="#d0d1e6"/>
<rect x="370.4" y="517.1" width="58.6" height="11.2" fill="#a6bddb"/>
<rect x="429.0" y="517.1" width="58.6" height="11.2" fill="#67a9cf"/>
<rect x="487.6" y="517.1" width="58.6" height="11.2" fill="#3690c0"/>
<rect x="546.2" y="517.1" width="58.6" height="11.2" fill="#02818a"/>
<path d="M604.8,517.1L658.7,517.1L664.2,522.7L658.7,528.3L604.8,528.3Z" fill="#016450"/>
<path d="M253.2,517.1L658.7,517.1L664.2,522.7L658.7,528.3L253.2,528.3Z" fill="none" stroke="#a9a9a9" stroke-width="0.6"/>
<line x1="253.2" x2="253.2" y1="512.6" y2="528.3" stroke="#8f8f8f" stroke-opacity="0.6" stroke-width="0.7"/>
<text x="253.2" y="509.9">0%</text>
<line x1="311.8" x2="311.8" y1="512.6" y2="528.3" stroke="#8f8f8f" stroke-opacity="0.6" stroke-width="0.7"/>
<text x="311.8" y="509.9">5%</text>
<line x1="370.4" x2="370.4" y1="512.6" y2="528.3" stroke="#8f8f8f" stroke-opacity="0.6" stroke-width="0.7"/>
<text x="370.4" y="509.9">10%</text>
<line x1="429.0" x2="429.0" y1="512.6" y2="528.3" stroke="#8f8f8f" stroke-opacity="0.6" stroke-width="0.7"/>
<text x="429.0" y="509.9">15%</text>
<line x1="487.6" x2="487.6" y1="512.6" y2="528.3" stroke="#8f8f8f" stroke-opacity="0.6" stroke-width="0.7"/>
<text x="487.6" y="509.9">20%</text>
<line x1="546.2" x2="546.2" y1="512.6" y2="528.3" stroke="#8f8f8f" stroke-opacity="0.6" stroke-width="0.7"/>
<text x="546.2" y="509.9">25%</text>
<line x1="604.8" x2="604.8" y1="512.6" y2="528.3" stroke="#8f8f8f" stroke-opacity="0.6" stroke-width="0.7"/>
<text x="604.8" y="509.9">30%</text>
</g>
</svg>
<div id="title">Share of manufacturing in gross domestic product (GDP), 2024</div>
<div id="sub">Manufacturing comprises units engaged in the physical, or chemical transformation of materials, substances, or<br>components into new products.</div>
<div id="logo">Our World<br>in Data</div>
<div id="foot"><b>Data source:</b><span> National statistical organizations and central banks, OECD national accounts, and World Bank staff estimates (2026)</span><br>OurWorldinData.org/economic-growth | CC BY</div>
</body></html>
